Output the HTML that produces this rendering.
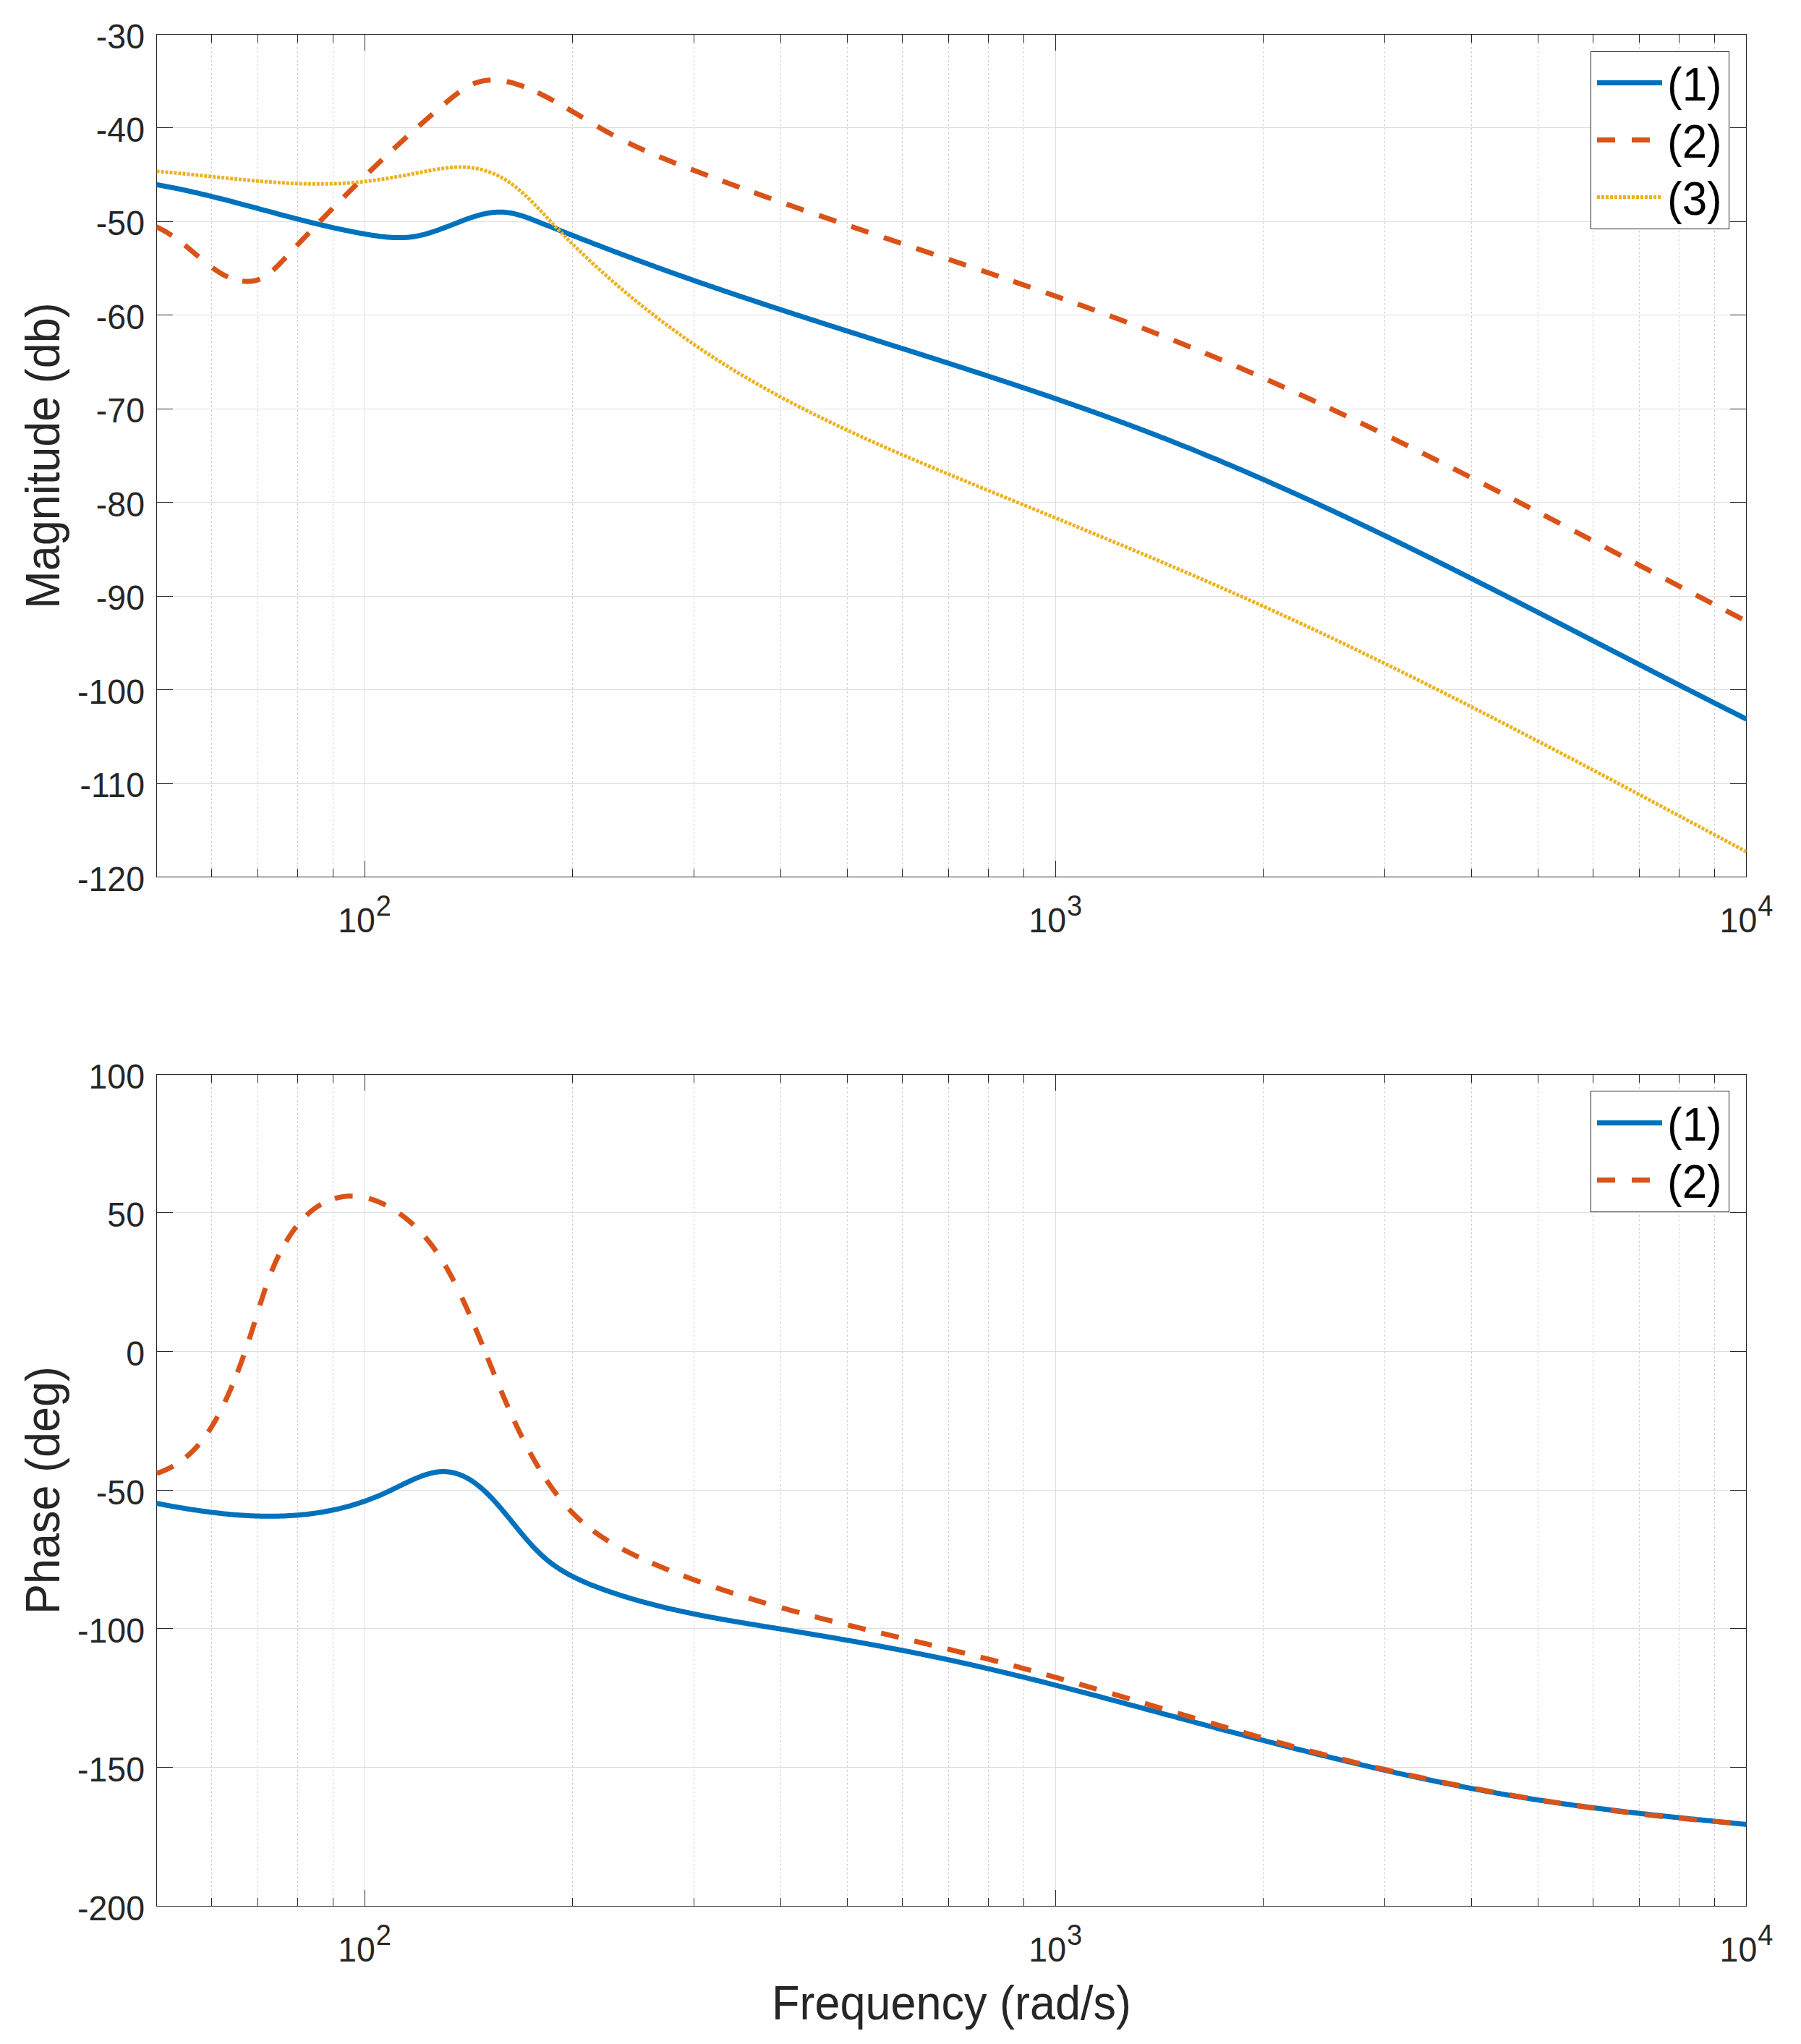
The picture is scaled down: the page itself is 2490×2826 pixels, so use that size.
<!DOCTYPE html>
<html><head><meta charset="utf-8"><title>Bode plot</title>
<style>html,body{margin:0;padding:0;background:#fff;} body{width:2490px;height:2826px;overflow:hidden;} svg{display:block;}</style>
</head><body>
<svg width="2490" height="2826" viewBox="0 0 2490 2826">
<style>text{font-family:'Liberation Sans', Arial, Helvetica, sans-serif;fill:#262626;} .tk{font-size:46.5px;} .sup{font-size:38px;} .lab{font-size:63px;} .lg{font-size:62px;fill:#000;}</style>
<rect width="2490" height="2826" fill="#fff"/>
<defs><clipPath id="cu"><rect x="216.5" y="47.5" width="2198.0" height="1165.0"/></clipPath><clipPath id="cl"><rect x="216.5" y="1485.5" width="2198.0" height="1150.0"/></clipPath></defs>
<line x1="292.5" y1="47.5" x2="292.5" y2="1212.5" stroke="#c4c4c4" stroke-width="1" stroke-dasharray="2.3 3.6"/>
<line x1="356.5" y1="47.5" x2="356.5" y2="1212.5" stroke="#c4c4c4" stroke-width="1" stroke-dasharray="2.3 3.6"/>
<line x1="411.5" y1="47.5" x2="411.5" y2="1212.5" stroke="#c4c4c4" stroke-width="1" stroke-dasharray="2.3 3.6"/>
<line x1="460.5" y1="47.5" x2="460.5" y2="1212.5" stroke="#c4c4c4" stroke-width="1" stroke-dasharray="2.3 3.6"/>
<line x1="791.5" y1="47.5" x2="791.5" y2="1212.5" stroke="#c4c4c4" stroke-width="1" stroke-dasharray="2.3 3.6"/>
<line x1="959.5" y1="47.5" x2="959.5" y2="1212.5" stroke="#c4c4c4" stroke-width="1" stroke-dasharray="2.3 3.6"/>
<line x1="1079.5" y1="47.5" x2="1079.5" y2="1212.5" stroke="#c4c4c4" stroke-width="1" stroke-dasharray="2.3 3.6"/>
<line x1="1171.5" y1="47.5" x2="1171.5" y2="1212.5" stroke="#c4c4c4" stroke-width="1" stroke-dasharray="2.3 3.6"/>
<line x1="1247.5" y1="47.5" x2="1247.5" y2="1212.5" stroke="#c4c4c4" stroke-width="1" stroke-dasharray="2.3 3.6"/>
<line x1="1311.5" y1="47.5" x2="1311.5" y2="1212.5" stroke="#c4c4c4" stroke-width="1" stroke-dasharray="2.3 3.6"/>
<line x1="1366.5" y1="47.5" x2="1366.5" y2="1212.5" stroke="#c4c4c4" stroke-width="1" stroke-dasharray="2.3 3.6"/>
<line x1="1415.5" y1="47.5" x2="1415.5" y2="1212.5" stroke="#c4c4c4" stroke-width="1" stroke-dasharray="2.3 3.6"/>
<line x1="1746.5" y1="47.5" x2="1746.5" y2="1212.5" stroke="#c4c4c4" stroke-width="1" stroke-dasharray="2.3 3.6"/>
<line x1="1914.5" y1="47.5" x2="1914.5" y2="1212.5" stroke="#c4c4c4" stroke-width="1" stroke-dasharray="2.3 3.6"/>
<line x1="2034.5" y1="47.5" x2="2034.5" y2="1212.5" stroke="#c4c4c4" stroke-width="1" stroke-dasharray="2.3 3.6"/>
<line x1="2126.5" y1="47.5" x2="2126.5" y2="1212.5" stroke="#c4c4c4" stroke-width="1" stroke-dasharray="2.3 3.6"/>
<line x1="2202.5" y1="47.5" x2="2202.5" y2="1212.5" stroke="#c4c4c4" stroke-width="1" stroke-dasharray="2.3 3.6"/>
<line x1="2266.5" y1="47.5" x2="2266.5" y2="1212.5" stroke="#c4c4c4" stroke-width="1" stroke-dasharray="2.3 3.6"/>
<line x1="2321.5" y1="47.5" x2="2321.5" y2="1212.5" stroke="#c4c4c4" stroke-width="1" stroke-dasharray="2.3 3.6"/>
<line x1="2370.5" y1="47.5" x2="2370.5" y2="1212.5" stroke="#c4c4c4" stroke-width="1" stroke-dasharray="2.3 3.6"/>
<line x1="504.5" y1="47.5" x2="504.5" y2="1212.5" stroke="#dedede" stroke-width="1"/>
<line x1="1459.5" y1="47.5" x2="1459.5" y2="1212.5" stroke="#dedede" stroke-width="1"/>
<line x1="216.5" y1="176.5" x2="2414.5" y2="176.5" stroke="#dedede" stroke-width="1"/>
<line x1="216.5" y1="306.5" x2="2414.5" y2="306.5" stroke="#dedede" stroke-width="1"/>
<line x1="216.5" y1="435.5" x2="2414.5" y2="435.5" stroke="#dedede" stroke-width="1"/>
<line x1="216.5" y1="565.5" x2="2414.5" y2="565.5" stroke="#dedede" stroke-width="1"/>
<line x1="216.5" y1="694.5" x2="2414.5" y2="694.5" stroke="#dedede" stroke-width="1"/>
<line x1="216.5" y1="824.5" x2="2414.5" y2="824.5" stroke="#dedede" stroke-width="1"/>
<line x1="216.5" y1="953.5" x2="2414.5" y2="953.5" stroke="#dedede" stroke-width="1"/>
<line x1="216.5" y1="1083.5" x2="2414.5" y2="1083.5" stroke="#dedede" stroke-width="1"/>
<path d="M292.5 1213V1201M292.5 47V59M356.5 1213V1201M356.5 47V59M411.5 1213V1201M411.5 47V59M460.5 1213V1201M460.5 47V59M791.5 1213V1201M791.5 47V59M959.5 1213V1201M959.5 47V59M1079.5 1213V1201M1079.5 47V59M1171.5 1213V1201M1171.5 47V59M1247.5 1213V1201M1247.5 47V59M1311.5 1213V1201M1311.5 47V59M1366.5 1213V1201M1366.5 47V59M1415.5 1213V1201M1415.5 47V59M1746.5 1213V1201M1746.5 47V59M1914.5 1213V1201M1914.5 47V59M2034.5 1213V1201M2034.5 47V59M2126.5 1213V1201M2126.5 47V59M2202.5 1213V1201M2202.5 47V59M2266.5 1213V1201M2266.5 47V59M2321.5 1213V1201M2321.5 47V59M2370.5 1213V1201M2370.5 47V59M504.5 1213V1190M504.5 47V70M1459.5 1213V1190M1459.5 47V70M216 47.5H239M2415 47.5H2392M216 176.5H239M2415 176.5H2392M216 306.5H239M2415 306.5H2392M216 435.5H239M2415 435.5H2392M216 565.5H239M2415 565.5H2392M216 694.5H239M2415 694.5H2392M216 824.5H239M2415 824.5H2392M216 953.5H239M2415 953.5H2392M216 1083.5H239M2415 1083.5H2392M216 1212.5H239M2415 1212.5H2392" stroke="#262626" stroke-width="1" fill="none"/>
<rect x="216.5" y="47.5" width="2198.0" height="1165.0" fill="none" stroke="#262626" stroke-width="1"/>
<text transform="translate(200 66.5) scale(1 1.05)" text-anchor="end" class="tk">-30</text>
<text transform="translate(200 195.94) scale(1 1.05)" text-anchor="end" class="tk">-40</text>
<text transform="translate(200 325.39) scale(1 1.05)" text-anchor="end" class="tk">-50</text>
<text transform="translate(200 454.83) scale(1 1.05)" text-anchor="end" class="tk">-60</text>
<text transform="translate(200 584.28) scale(1 1.05)" text-anchor="end" class="tk">-70</text>
<text transform="translate(200 713.72) scale(1 1.05)" text-anchor="end" class="tk">-80</text>
<text transform="translate(200 843.17) scale(1 1.05)" text-anchor="end" class="tk">-90</text>
<text transform="translate(200 972.61) scale(1 1.05)" text-anchor="end" class="tk">-100</text>
<text transform="translate(200 1102.06) scale(1 1.05)" text-anchor="end" class="tk">-110</text>
<text transform="translate(200 1231.5) scale(1 1.05)" text-anchor="end" class="tk">-120</text>
<text transform="translate(504.05 1289) scale(1 1.05)" text-anchor="middle" class="tk">10<tspan class="sup" dx="1" dy="-21.5">2</tspan></text>
<text transform="translate(1459.28 1289) scale(1 1.05)" text-anchor="middle" class="tk">10<tspan class="sup" dx="1" dy="-21.5">3</tspan></text>
<text transform="translate(2414.5 1289) scale(1 1.05)" text-anchor="middle" class="tk">10<tspan class="sup" dx="1" dy="-21.5">4</tspan></text>
<line x1="292.5" y1="1485.5" x2="292.5" y2="2635.5" stroke="#c4c4c4" stroke-width="1" stroke-dasharray="2.3 3.6"/>
<line x1="356.5" y1="1485.5" x2="356.5" y2="2635.5" stroke="#c4c4c4" stroke-width="1" stroke-dasharray="2.3 3.6"/>
<line x1="411.5" y1="1485.5" x2="411.5" y2="2635.5" stroke="#c4c4c4" stroke-width="1" stroke-dasharray="2.3 3.6"/>
<line x1="460.5" y1="1485.5" x2="460.5" y2="2635.5" stroke="#c4c4c4" stroke-width="1" stroke-dasharray="2.3 3.6"/>
<line x1="791.5" y1="1485.5" x2="791.5" y2="2635.5" stroke="#c4c4c4" stroke-width="1" stroke-dasharray="2.3 3.6"/>
<line x1="959.5" y1="1485.5" x2="959.5" y2="2635.5" stroke="#c4c4c4" stroke-width="1" stroke-dasharray="2.3 3.6"/>
<line x1="1079.5" y1="1485.5" x2="1079.5" y2="2635.5" stroke="#c4c4c4" stroke-width="1" stroke-dasharray="2.3 3.6"/>
<line x1="1171.5" y1="1485.5" x2="1171.5" y2="2635.5" stroke="#c4c4c4" stroke-width="1" stroke-dasharray="2.3 3.6"/>
<line x1="1247.5" y1="1485.5" x2="1247.5" y2="2635.5" stroke="#c4c4c4" stroke-width="1" stroke-dasharray="2.3 3.6"/>
<line x1="1311.5" y1="1485.5" x2="1311.5" y2="2635.5" stroke="#c4c4c4" stroke-width="1" stroke-dasharray="2.3 3.6"/>
<line x1="1366.5" y1="1485.5" x2="1366.5" y2="2635.5" stroke="#c4c4c4" stroke-width="1" stroke-dasharray="2.3 3.6"/>
<line x1="1415.5" y1="1485.5" x2="1415.5" y2="2635.5" stroke="#c4c4c4" stroke-width="1" stroke-dasharray="2.3 3.6"/>
<line x1="1746.5" y1="1485.5" x2="1746.5" y2="2635.5" stroke="#c4c4c4" stroke-width="1" stroke-dasharray="2.3 3.6"/>
<line x1="1914.5" y1="1485.5" x2="1914.5" y2="2635.5" stroke="#c4c4c4" stroke-width="1" stroke-dasharray="2.3 3.6"/>
<line x1="2034.5" y1="1485.5" x2="2034.5" y2="2635.5" stroke="#c4c4c4" stroke-width="1" stroke-dasharray="2.3 3.6"/>
<line x1="2126.5" y1="1485.5" x2="2126.5" y2="2635.5" stroke="#c4c4c4" stroke-width="1" stroke-dasharray="2.3 3.6"/>
<line x1="2202.5" y1="1485.5" x2="2202.5" y2="2635.5" stroke="#c4c4c4" stroke-width="1" stroke-dasharray="2.3 3.6"/>
<line x1="2266.5" y1="1485.5" x2="2266.5" y2="2635.5" stroke="#c4c4c4" stroke-width="1" stroke-dasharray="2.3 3.6"/>
<line x1="2321.5" y1="1485.5" x2="2321.5" y2="2635.5" stroke="#c4c4c4" stroke-width="1" stroke-dasharray="2.3 3.6"/>
<line x1="2370.5" y1="1485.5" x2="2370.5" y2="2635.5" stroke="#c4c4c4" stroke-width="1" stroke-dasharray="2.3 3.6"/>
<line x1="504.5" y1="1485.5" x2="504.5" y2="2635.5" stroke="#dedede" stroke-width="1"/>
<line x1="1459.5" y1="1485.5" x2="1459.5" y2="2635.5" stroke="#dedede" stroke-width="1"/>
<line x1="216.5" y1="1676.5" x2="2414.5" y2="1676.5" stroke="#dedede" stroke-width="1"/>
<line x1="216.5" y1="1868.5" x2="2414.5" y2="1868.5" stroke="#dedede" stroke-width="1"/>
<line x1="216.5" y1="2060.5" x2="2414.5" y2="2060.5" stroke="#dedede" stroke-width="1"/>
<line x1="216.5" y1="2251.5" x2="2414.5" y2="2251.5" stroke="#dedede" stroke-width="1"/>
<line x1="216.5" y1="2443.5" x2="2414.5" y2="2443.5" stroke="#dedede" stroke-width="1"/>
<path d="M292.5 2636V2624M292.5 1485V1497M356.5 2636V2624M356.5 1485V1497M411.5 2636V2624M411.5 1485V1497M460.5 2636V2624M460.5 1485V1497M791.5 2636V2624M791.5 1485V1497M959.5 2636V2624M959.5 1485V1497M1079.5 2636V2624M1079.5 1485V1497M1171.5 2636V2624M1171.5 1485V1497M1247.5 2636V2624M1247.5 1485V1497M1311.5 2636V2624M1311.5 1485V1497M1366.5 2636V2624M1366.5 1485V1497M1415.5 2636V2624M1415.5 1485V1497M1746.5 2636V2624M1746.5 1485V1497M1914.5 2636V2624M1914.5 1485V1497M2034.5 2636V2624M2034.5 1485V1497M2126.5 2636V2624M2126.5 1485V1497M2202.5 2636V2624M2202.5 1485V1497M2266.5 2636V2624M2266.5 1485V1497M2321.5 2636V2624M2321.5 1485V1497M2370.5 2636V2624M2370.5 1485V1497M504.5 2636V2613M504.5 1485V1508M1459.5 2636V2613M1459.5 1485V1508M216 1485.5H239M2415 1485.5H2392M216 1676.5H239M2415 1676.5H2392M216 1868.5H239M2415 1868.5H2392M216 2060.5H239M2415 2060.5H2392M216 2251.5H239M2415 2251.5H2392M216 2443.5H239M2415 2443.5H2392M216 2635.5H239M2415 2635.5H2392" stroke="#262626" stroke-width="1" fill="none"/>
<rect x="216.5" y="1485.5" width="2198.0" height="1150.0" fill="none" stroke="#262626" stroke-width="1"/>
<text transform="translate(200 1504.5) scale(1 1.05)" text-anchor="end" class="tk">100</text>
<text transform="translate(200 1696.17) scale(1 1.05)" text-anchor="end" class="tk">50</text>
<text transform="translate(200 1887.83) scale(1 1.05)" text-anchor="end" class="tk">0</text>
<text transform="translate(200 2079.5) scale(1 1.05)" text-anchor="end" class="tk">-50</text>
<text transform="translate(200 2271.17) scale(1 1.05)" text-anchor="end" class="tk">-100</text>
<text transform="translate(200 2462.83) scale(1 1.05)" text-anchor="end" class="tk">-150</text>
<text transform="translate(200 2654.5) scale(1 1.05)" text-anchor="end" class="tk">-200</text>
<text transform="translate(504.05 2712) scale(1 1.05)" text-anchor="middle" class="tk">10<tspan class="sup" dx="1" dy="-21.5">2</tspan></text>
<text transform="translate(1459.28 2712) scale(1 1.05)" text-anchor="middle" class="tk">10<tspan class="sup" dx="1" dy="-21.5">3</tspan></text>
<text transform="translate(2414.5 2712) scale(1 1.05)" text-anchor="middle" class="tk">10<tspan class="sup" dx="1" dy="-21.5">4</tspan></text>
<g clip-path="url(#cu)" fill="none" stroke-linejoin="round">
<path d="M216.45 255.34 L218.42 255.68 L220.39 256.03 L222.36 256.38 L224.33 256.74 L226.3 257.09 L228.26 257.46 L230.23 257.83 L232.19 258.2 L234.16 258.58 L236.12 258.96 L238.08 259.35 L240.04 259.74 L242 260.13 L243.96 260.53 L245.92 260.93 L247.87 261.34 L249.83 261.74 L251.78 262.16 L253.74 262.58 L255.69 263 L257.64 263.42 L259.6 263.85 L261.55 264.28 L263.5 264.71 L265.45 265.15 L267.4 265.59 L269.34 266.04 L271.29 266.48 L273.24 266.93 L275.18 267.39 L277.13 267.84 L279.07 268.3 L281.02 268.76 L282.96 269.23 L284.9 269.7 L286.84 270.17 L288.78 270.64 L290.72 271.11 L292.67 271.59 L294.6 272.07 L296.54 272.55 L298.48 273.03 L300.42 273.52 L302.36 274.01 L304.3 274.5 L306.23 274.99 L308.17 275.48 L310.1 275.98 L312.04 276.48 L313.98 276.98 L315.91 277.48 L317.84 277.98 L319.78 278.48 L321.71 278.99 L323.65 279.49 L325.58 280 L327.51 280.51 L329.44 281.02 L331.38 281.53 L333.31 282.04 L335.24 282.56 L337.17 283.07 L339.1 283.59 L341.04 284.1 L342.97 284.62 L344.9 285.14 L346.83 285.65 L348.76 286.17 L350.69 286.69 L352.62 287.21 L354.55 287.73 L356.48 288.25 L358.41 288.77 L360.35 289.29 L362.28 289.81 L364.21 290.33 L366.14 290.85 L368.07 291.36 L370 291.88 L371.93 292.4 L373.86 292.92 L375.79 293.44 L377.72 293.96 L379.65 294.48 L381.59 294.99 L383.52 295.51 L385.45 296.02 L387.38 296.54 L389.31 297.05 L391.25 297.56 L393.18 298.08 L395.11 298.59 L397.05 299.1 L398.98 299.6 L400.91 300.11 L402.85 300.62 L404.78 301.12 L406.72 301.63 L408.65 302.13 L410.59 302.63 L412.53 303.13 L414.46 303.62 L416.4 304.12 L418.34 304.61 L420.28 305.1 L422.21 305.59 L424.15 306.08 L426.09 306.56 L428.03 307.05 L429.97 307.53 L431.92 308 L433.86 308.48 L435.8 308.95 L437.74 309.43 L439.69 309.89 L441.63 310.36 L443.58 310.82 L445.52 311.28 L447.47 311.74 L449.41 312.2 L451.36 312.65 L453.31 313.1 L455.26 313.54 L457.21 313.99 L459.16 314.43 L461.11 314.86 L463.06 315.3 L465.02 315.73 L466.97 316.15 L468.93 316.58 L470.88 316.99 L472.84 317.41 L474.8 317.82 L476.75 318.23 L478.71 318.63 L480.67 319.04 L482.64 319.43 L484.6 319.82 L486.56 320.21 L488.53 320.6 L490.49 320.98 L492.46 321.35 L494.43 321.72 L496.39 322.09 L498.36 322.45 L500.33 322.81 L502.31 323.16 L504.28 323.51 L506.25 323.86 L508.23 324.19 L510.2 324.53 L512.18 324.85 L514.16 325.17 L516.14 325.48 L518.12 325.78 L520.1 326.07 L522.08 326.34 L524.06 326.61 L526.03 326.86 L528.01 327.1 L529.99 327.33 L531.97 327.54 L533.95 327.73 L535.93 327.91 L537.91 328.07 L539.88 328.21 L541.86 328.33 L543.83 328.43 L545.8 328.51 L547.78 328.57 L549.75 328.6 L551.71 328.62 L553.68 328.6 L555.65 328.57 L557.61 328.5 L559.57 328.41 L561.53 328.29 L563.49 328.15 L565.44 327.97 L567.39 327.76 L569.34 327.53 L571.29 327.26 L573.23 326.95 L575.17 326.62 L577.11 326.26 L579.05 325.87 L580.98 325.44 L582.91 325 L584.84 324.53 L586.77 324.03 L588.69 323.51 L590.61 322.96 L592.54 322.4 L594.46 321.82 L596.38 321.21 L598.3 320.59 L600.21 319.95 L602.13 319.3 L604.05 318.63 L605.96 317.95 L607.87 317.26 L609.79 316.56 L611.7 315.84 L613.62 315.12 L615.53 314.39 L617.45 313.65 L619.36 312.91 L621.27 312.17 L623.19 311.42 L625.11 310.67 L627.02 309.92 L628.94 309.16 L630.86 308.41 L632.78 307.67 L634.7 306.93 L636.63 306.19 L638.55 305.46 L640.47 304.73 L642.4 304.02 L644.32 303.32 L646.25 302.63 L648.17 301.95 L650.1 301.29 L652.03 300.64 L653.95 300.01 L655.88 299.4 L657.81 298.81 L659.73 298.24 L661.66 297.7 L663.59 297.18 L665.51 296.68 L667.44 296.21 L669.36 295.77 L671.29 295.36 L673.21 294.98 L675.13 294.63 L677.05 294.31 L678.97 294.03 L680.89 293.79 L682.81 293.58 L684.72 293.41 L686.64 293.28 L688.55 293.2 L690.46 293.15 L692.37 293.15 L694.28 293.2 L696.19 293.29 L698.09 293.43 L699.99 293.62 L701.89 293.85 L703.79 294.12 L705.69 294.44 L707.58 294.79 L709.48 295.18 L711.37 295.6 L713.26 296.06 L715.15 296.55 L717.04 297.07 L718.92 297.62 L720.81 298.19 L722.69 298.79 L724.57 299.41 L726.46 300.05 L728.34 300.7 L730.22 301.38 L732.09 302.07 L733.97 302.77 L735.85 303.49 L737.73 304.21 L739.6 304.94 L741.48 305.68 L743.35 306.42 L745.23 307.17 L747.1 307.91 L748.97 308.65 L750.85 309.4 L752.72 310.14 L754.59 310.88 L756.47 311.62 L758.34 312.36 L760.21 313.1 L762.08 313.84 L763.95 314.58 L765.82 315.32 L767.69 316.06 L769.57 316.8 L771.44 317.53 L773.31 318.27 L775.18 319.01 L777.04 319.74 L778.91 320.48 L780.78 321.21 L782.65 321.94 L784.52 322.68 L786.39 323.41 L788.26 324.14 L790.13 324.87 L791.99 325.6 L793.86 326.33 L795.73 327.06 L797.6 327.79 L799.47 328.51 L801.33 329.24 L803.2 329.97 L805.07 330.69 L806.93 331.42 L808.8 332.14 L810.67 332.87 L812.54 333.59 L814.4 334.31 L816.27 335.03 L818.14 335.76 L820 336.48 L821.87 337.2 L823.74 337.91 L825.6 338.63 L827.47 339.35 L829.34 340.07 L831.2 340.78 L833.07 341.5 L834.94 342.21 L836.81 342.93 L838.67 343.64 L840.54 344.35 L842.41 345.06 L844.27 345.77 L846.14 346.48 L848.01 347.19 L849.88 347.9 L851.74 348.61 L853.61 349.31 L855.48 350.02 L857.35 350.73 L859.22 351.43 L861.09 352.13 L862.95 352.84 L864.82 353.54 L866.69 354.24 L868.56 354.94 L870.43 355.64 L872.3 356.34 L874.17 357.04 L876.04 357.73 L877.91 358.43 L879.78 359.12 L881.65 359.82 L883.52 360.51 L885.39 361.2 L887.27 361.9 L889.14 362.59 L891.01 363.28 L892.88 363.97 L894.76 364.65 L896.63 365.34 L898.5 366.03 L900.38 366.71 L902.25 367.4 L904.12 368.08 L906 368.76 L907.88 369.45 L909.75 370.13 L911.63 370.81 L913.5 371.49 L915.38 372.16 L917.26 372.84 L919.13 373.52 L921.01 374.19 L922.89 374.87 L924.77 375.54 L926.65 376.21 L928.53 376.88 L930.41 377.56 L932.29 378.23 L934.17 378.9 L936.05 379.56 L937.93 380.23 L939.81 380.9 L941.69 381.56 L943.57 382.23 L945.46 382.89 L947.34 383.56 L949.22 384.22 L951.11 384.88 L952.99 385.54 L954.87 386.2 L956.76 386.86 L958.64 387.52 L960.53 388.18 L962.41 388.83 L964.3 389.49 L966.18 390.14 L968.07 390.8 L969.96 391.45 L971.84 392.11 L973.73 392.76 L975.62 393.41 L977.51 394.06 L979.4 394.71 L981.28 395.36 L983.17 396.01 L985.06 396.66 L986.95 397.31 L988.84 397.95 L990.73 398.6 L992.62 399.24 L994.51 399.89 L996.4 400.53 L998.29 401.17 L1000.18 401.82 L1002.07 402.46 L1003.97 403.1 L1005.86 403.74 L1007.75 404.38 L1009.64 405.02 L1011.54 405.66 L1013.43 406.3 L1015.32 406.94 L1017.21 407.57 L1019.11 408.21 L1021 408.84 L1022.9 409.48 L1024.79 410.11 L1026.69 410.75 L1028.58 411.38 L1030.48 412.01 L1032.37 412.65 L1034.27 413.28 L1036.16 413.91 L1038.06 414.54 L1039.96 415.17 L1041.85 415.8 L1043.75 416.43 L1045.65 417.06 L1047.54 417.68 L1049.44 418.31 L1051.34 418.94 L1053.24 419.57 L1055.13 420.19 L1057.03 420.82 L1058.93 421.44 L1060.83 422.07 L1062.73 422.69 L1064.63 423.31 L1066.53 423.94 L1068.42 424.56 L1070.32 425.18 L1072.22 425.8 L1074.12 426.42 L1076.02 427.04 L1077.92 427.67 L1079.82 428.29 L1081.73 428.9 L1083.63 429.52 L1085.53 430.14 L1087.43 430.76 L1089.33 431.38 L1091.23 432 L1093.13 432.61 L1095.03 433.23 L1096.94 433.85 L1098.84 434.46 L1100.74 435.08 L1102.64 435.69 L1104.55 436.31 L1106.45 436.92 L1108.35 437.54 L1110.25 438.15 L1112.16 438.77 L1114.06 439.38 L1115.96 439.99 L1117.87 440.6 L1119.77 441.22 L1121.67 441.83 L1123.58 442.44 L1125.48 443.05 L1127.39 443.66 L1129.29 444.27 L1131.19 444.89 L1133.1 445.5 L1135 446.11 L1136.91 446.72 L1138.81 447.33 L1140.72 447.94 L1142.62 448.54 L1144.53 449.15 L1146.43 449.76 L1148.34 450.37 L1150.24 450.98 L1152.15 451.59 L1154.05 452.2 L1155.96 452.8 L1157.87 453.41 L1159.77 454.02 L1161.68 454.63 L1163.58 455.23 L1165.49 455.84 L1167.4 456.45 L1169.3 457.05 L1171.21 457.66 L1173.11 458.27 L1175.02 458.87 L1176.93 459.48 L1178.83 460.08 L1180.74 460.69 L1182.65 461.29 L1184.55 461.9 L1186.46 462.51 L1188.37 463.11 L1190.27 463.72 L1192.18 464.32 L1194.09 464.93 L1195.99 465.53 L1197.9 466.14 L1199.81 466.74 L1201.71 467.35 L1203.62 467.95 L1205.53 468.56 L1207.43 469.16 L1209.34 469.76 L1211.25 470.37 L1213.16 470.97 L1215.06 471.58 L1216.97 472.18 L1218.88 472.79 L1220.78 473.39 L1222.69 474 L1224.6 474.6 L1226.51 475.21 L1228.41 475.81 L1230.32 476.42 L1232.23 477.02 L1234.13 477.62 L1236.04 478.23 L1237.95 478.83 L1239.86 479.44 L1241.76 480.04 L1243.67 480.65 L1245.58 481.25 L1247.48 481.86 L1249.39 482.46 L1251.3 483.07 L1253.2 483.68 L1255.11 484.28 L1257.02 484.89 L1258.92 485.49 L1260.83 486.1 L1262.74 486.7 L1264.64 487.31 L1266.55 487.92 L1268.46 488.52 L1270.36 489.13 L1272.27 489.74 L1274.18 490.34 L1276.08 490.95 L1277.99 491.56 L1279.9 492.16 L1281.8 492.77 L1283.71 493.38 L1285.61 493.99 L1287.52 494.6 L1289.43 495.2 L1291.33 495.81 L1293.24 496.42 L1295.14 497.03 L1297.05 497.64 L1298.95 498.25 L1300.86 498.86 L1302.76 499.47 L1304.67 500.08 L1306.57 500.69 L1308.48 501.3 L1310.38 501.91 L1312.29 502.52 L1314.19 503.13 L1316.1 503.75 L1318 504.36 L1319.91 504.97 L1321.81 505.58 L1323.72 506.2 L1325.62 506.81 L1327.52 507.42 L1329.43 508.04 L1331.33 508.65 L1333.23 509.27 L1335.14 509.88 L1337.04 510.5 L1338.94 511.11 L1340.85 511.73 L1342.75 512.34 L1344.65 512.96 L1346.56 513.58 L1348.46 514.2 L1350.36 514.81 L1352.26 515.43 L1354.16 516.05 L1356.07 516.67 L1357.97 517.29 L1359.87 517.91 L1361.77 518.53 L1363.67 519.15 L1365.57 519.77 L1367.47 520.39 L1369.37 521.02 L1371.28 521.64 L1373.18 522.26 L1375.08 522.88 L1376.98 523.51 L1378.88 524.13 L1380.78 524.76 L1382.67 525.38 L1384.57 526.01 L1386.47 526.63 L1388.37 527.26 L1390.27 527.89 L1392.17 528.52 L1394.07 529.15 L1395.97 529.77 L1397.86 530.4 L1399.76 531.03 L1401.66 531.66 L1403.56 532.3 L1405.45 532.93 L1407.35 533.56 L1409.25 534.19 L1411.14 534.83 L1413.04 535.46 L1414.93 536.09 L1416.83 536.73 L1418.73 537.36 L1420.62 538 L1422.52 538.64 L1424.41 539.27 L1426.31 539.91 L1428.2 540.55 L1430.09 541.19 L1431.99 541.83 L1433.88 542.47 L1435.78 543.11 L1437.67 543.75 L1439.56 544.4 L1441.45 545.04 L1443.35 545.68 L1445.24 546.33 L1447.13 546.97 L1449.02 547.62 L1450.91 548.27 L1452.8 548.91 L1454.69 549.56 L1456.58 550.21 L1458.48 550.86 L1460.37 551.51 L1462.25 552.16 L1464.14 552.81 L1466.03 553.47 L1467.92 554.12 L1469.81 554.77 L1471.7 555.43 L1473.59 556.08 L1475.47 556.74 L1477.36 557.39 L1479.25 558.05 L1481.14 558.71 L1483.02 559.37 L1484.91 560.03 L1486.79 560.69 L1488.68 561.35 L1490.56 562.01 L1492.45 562.68 L1494.33 563.34 L1496.22 564.01 L1498.1 564.67 L1499.99 565.34 L1501.87 566.01 L1503.75 566.67 L1505.63 567.34 L1507.52 568.01 L1509.4 568.68 L1511.28 569.36 L1513.16 570.03 L1515.04 570.7 L1516.92 571.38 L1518.8 572.05 L1520.68 572.73 L1522.56 573.41 L1524.44 574.08 L1526.32 574.76 L1528.2 575.44 L1530.08 576.12 L1531.95 576.8 L1533.83 577.49 L1535.71 578.17 L1537.58 578.85 L1539.46 579.54 L1541.34 580.23 L1543.21 580.91 L1545.09 581.6 L1546.96 582.29 L1548.84 582.98 L1550.71 583.67 L1552.58 584.37 L1554.46 585.06 L1556.33 585.75 L1558.2 586.45 L1560.07 587.15 L1561.94 587.84 L1563.82 588.54 L1565.69 589.24 L1567.56 589.94 L1569.43 590.64 L1571.3 591.35 L1573.17 592.05 L1575.03 592.75 L1576.9 593.46 L1578.77 594.17 L1580.64 594.87 L1582.5 595.58 L1584.37 596.29 L1586.24 597 L1588.1 597.72 L1589.97 598.43 L1591.83 599.15 L1593.7 599.86 L1595.56 600.58 L1597.43 601.3 L1599.29 602.01 L1601.15 602.74 L1603.01 603.46 L1604.87 604.18 L1606.74 604.9 L1608.6 605.63 L1610.46 606.35 L1612.32 607.08 L1614.18 607.81 L1616.04 608.54 L1617.89 609.27 L1619.75 610 L1621.61 610.73 L1623.47 611.47 L1625.32 612.2 L1627.18 612.94 L1629.04 613.68 L1630.89 614.42 L1632.75 615.16 L1634.6 615.9 L1636.46 616.64 L1638.31 617.38 L1640.16 618.13 L1642.01 618.87 L1643.87 619.62 L1645.72 620.37 L1647.57 621.11 L1649.42 621.86 L1651.27 622.61 L1653.12 623.37 L1654.97 624.12 L1656.82 624.87 L1658.67 625.63 L1660.52 626.38 L1662.37 627.14 L1664.21 627.9 L1666.06 628.66 L1667.91 629.42 L1669.76 630.18 L1671.6 630.94 L1673.45 631.71 L1675.29 632.47 L1677.14 633.24 L1678.98 634 L1680.83 634.77 L1682.67 635.54 L1684.51 636.31 L1686.35 637.08 L1688.2 637.85 L1690.04 638.63 L1691.88 639.4 L1693.72 640.17 L1695.56 640.95 L1697.4 641.73 L1699.24 642.5 L1701.08 643.28 L1702.92 644.06 L1704.76 644.84 L1706.6 645.63 L1708.44 646.41 L1710.27 647.19 L1712.11 647.98 L1713.95 648.76 L1715.78 649.55 L1717.62 650.34 L1719.46 651.12 L1721.29 651.91 L1723.13 652.7 L1724.96 653.5 L1726.79 654.29 L1728.63 655.08 L1730.46 655.88 L1732.3 656.67 L1734.13 657.47 L1735.96 658.26 L1737.79 659.06 L1739.62 659.86 L1741.45 660.66 L1743.29 661.46 L1745.12 662.26 L1746.95 663.06 L1748.78 663.87 L1750.6 664.67 L1752.43 665.48 L1754.26 666.28 L1756.09 667.09 L1757.92 667.9 L1759.75 668.71 L1761.57 669.52 L1763.4 670.33 L1765.23 671.14 L1767.05 671.95 L1768.88 672.76 L1770.7 673.58 L1772.53 674.39 L1774.35 675.21 L1776.18 676.02 L1778 676.84 L1779.83 677.66 L1781.65 678.48 L1783.47 679.3 L1785.29 680.12 L1787.12 680.94 L1788.94 681.76 L1790.76 682.58 L1792.58 683.41 L1794.4 684.23 L1796.22 685.06 L1798.04 685.88 L1799.86 686.71 L1801.68 687.54 L1803.5 688.37 L1805.32 689.2 L1807.14 690.03 L1808.96 690.86 L1810.78 691.69 L1812.59 692.52 L1814.41 693.35 L1816.23 694.19 L1818.05 695.02 L1819.86 695.86 L1821.68 696.69 L1823.49 697.53 L1825.31 698.37 L1827.13 699.21 L1828.94 700.05 L1830.75 700.89 L1832.57 701.73 L1834.38 702.57 L1836.2 703.41 L1838.01 704.26 L1839.82 705.1 L1841.64 705.94 L1843.45 706.79 L1845.26 707.63 L1847.07 708.48 L1848.88 709.33 L1850.7 710.18 L1852.51 711.02 L1854.32 711.87 L1856.13 712.72 L1857.94 713.57 L1859.75 714.43 L1861.56 715.28 L1863.37 716.13 L1865.18 716.98 L1866.98 717.84 L1868.79 718.69 L1870.6 719.55 L1872.41 720.4 L1874.22 721.26 L1876.02 722.12 L1877.83 722.98 L1879.64 723.83 L1881.44 724.69 L1883.25 725.55 L1885.06 726.41 L1886.86 727.28 L1888.67 728.14 L1890.47 729 L1892.28 729.86 L1894.08 730.73 L1895.88 731.59 L1897.69 732.46 L1899.49 733.32 L1901.3 734.19 L1903.1 735.05 L1904.9 735.92 L1906.71 736.79 L1908.51 737.66 L1910.31 738.53 L1912.11 739.4 L1913.91 740.27 L1915.71 741.14 L1917.52 742.01 L1919.32 742.88 L1921.12 743.75 L1922.92 744.63 L1924.72 745.5 L1926.52 746.37 L1928.32 747.25 L1930.12 748.12 L1931.92 749 L1933.72 749.88 L1935.51 750.75 L1937.31 751.63 L1939.11 752.51 L1940.91 753.39 L1942.71 754.26 L1944.51 755.14 L1946.3 756.02 L1948.1 756.9 L1949.9 757.79 L1951.69 758.67 L1953.49 759.55 L1955.29 760.43 L1957.08 761.31 L1958.88 762.2 L1960.67 763.08 L1962.47 763.97 L1964.26 764.85 L1966.06 765.74 L1967.85 766.62 L1969.65 767.51 L1971.44 768.39 L1973.24 769.28 L1975.03 770.17 L1976.82 771.06 L1978.62 771.95 L1980.41 772.83 L1982.2 773.72 L1984 774.61 L1985.79 775.5 L1987.58 776.4 L1989.37 777.29 L1991.17 778.18 L1992.96 779.07 L1994.75 779.96 L1996.54 780.85 L1998.33 781.75 L2000.12 782.64 L2001.91 783.54 L2003.7 784.43 L2005.49 785.33 L2007.29 786.22 L2009.08 787.12 L2010.87 788.01 L2012.65 788.91 L2014.44 789.8 L2016.23 790.7 L2018.02 791.6 L2019.81 792.5 L2021.6 793.4 L2023.39 794.29 L2025.18 795.19 L2026.97 796.09 L2028.75 796.99 L2030.54 797.89 L2032.33 798.79 L2034.12 799.69 L2035.9 800.59 L2037.69 801.5 L2039.48 802.4 L2041.27 803.3 L2043.05 804.2 L2044.84 805.1 L2046.63 806.01 L2048.41 806.91 L2050.2 807.81 L2051.98 808.72 L2053.77 809.62 L2055.56 810.53 L2057.34 811.43 L2059.13 812.34 L2060.91 813.24 L2062.7 814.15 L2064.48 815.05 L2066.27 815.96 L2068.05 816.86 L2069.84 817.77 L2071.62 818.68 L2073.4 819.59 L2075.19 820.49 L2076.97 821.4 L2078.76 822.31 L2080.54 823.22 L2082.32 824.12 L2084.11 825.03 L2085.89 825.94 L2087.67 826.85 L2089.45 827.76 L2091.24 828.67 L2093.02 829.58 L2094.8 830.49 L2096.58 831.4 L2098.37 832.31 L2100.15 833.22 L2101.93 834.13 L2103.71 835.04 L2105.5 835.95 L2107.28 836.87 L2109.06 837.78 L2110.84 838.69 L2112.62 839.6 L2114.4 840.51 L2116.18 841.43 L2117.96 842.34 L2119.74 843.25 L2121.53 844.16 L2123.31 845.08 L2125.09 845.99 L2126.87 846.9 L2128.65 847.82 L2130.43 848.73 L2132.21 849.64 L2133.99 850.56 L2135.77 851.47 L2137.55 852.39 L2139.33 853.3 L2141.11 854.21 L2142.89 855.13 L2144.67 856.04 L2146.44 856.96 L2148.22 857.87 L2150 858.79 L2151.78 859.7 L2153.56 860.62 L2155.34 861.53 L2157.12 862.45 L2158.9 863.36 L2160.68 864.28 L2162.45 865.2 L2164.23 866.11 L2166.01 867.03 L2167.79 867.94 L2169.57 868.86 L2171.35 869.77 L2173.12 870.69 L2174.9 871.61 L2176.68 872.52 L2178.46 873.44 L2180.24 874.36 L2182.01 875.27 L2183.79 876.19 L2185.57 877.1 L2187.35 878.02 L2189.12 878.94 L2190.9 879.85 L2192.68 880.77 L2194.46 881.69 L2196.23 882.6 L2198.01 883.52 L2199.79 884.44 L2201.56 885.35 L2203.34 886.27 L2205.12 887.19 L2206.89 888.1 L2208.67 889.02 L2210.45 889.94 L2212.22 890.85 L2214 891.77 L2215.78 892.68 L2217.55 893.6 L2219.33 894.52 L2221.11 895.43 L2222.88 896.35 L2224.66 897.27 L2226.44 898.18 L2228.21 899.1 L2229.99 900.01 L2231.77 900.93 L2233.54 901.85 L2235.32 902.76 L2237.09 903.68 L2238.87 904.59 L2240.65 905.51 L2242.42 906.43 L2244.2 907.34 L2245.97 908.26 L2247.75 909.17 L2249.53 910.09 L2251.3 911 L2253.08 911.92 L2254.85 912.83 L2256.63 913.75 L2258.41 914.66 L2260.18 915.58 L2261.96 916.49 L2263.73 917.41 L2265.51 918.32 L2267.29 919.23 L2269.06 920.15 L2270.84 921.06 L2272.61 921.98 L2274.39 922.89 L2276.16 923.8 L2277.94 924.72 L2279.72 925.63 L2281.49 926.54 L2283.27 927.46 L2285.04 928.37 L2286.82 929.28 L2288.59 930.19 L2290.37 931.11 L2292.15 932.02 L2293.92 932.93 L2295.7 933.84 L2297.47 934.75 L2299.25 935.66 L2301.03 936.57 L2302.8 937.49 L2304.58 938.4 L2306.35 939.31 L2308.13 940.22 L2309.91 941.13 L2311.68 942.04 L2313.46 942.95 L2315.23 943.86 L2317.01 944.76 L2318.79 945.67 L2320.56 946.58 L2322.34 947.49 L2324.11 948.4 L2325.89 949.31 L2327.67 950.21 L2329.44 951.12 L2331.22 952.03 L2332.99 952.94 L2334.77 953.84 L2336.55 954.75 L2338.32 955.66 L2340.1 956.56 L2341.88 957.47 L2343.65 958.37 L2345.43 959.28 L2347.21 960.18 L2348.98 961.09 L2350.76 961.99 L2352.54 962.89 L2354.31 963.8 L2356.09 964.7 L2357.87 965.6 L2359.64 966.51 L2361.42 967.41 L2363.2 968.31 L2364.98 969.21 L2366.75 970.11 L2368.53 971.02 L2370.31 971.92 L2372.08 972.82 L2373.86 973.72 L2375.64 974.62 L2377.42 975.52 L2379.19 976.41 L2380.97 977.31 L2382.75 978.21 L2384.53 979.11 L2386.31 980.01 L2388.08 980.9 L2389.86 981.8 L2391.64 982.7 L2393.42 983.59 L2395.2 984.49 L2396.97 985.38 L2398.75 986.28 L2400.53 987.17 L2402.31 988.07 L2404.09 988.96 L2405.87 989.86 L2407.65 990.75 L2409.43 991.64 L2411.2 992.53 L2412.98 993.42 L2414.76 994.32" stroke="#0072BD" stroke-width="7"/>
<path d="M215.89 313.54 L216.8 313.95 L217.71 314.37 L218.61 314.8 L219.51 315.23 L220.4 315.67 L221.29 316.11 L222.17 316.56 L223.05 317.02 L223.92 317.48 L224.78 317.94 L225.65 318.42 L226.51 318.89 L227.36 319.37 L228.21 319.86 L229.06 320.35 L229.9 320.85 L230.74 321.35 L231.57 321.86 L232.4 322.37 L233.23 322.88 L234.05 323.4 L234.88 323.93 L235.69 324.46 L236.51 324.99 L237.32 325.53 L238.13 326.07 L238.93 326.62 L239.74 327.17 L240.54 327.72 L241.34 328.28 L242.13 328.85 L242.93 329.41 L243.72 329.98 L244.51 330.56 L245.3 331.14 L246.08 331.72 L246.42 331.97" stroke="#D95319" stroke-width="7" stroke-dasharray="25 23" stroke-dashoffset="0"/>
<path d="M246.42 331.97 L246.87 332.3 L247.65 332.89 L248.43 333.49 L249.21 334.08 L249.99 334.68 L250.77 335.28 L251.55 335.89 L252.32 336.5 L253.1 337.11 L253.87 337.72 L254.65 338.34 L255.42 338.96 L256.2 339.59 L256.97 340.21 L257.74 340.84 L258.52 341.47 L259.29 342.11 L260.06 342.74 L260.84 343.38 L261.61 344.02 L262.39 344.67 L263.16 345.31 L263.94 345.96 L264.71 346.61 L265.49 347.26 L266.27 347.92 L267.05 348.57 L267.83 349.23 L268.62 349.89 L269.4 350.55 L270.19 351.21 L270.97 351.87 L271.76 352.54 L272.56 353.21 L273.35 353.88 L274.15 354.54 L274.94 355.22 L275.74 355.89 L276.55 356.56 L277.35 357.23 L278.16 357.91 L278.97 358.58 L279.78 359.25 L280.6 359.92 L281.42 360.59 L282.23 361.26 L283.06 361.93 L283.88 362.6 L284.58 363.16" stroke="#D95319" stroke-width="7" stroke-dasharray="25 23" stroke-dashoffset="36.5"/>
<path d="M284.58 363.16 L284.71 363.26 L285.54 363.92 L286.37 364.58 L287.2 365.24 L288.04 365.89 L288.88 366.54 L289.72 367.18 L290.56 367.83 L291.41 368.46 L292.26 369.1 L293.11 369.72 L293.96 370.35 L294.82 370.96 L295.68 371.57 L296.54 372.18 L297.4 372.78 L298.27 373.37 L299.13 373.95 L300.01 374.53 L300.88 375.1 L301.76 375.67 L302.63 376.22 L303.52 376.77 L304.4 377.31 L305.29 377.84 L306.17 378.36 L307.07 378.87 L307.96 379.37 L308.86 379.86 L309.76 380.34 L310.66 380.81 L311.56 381.27 L312.47 381.72 L313.38 382.16 L314.29 382.58 L315.21 383 L316.12 383.4 L317.04 383.79 L317.97 384.16 L318.89 384.53 L319.82 384.88 L320.75 385.22 L321.67 385.54 L322.61 385.86 L323.54 386.16 L323.68 386.2" stroke="#D95319" stroke-width="7" stroke-dasharray="25 23" stroke-dashoffset="36.5"/>
<path d="M323.68 386.2 L324.47 386.44 L325.4 386.71 L326.34 386.97 L327.27 387.22 L328.21 387.45 L329.14 387.67 L330.08 387.87 L331.01 388.06 L331.95 388.23 L332.88 388.39 L333.81 388.53 L334.74 388.66 L335.67 388.77 L336.6 388.87 L337.53 388.95 L338.46 389.02 L339.38 389.07 L340.3 389.11 L341.22 389.13 L342.14 389.13 L343.06 389.12 L343.97 389.09 L344.88 389.04 L345.78 388.98 L346.69 388.9 L347.59 388.8 L348.48 388.69 L349.37 388.56 L350.26 388.41 L351.14 388.24 L352.02 388.06 L352.9 387.86 L353.77 387.63 L354.63 387.4 L355.49 387.14 L356.35 386.86 L357.2 386.57 L358.04 386.26 L358.88 385.93 L359.72 385.58 L360.54 385.21 L361.37 384.83 L362.18 384.43 L362.99 384.01 L363.8 383.57 L364.6 383.12 L365.4 382.66 L366.19 382.18 L366.98 381.68 L367.77 381.17 L368.49 380.69" stroke="#D95319" stroke-width="7" stroke-dasharray="25 23" stroke-dashoffset="36.5"/>
<path d="M368.49 380.69 L368.55 380.65 L369.32 380.11 L370.1 379.56 L370.86 379 L371.63 378.43 L372.39 377.84 L373.15 377.24 L373.9 376.64 L374.65 376.02 L375.4 375.39 L376.14 374.75 L376.88 374.1 L377.62 373.45 L378.36 372.78 L379.09 372.11 L379.82 371.43 L380.55 370.74 L381.28 370.04 L382 369.34 L382.72 368.63 L383.44 367.92 L384.16 367.2 L384.88 366.47 L385.59 365.74 L386.31 365.01 L387.02 364.28 L387.73 363.54 L388.44 362.79 L389.15 362.05 L389.86 361.3 L390.57 360.55 L391.27 359.8 L391.98 359.05 L392.69 358.3 L393.39 357.55 L394.1 356.8 L394.8 356.05 L395.51 355.3 L396.21 354.55 L396.92 353.8 L397.62 353.05 L398.33 352.3 L399.03 351.55 L399.74 350.8 L400.44 350.05 L401.14 349.31 L401.85 348.56 L402.1 348.29" stroke="#D95319" stroke-width="7" stroke-dasharray="25 23" stroke-dashoffset="36.5"/>
<path d="M402.1 348.29 L402.55 347.81 L403.26 347.07 L403.96 346.32 L404.66 345.58 L405.37 344.83 L406.07 344.09 L406.77 343.34 L407.48 342.6 L408.18 341.86 L408.88 341.11 L409.58 340.37 L410.29 339.63 L410.99 338.89 L411.69 338.15 L412.39 337.41 L413.1 336.67 L413.8 335.93 L414.5 335.19 L415.2 334.45 L415.91 333.71 L416.61 332.97 L417.31 332.23 L418.01 331.49 L418.71 330.76 L419.41 330.02 L420.12 329.28 L420.82 328.55 L421.52 327.81 L422.22 327.08 L422.92 326.34 L423.62 325.61 L424.32 324.87 L425.03 324.14 L425.73 323.4 L426.43 322.67 L427.13 321.94 L427.83 321.21 L428.53 320.47 L429.23 319.74 L429.93 319.01 L430.63 318.28 L431.33 317.55 L432.04 316.82 L432.74 316.09 L433.44 315.36 L434.14 314.63 L434.42 314.35" stroke="#D95319" stroke-width="7" stroke-dasharray="25 23" stroke-dashoffset="36.5"/>
<path d="M434.42 314.35 L434.84 313.9 L435.54 313.18 L436.24 312.45 L436.94 311.72 L437.64 310.99 L438.34 310.27 L439.04 309.54 L439.74 308.82 L440.44 308.09 L441.15 307.37 L441.85 306.64 L442.55 305.92 L443.25 305.19 L443.95 304.47 L444.65 303.75 L445.35 303.02 L446.05 302.3 L446.75 301.58 L447.45 300.86 L448.15 300.14 L448.85 299.42 L449.55 298.7 L450.26 297.98 L450.96 297.26 L451.66 296.54 L452.36 295.82 L453.06 295.1 L453.76 294.38 L454.46 293.66 L455.16 292.95 L455.86 292.23 L456.57 291.51 L457.27 290.8 L457.97 290.08 L458.67 289.36 L459.37 288.65 L460.07 287.93 L460.78 287.22 L461.48 286.51 L462.18 285.79 L462.88 285.08 L463.58 284.37 L464.29 283.65 L464.99 282.94 L465.69 282.23 L466.39 281.52 L467.09 280.81 L467.2 280.7" stroke="#D95319" stroke-width="7" stroke-dasharray="25 23" stroke-dashoffset="36.5"/>
<path d="M467.2 280.7 L467.8 280.1 L468.5 279.39 L469.2 278.68 L469.9 277.97 L470.61 277.26 L471.31 276.55 L472.01 275.84 L472.72 275.13 L473.42 274.42 L474.12 273.72 L474.83 273.01 L475.53 272.3 L476.23 271.6 L476.94 270.89 L477.64 270.18 L478.35 269.48 L479.05 268.77 L479.75 268.07 L480.46 267.37 L481.16 266.66 L481.87 265.96 L482.57 265.26 L483.28 264.55 L483.98 263.85 L484.69 263.15 L485.39 262.45 L486.1 261.75 L486.81 261.04 L487.51 260.34 L488.22 259.64 L488.92 258.94 L489.63 258.24 L490.34 257.55 L491.04 256.85 L491.75 256.15 L492.46 255.45 L493.16 254.75 L493.87 254.06 L494.58 253.36 L495.29 252.66 L495.99 251.97 L496.7 251.27 L497.41 250.57 L498.12 249.88 L498.83 249.18 L499.54 248.49 L500.24 247.8 L500.95 247.1 L501.66 246.41 L501.95 246.12" stroke="#D95319" stroke-width="7" stroke-dasharray="25 23" stroke-dashoffset="36.5"/>
<path d="M501.95 246.12 L502.37 245.72 L503.08 245.02 L503.79 244.33 L504.5 243.64 L505.21 242.95 L505.92 242.26 L506.63 241.56 L507.35 240.87 L508.06 240.18 L508.77 239.49 L509.48 238.8 L510.19 238.12 L510.9 237.43 L511.62 236.74 L512.33 236.05 L513.04 235.36 L513.75 234.67 L514.47 233.99 L515.18 233.3 L515.89 232.61 L516.61 231.93 L517.32 231.24 L518.04 230.56 L518.75 229.87 L519.47 229.19 L520.18 228.5 L520.9 227.82 L521.61 227.14 L522.33 226.45 L523.05 225.77 L523.76 225.09 L524.48 224.4 L525.2 223.72 L525.91 223.04 L526.63 222.36 L527.35 221.68 L528.07 221 L528.79 220.32 L529.5 219.64 L530.22 218.96 L530.94 218.28 L531.66 217.6 L532.38 216.92 L533.1 216.24 L533.82 215.57 L534.54 214.89 L535.26 214.21 L535.79 213.72" stroke="#D95319" stroke-width="7" stroke-dasharray="25 23" stroke-dashoffset="36.5"/>
<path d="M535.79 213.72 L535.99 213.53 L536.71 212.86 L537.43 212.18 L538.15 211.51 L538.87 210.83 L539.6 210.16 L540.32 209.48 L541.04 208.81 L541.77 208.13 L542.49 207.46 L543.22 206.79 L543.94 206.11 L544.67 205.44 L545.39 204.77 L546.12 204.09 L546.84 203.42 L547.57 202.75 L548.3 202.08 L549.02 201.41 L549.75 200.74 L550.48 200.07 L551.21 199.4 L551.94 198.73 L552.67 198.06 L553.4 197.39 L554.12 196.72 L554.85 196.06 L555.59 195.39 L556.32 194.72 L557.05 194.05 L557.78 193.39 L558.51 192.72 L559.24 192.05 L559.98 191.39 L560.71 190.72 L561.44 190.06 L562.18 189.39 L562.91 188.73 L563.64 188.06 L564.38 187.4 L565.11 186.74 L565.85 186.07 L566.59 185.41 L567.32 184.75 L568.06 184.08 L568.8 183.42 L569.54 182.76 L570.28 182.1 L570.61 181.8" stroke="#D95319" stroke-width="7" stroke-dasharray="25 23" stroke-dashoffset="36.5"/>
<path d="M570.61 181.8 L571.02 181.43 L571.76 180.77 L572.5 180.11 L573.24 179.45 L573.98 178.79 L574.73 178.12 L575.47 177.46 L576.21 176.8 L576.96 176.14 L577.71 175.48 L578.45 174.82 L579.2 174.15 L579.95 173.49 L580.7 172.83 L581.45 172.17 L582.2 171.51 L582.95 170.84 L583.71 170.18 L584.46 169.52 L585.21 168.86 L585.97 168.19 L586.73 167.53 L587.49 166.87 L588.24 166.2 L589 165.54 L589.77 164.88 L590.53 164.21 L591.29 163.55 L592.05 162.88 L592.82 162.22 L593.59 161.55 L594.35 160.88 L595.12 160.22 L595.89 159.55 L596.67 158.88 L597.44 158.22 L598.21 157.55 L598.99 156.88 L599.76 156.21 L600.54 155.54 L601.32 154.87 L602.1 154.2 L602.88 153.53 L603.67 152.86 L604.45 152.19 L605.24 151.51 L606.03 150.84 L606.44 150.49" stroke="#D95319" stroke-width="7" stroke-dasharray="25 23" stroke-dashoffset="36.5"/>
<path d="M606.44 150.49 L606.82 150.17 L607.61 149.49 L608.4 148.82 L609.19 148.14 L609.99 147.46 L610.79 146.79 L611.58 146.11 L612.38 145.43 L613.19 144.75 L613.99 144.07 L614.79 143.39 L615.6 142.71 L616.41 142.02 L617.22 141.34 L618.03 140.66 L618.85 139.97 L619.66 139.29 L620.48 138.61 L621.3 137.93 L622.12 137.25 L622.94 136.58 L623.76 135.9 L624.59 135.23 L625.42 134.56 L626.25 133.89 L627.08 133.23 L627.91 132.57 L628.74 131.92 L629.58 131.27 L630.42 130.62 L631.26 129.98 L632.1 129.35 L632.94 128.72 L633.79 128.1 L634.64 127.48 L635.49 126.87 L636.34 126.27 L637.19 125.67 L638.04 125.09 L638.9 124.51 L639.76 123.94 L640.62 123.37 L641.48 122.82 L642.35 122.28 L643.21 121.74 L643.8 121.39" stroke="#D95319" stroke-width="7" stroke-dasharray="25 23" stroke-dashoffset="36.5"/>
<path d="M643.8 121.39 L644.08 121.22 L644.95 120.71 L645.82 120.2 L646.7 119.71 L647.57 119.23 L648.45 118.76 L649.33 118.3 L650.21 117.86 L651.09 117.43 L651.98 117.01 L652.86 116.6 L653.75 116.21 L654.65 115.83 L655.54 115.47 L656.43 115.12 L657.33 114.78 L658.23 114.46 L659.13 114.16 L660.03 113.86 L660.94 113.58 L661.84 113.32 L662.75 113.07 L663.66 112.83 L664.57 112.6 L665.49 112.39 L666.4 112.19 L667.32 112.01 L668.23 111.83 L669.15 111.67 L670.07 111.53 L670.99 111.39 L671.92 111.27 L672.84 111.16 L673.77 111.06 L674.69 110.97 L675.62 110.89 L676.55 110.83 L677.48 110.78 L678.41 110.74 L679.35 110.71 L680.28 110.69 L681.21 110.68 L682.15 110.68 L683.09 110.7 L684.02 110.72 L684.96 110.76 L685.9 110.8 L686.84 110.86 L687.78 110.92 L688.72 111 L689.33 111.05" stroke="#D95319" stroke-width="7" stroke-dasharray="25 23" stroke-dashoffset="36.5"/>
<path d="M689.33 111.05 L689.66 111.08 L690.61 111.18 L691.55 111.28 L692.49 111.4 L693.44 111.52 L694.38 111.65 L695.33 111.8 L696.27 111.95 L697.22 112.11 L698.16 112.27 L699.11 112.45 L700.06 112.63 L701 112.83 L701.95 113.03 L702.9 113.24 L703.84 113.46 L704.79 113.68 L705.74 113.91 L706.69 114.15 L707.63 114.4 L708.58 114.66 L709.53 114.92 L710.47 115.19 L711.42 115.46 L712.37 115.75 L713.31 116.03 L714.26 116.33 L715.2 116.63 L716.15 116.94 L717.09 117.25 L718.04 117.57 L718.98 117.9 L719.93 118.23 L720.87 118.57 L721.81 118.91 L722.75 119.26 L723.69 119.61 L724.63 119.97 L725.57 120.34 L726.51 120.7 L727.45 121.08 L728.38 121.45 L729.32 121.83 L730.26 122.22 L731.19 122.61 L732.12 123 L732.92 123.35" stroke="#D95319" stroke-width="7" stroke-dasharray="25 23" stroke-dashoffset="36.5"/>
<path d="M732.92 123.35 L733.05 123.4 L733.99 123.8 L734.92 124.21 L735.84 124.62 L736.77 125.03 L737.7 125.45 L738.62 125.87 L739.55 126.29 L740.47 126.71 L741.39 127.14 L742.31 127.57 L743.23 128 L744.14 128.44 L745.06 128.87 L745.97 129.31 L746.89 129.75 L747.8 130.2 L748.71 130.64 L749.61 131.09 L750.52 131.54 L751.43 131.99 L752.33 132.45 L753.23 132.9 L754.14 133.36 L755.04 133.82 L755.93 134.28 L756.83 134.75 L757.73 135.21 L758.63 135.68 L759.52 136.15 L760.41 136.62 L761.31 137.1 L762.2 137.57 L763.09 138.05 L763.98 138.52 L764.86 139 L765.75 139.48 L766.64 139.97 L767.52 140.45 L768.41 140.94 L769.29 141.42 L770.17 141.91 L771.05 142.4 L771.93 142.89 L772.81 143.38 L773.69 143.88 L774.22 144.18" stroke="#D95319" stroke-width="7" stroke-dasharray="25 23" stroke-dashoffset="36.5"/>
<path d="M774.22 144.18 L774.57 144.37 L775.44 144.87 L776.32 145.36 L777.2 145.86 L778.07 146.36 L778.94 146.86 L779.82 147.36 L780.69 147.86 L781.56 148.36 L782.43 148.87 L783.3 149.37 L784.17 149.88 L785.04 150.38 L785.91 150.89 L786.78 151.4 L787.65 151.91 L788.52 152.41 L789.38 152.92 L790.25 153.43 L791.11 153.94 L791.98 154.45 L792.84 154.97 L793.71 155.48 L794.57 155.99 L795.44 156.5 L796.3 157.02 L797.16 157.53 L798.03 158.04 L798.89 158.56 L799.75 159.07 L800.61 159.59 L801.47 160.1 L802.34 160.62 L803.2 161.13 L804.06 161.64 L804.92 162.16 L805.78 162.67 L806.64 163.19 L807.5 163.7 L808.36 164.22 L809.22 164.73 L810.08 165.25 L810.94 165.76 L811.8 166.27 L812.66 166.79 L813.52 167.3 L814.39 167.81 L815.25 168.32 L816.09 168.83" stroke="#D95319" stroke-width="7" stroke-dasharray="25 23" stroke-dashoffset="36.5"/>
<path d="M816.09 168.83 L816.11 168.83 L816.97 169.35 L817.83 169.86 L818.69 170.37 L819.55 170.88 L820.41 171.38 L821.27 171.89 L822.14 172.4 L823 172.91 L823.86 173.41 L824.72 173.92 L825.59 174.42 L826.45 174.93 L827.31 175.43 L828.18 175.93 L829.04 176.43 L829.91 176.93 L830.77 177.43 L831.64 177.93 L832.5 178.42 L833.37 178.92 L834.24 179.41 L835.11 179.91 L835.97 180.4 L836.84 180.89 L837.71 181.38 L838.58 181.87 L839.45 182.36 L840.32 182.84 L841.2 183.32 L842.07 183.81 L842.94 184.29 L843.82 184.77 L844.69 185.25 L845.57 185.72 L846.44 186.2 L847.32 186.67 L848.2 187.14 L849.07 187.61 L849.95 188.08 L850.83 188.54 L851.72 189.01 L852.6 189.47 L853.48 189.93 L854.36 190.39 L855.25 190.85 L856.13 191.31 L857.02 191.76 L857.9 192.21 L858.4 192.47" stroke="#D95319" stroke-width="7" stroke-dasharray="25 23" stroke-dashoffset="36.5"/>
<path d="M858.4 192.47 L858.79 192.67 L859.68 193.12 L860.57 193.56 L861.46 194.01 L862.35 194.46 L863.24 194.9 L864.13 195.34 L865.02 195.78 L865.92 196.22 L866.81 196.66 L867.7 197.1 L868.6 197.53 L869.49 197.96 L870.39 198.4 L871.29 198.83 L872.19 199.26 L873.08 199.68 L873.98 200.11 L874.88 200.54 L875.78 200.96 L876.68 201.38 L877.58 201.8 L878.49 202.22 L879.39 202.64 L880.29 203.06 L881.2 203.48 L882.1 203.89 L883.01 204.3 L883.91 204.72 L884.82 205.13 L885.73 205.54 L886.63 205.95 L887.54 206.35 L888.45 206.76 L889.36 207.17 L890.27 207.57 L891.18 207.97 L892.09 208.37 L893 208.78 L893.91 209.17 L894.82 209.57 L895.74 209.97 L896.65 210.37 L897.56 210.76 L898.48 211.16 L899.39 211.55 L900.31 211.94 L900.9 212.2" stroke="#D95319" stroke-width="7" stroke-dasharray="25 23" stroke-dashoffset="36.5"/>
<path d="M900.9 212.2 L901.22 212.34 L902.14 212.73 L903.05 213.12 L903.97 213.5 L904.89 213.89 L905.81 214.28 L906.72 214.66 L907.64 215.05 L908.56 215.43 L909.48 215.82 L910.4 216.2 L911.32 216.58 L912.24 216.96 L913.16 217.34 L914.08 217.72 L915.01 218.1 L915.93 218.48 L916.85 218.85 L917.77 219.23 L918.7 219.6 L919.62 219.98 L920.54 220.35 L921.47 220.73 L922.39 221.1 L923.32 221.47 L924.24 221.84 L925.17 222.21 L926.09 222.58 L927.02 222.95 L927.94 223.32 L928.87 223.69 L929.8 224.05 L930.72 224.42 L931.65 224.79 L932.58 225.15 L933.51 225.52 L934.43 225.88 L935.36 226.25 L936.29 226.61 L937.22 226.97 L938.15 227.34 L939.08 227.7 L940.01 228.06 L940.94 228.42 L941.87 228.78 L942.8 229.14 L943.73 229.5 L944.47 229.79" stroke="#D95319" stroke-width="7" stroke-dasharray="25 23" stroke-dashoffset="36.5"/>
<path d="M944.47 229.79 L944.66 229.86 L945.59 230.22 L946.52 230.58 L947.45 230.94 L948.38 231.3 L949.31 231.66 L950.24 232.01 L951.17 232.37 L952.1 232.73 L953.03 233.08 L953.97 233.44 L954.9 233.8 L955.83 234.15 L956.76 234.51 L957.69 234.86 L958.63 235.22 L959.56 235.58 L960.49 235.93 L961.42 236.29 L962.35 236.64 L963.29 236.99 L964.22 237.35 L965.15 237.7 L966.08 238.06 L967.02 238.41 L967.95 238.76 L968.88 239.12 L969.82 239.47 L970.75 239.82 L971.68 240.17 L972.62 240.53 L973.55 240.88 L974.48 241.23 L975.42 241.58 L976.35 241.93 L977.29 242.28 L978.22 242.63 L979.15 242.98 L980.09 243.33 L981.02 243.68 L981.96 244.03 L982.89 244.38 L983.82 244.73 L984.76 245.08 L985.69 245.43 L986.63 245.78 L987.56 246.13 L988.12 246.34" stroke="#D95319" stroke-width="7" stroke-dasharray="25 23" stroke-dashoffset="36.5"/>
<path d="M988.12 246.34 L988.5 246.48 L989.43 246.83 L990.37 247.18 L991.3 247.52 L992.24 247.87 L993.17 248.22 L994.11 248.57 L995.04 248.91 L995.98 249.26 L996.92 249.61 L997.85 249.95 L998.79 250.3 L999.72 250.65 L1000.66 250.99 L1001.6 251.34 L1002.53 251.68 L1003.47 252.03 L1004.4 252.37 L1005.34 252.72 L1006.28 253.06 L1007.21 253.41 L1008.15 253.75 L1009.09 254.1 L1010.02 254.44 L1010.96 254.79 L1011.9 255.13 L1012.83 255.47 L1013.77 255.82 L1014.71 256.16 L1015.65 256.5 L1016.58 256.85 L1017.52 257.19 L1018.46 257.53 L1019.39 257.87 L1020.33 258.22 L1021.27 258.56 L1022.21 258.9 L1023.15 259.24 L1024.08 259.58 L1025.02 259.92 L1025.96 260.26 L1026.9 260.61 L1027.84 260.95 L1028.77 261.29 L1029.71 261.63 L1030.65 261.97 L1031.59 262.31 L1031.78 262.38" stroke="#D95319" stroke-width="7" stroke-dasharray="25 23" stroke-dashoffset="36.5"/>
<path d="M1031.78 262.38 L1032.53 262.65 L1033.47 262.99 L1034.41 263.33 L1035.34 263.67 L1036.28 264 L1037.22 264.34 L1038.16 264.68 L1039.1 265.02 L1040.04 265.36 L1040.98 265.7 L1041.92 266.04 L1042.86 266.37 L1043.8 266.71 L1044.74 267.05 L1045.67 267.39 L1046.61 267.72 L1047.55 268.06 L1048.49 268.4 L1049.43 268.74 L1050.37 269.07 L1051.31 269.41 L1052.25 269.75 L1053.19 270.08 L1054.13 270.42 L1055.07 270.75 L1056.01 271.09 L1056.95 271.43 L1057.89 271.76 L1058.83 272.1 L1059.78 272.43 L1060.72 272.77 L1061.66 273.1 L1062.6 273.44 L1063.54 273.77 L1064.48 274.1 L1065.42 274.44 L1066.36 274.77 L1067.3 275.11 L1068.24 275.44 L1069.18 275.78 L1070.13 276.11 L1071.07 276.44 L1072.01 276.78 L1072.95 277.11 L1073.89 277.44 L1074.83 277.77 L1075.77 278.11 L1076.65 278.42" stroke="#D95319" stroke-width="7" stroke-dasharray="25 23" stroke-dashoffset="36.5"/>
<path d="M1076.65 278.42 L1076.71 278.44 L1077.66 278.77 L1078.6 279.1 L1079.54 279.44 L1080.48 279.77 L1081.42 280.1 L1082.37 280.43 L1083.31 280.76 L1084.25 281.1 L1085.19 281.43 L1086.13 281.76 L1087.08 282.09 L1088.02 282.42 L1088.96 282.75 L1089.9 283.08 L1090.85 283.41 L1091.79 283.74 L1092.73 284.07 L1093.67 284.4 L1094.62 284.73 L1095.56 285.06 L1096.5 285.39 L1097.44 285.72 L1098.39 286.05 L1099.33 286.38 L1100.27 286.71 L1101.22 287.04 L1102.16 287.37 L1103.1 287.7 L1104.04 288.03 L1104.99 288.36 L1105.93 288.69 L1106.87 289.02 L1107.82 289.34 L1108.76 289.67 L1109.7 290 L1110.65 290.33 L1111.59 290.66 L1112.54 290.98 L1113.48 291.31 L1114.42 291.64 L1115.37 291.97 L1116.31 292.3 L1117.25 292.62 L1118.2 292.95 L1119.14 293.28 L1120.09 293.6 L1121.03 293.93 L1121.53 294.1" stroke="#D95319" stroke-width="7" stroke-dasharray="25 23" stroke-dashoffset="36.5"/>
<path d="M1121.53 294.1 L1121.97 294.26 L1122.92 294.58 L1123.86 294.91 L1124.81 295.24 L1125.75 295.56 L1126.69 295.89 L1127.64 296.22 L1128.58 296.54 L1129.53 296.87 L1130.47 297.19 L1131.42 297.52 L1132.36 297.85 L1133.31 298.17 L1134.25 298.5 L1135.2 298.82 L1136.14 299.15 L1137.08 299.47 L1138.03 299.8 L1138.97 300.12 L1139.92 300.45 L1140.86 300.77 L1141.81 301.1 L1142.75 301.42 L1143.7 301.75 L1144.64 302.07 L1145.59 302.4 L1146.53 302.72 L1147.48 303.05 L1148.42 303.37 L1149.37 303.69 L1150.31 304.02 L1151.26 304.34 L1152.21 304.67 L1153.15 304.99 L1154.1 305.31 L1155.04 305.64 L1155.99 305.96 L1156.93 306.28 L1157.88 306.61 L1158.82 306.93 L1159.77 307.25 L1160.71 307.58 L1161.66 307.9 L1162.61 308.22 L1163.55 308.55 L1164.5 308.87 L1165.44 309.19 L1166.01 309.39" stroke="#D95319" stroke-width="7" stroke-dasharray="25 23" stroke-dashoffset="36.5"/>
<path d="M1166.01 309.39 L1166.39 309.51 L1167.34 309.84 L1168.28 310.16 L1169.23 310.48 L1170.17 310.8 L1171.12 311.13 L1172.06 311.45 L1173.01 311.77 L1173.96 312.09 L1174.9 312.42 L1175.85 312.74 L1176.8 313.06 L1177.74 313.38 L1178.69 313.7 L1179.63 314.02 L1180.58 314.35 L1181.53 314.67 L1182.47 314.99 L1183.42 315.31 L1184.37 315.63 L1185.31 315.95 L1186.26 316.28 L1187.2 316.6 L1188.15 316.92 L1189.1 317.24 L1190.04 317.56 L1190.99 317.88 L1191.94 318.2 L1192.88 318.52 L1193.83 318.84 L1194.78 319.17 L1195.72 319.49 L1196.67 319.81 L1197.62 320.13 L1198.56 320.45 L1199.51 320.77 L1200.46 321.09 L1201.4 321.41 L1202.35 321.73 L1203.3 322.05 L1204.24 322.37 L1205.19 322.69 L1206.14 323.01 L1207.09 323.33 L1208.03 323.65 L1208.98 323.97 L1209.93 324.29 L1210.87 324.61 L1211 324.66" stroke="#D95319" stroke-width="7" stroke-dasharray="25 23" stroke-dashoffset="36.5"/>
<path d="M1211 324.66 L1211.82 324.93 L1212.77 325.25 L1213.71 325.57 L1214.66 325.89 L1215.61 326.21 L1216.56 326.53 L1217.5 326.85 L1218.45 327.17 L1219.4 327.49 L1220.34 327.81 L1221.29 328.13 L1222.24 328.45 L1223.19 328.77 L1224.13 329.09 L1225.08 329.41 L1226.03 329.73 L1226.97 330.05 L1227.92 330.37 L1228.87 330.69 L1229.82 331.01 L1230.76 331.33 L1231.71 331.65 L1232.66 331.97 L1233.61 332.29 L1234.55 332.61 L1235.5 332.92 L1236.45 333.24 L1237.39 333.56 L1238.34 333.88 L1239.29 334.2 L1240.24 334.52 L1241.18 334.84 L1242.13 335.16 L1243.08 335.48 L1244.03 335.8 L1244.97 336.12 L1245.92 336.44 L1246.87 336.76 L1247.82 337.07 L1248.76 337.39 L1249.71 337.71 L1250.66 338.03 L1251.61 338.35 L1252.55 338.67 L1253.5 338.99 L1254.45 339.31 L1255.4 339.63 L1256 339.83" stroke="#D95319" stroke-width="7" stroke-dasharray="25 23" stroke-dashoffset="36.5"/>
<path d="M1256 339.83 L1256.34 339.95 L1257.29 340.27 L1258.24 340.58 L1259.19 340.9 L1260.13 341.22 L1261.08 341.54 L1262.03 341.86 L1262.98 342.18 L1263.92 342.5 L1264.87 342.82 L1265.82 343.14 L1266.77 343.46 L1267.71 343.78 L1268.66 344.09 L1269.61 344.41 L1270.56 344.73 L1271.5 345.05 L1272.45 345.37 L1273.4 345.69 L1274.35 346.01 L1275.29 346.33 L1276.24 346.65 L1277.19 346.97 L1278.14 347.28 L1279.08 347.6 L1280.03 347.92 L1280.98 348.24 L1281.93 348.56 L1282.88 348.88 L1283.82 349.2 L1284.77 349.52 L1285.72 349.84 L1286.67 350.16 L1287.61 350.48 L1288.56 350.8 L1289.51 351.12 L1290.46 351.43 L1291.4 351.75 L1292.35 352.07 L1293.3 352.39 L1294.24 352.71 L1295.19 353.03 L1296.14 353.35 L1297.09 353.67 L1298.03 353.99 L1298.98 354.31 L1299.93 354.63 L1300.88 354.95 L1301 354.99" stroke="#D95319" stroke-width="7" stroke-dasharray="25 23" stroke-dashoffset="36.5"/>
<path d="M1301 354.99 L1301.82 355.27 L1302.77 355.59 L1303.72 355.91 L1304.67 356.23 L1305.61 356.55 L1306.56 356.87 L1307.51 357.19 L1308.46 357.51 L1309.4 357.83 L1310.35 358.15 L1311.3 358.47 L1312.24 358.79 L1313.19 359.11 L1314.14 359.43 L1315.09 359.75 L1316.03 360.07 L1316.98 360.39 L1317.93 360.71 L1318.88 361.03 L1319.82 361.35 L1320.77 361.67 L1321.72 361.99 L1322.66 362.31 L1323.61 362.63 L1324.56 362.95 L1325.51 363.27 L1326.45 363.59 L1327.4 363.91 L1328.35 364.23 L1329.29 364.55 L1330.24 364.87 L1331.19 365.19 L1332.13 365.51 L1333.08 365.83 L1334.03 366.16 L1334.98 366.48 L1335.92 366.8 L1336.87 367.12 L1337.82 367.44 L1338.76 367.76 L1339.71 368.08 L1340.66 368.4 L1341.6 368.72 L1342.55 369.05 L1343.5 369.37 L1344.44 369.69 L1345.39 370.01 L1346.01 370.22" stroke="#D95319" stroke-width="7" stroke-dasharray="25 23" stroke-dashoffset="36.5"/>
<path d="M1346.01 370.22 L1346.34 370.33 L1347.28 370.65 L1348.23 370.98 L1349.18 371.3 L1350.12 371.62 L1351.07 371.94 L1352.02 372.26 L1352.96 372.59 L1353.91 372.91 L1354.86 373.23 L1355.8 373.55 L1356.75 373.87 L1357.69 374.2 L1358.64 374.52 L1359.59 374.84 L1360.53 375.16 L1361.48 375.49 L1362.43 375.81 L1363.37 376.13 L1364.32 376.46 L1365.26 376.78 L1366.21 377.1 L1367.16 377.43 L1368.1 377.75 L1369.05 378.07 L1369.99 378.4 L1370.94 378.72 L1371.89 379.04 L1372.83 379.37 L1373.78 379.69 L1374.72 380.01 L1375.67 380.34 L1376.62 380.66 L1377.56 380.99 L1378.51 381.31 L1379.45 381.63 L1380.4 381.96 L1381.34 382.28 L1382.29 382.61 L1383.23 382.93 L1384.18 383.26 L1385.13 383.58 L1386.07 383.91 L1387.02 384.23 L1387.96 384.55 L1388.91 384.88 L1389.85 385.21 L1390.13 385.3" stroke="#D95319" stroke-width="7" stroke-dasharray="25 23" stroke-dashoffset="36.5"/>
<path d="M1390.13 385.3 L1390.8 385.53 L1391.74 385.86 L1392.69 386.18 L1393.63 386.51 L1394.58 386.83 L1395.52 387.16 L1396.47 387.48 L1397.41 387.81 L1398.36 388.14 L1399.3 388.46 L1400.25 388.79 L1401.19 389.11 L1402.14 389.44 L1403.08 389.77 L1404.03 390.09 L1404.97 390.42 L1405.92 390.75 L1406.86 391.07 L1407.81 391.4 L1408.75 391.73 L1409.7 392.06 L1410.64 392.38 L1411.58 392.71 L1412.53 393.04 L1413.47 393.37 L1414.42 393.69 L1415.36 394.02 L1416.31 394.35 L1417.25 394.68 L1418.19 395.01 L1419.14 395.33 L1420.08 395.66 L1421.03 395.99 L1421.97 396.32 L1422.91 396.65 L1423.86 396.98 L1424.8 397.31 L1425.75 397.64 L1426.69 397.97 L1427.63 398.3 L1428.58 398.62 L1429.52 398.95 L1430.46 399.28 L1431.41 399.61 L1432.35 399.94 L1433.29 400.27 L1434.24 400.6 L1435.15 400.92" stroke="#D95319" stroke-width="7" stroke-dasharray="25 23" stroke-dashoffset="36.5"/>
<path d="M1435.15 400.92 L1435.18 400.93 L1436.12 401.27 L1437.07 401.6 L1438.01 401.93 L1438.95 402.26 L1439.9 402.59 L1440.84 402.92 L1441.78 403.25 L1442.72 403.58 L1443.67 403.91 L1444.61 404.25 L1445.55 404.58 L1446.5 404.91 L1447.44 405.24 L1448.38 405.57 L1449.32 405.91 L1450.27 406.24 L1451.21 406.57 L1452.15 406.9 L1453.09 407.24 L1454.04 407.57 L1454.98 407.9 L1455.92 408.24 L1456.86 408.57 L1457.8 408.9 L1458.75 409.24 L1459.69 409.57 L1460.63 409.9 L1461.57 410.24 L1462.51 410.57 L1463.45 410.91 L1464.4 411.24 L1465.34 411.58 L1466.28 411.91 L1467.22 412.25 L1468.16 412.58 L1469.1 412.92 L1470.04 413.25 L1470.99 413.59 L1471.93 413.92 L1472.87 414.26 L1473.81 414.6 L1474.75 414.93 L1475.69 415.27 L1476.63 415.61 L1477.57 415.94 L1478.51 416.28 L1479.18 416.52" stroke="#D95319" stroke-width="7" stroke-dasharray="25 23" stroke-dashoffset="36.5"/>
<path d="M1479.18 416.52 L1479.45 416.62 L1480.39 416.95 L1481.33 417.29 L1482.28 417.63 L1483.22 417.97 L1484.16 418.3 L1485.1 418.64 L1486.04 418.98 L1486.98 419.32 L1487.92 419.66 L1488.86 420 L1489.8 420.33 L1490.74 420.67 L1491.68 421.01 L1492.62 421.35 L1493.56 421.69 L1494.5 422.03 L1495.44 422.37 L1496.37 422.71 L1497.31 423.05 L1498.25 423.39 L1499.19 423.73 L1500.13 424.07 L1501.07 424.41 L1502.01 424.75 L1502.95 425.1 L1503.89 425.44 L1504.83 425.78 L1505.77 426.12 L1506.7 426.46 L1507.64 426.8 L1508.58 427.15 L1509.52 427.49 L1510.46 427.83 L1511.4 428.18 L1512.34 428.52 L1513.27 428.86 L1514.21 429.2 L1515.15 429.55 L1516.09 429.89 L1517.03 430.24 L1517.96 430.58 L1518.9 430.92 L1519.84 431.27 L1520.78 431.61 L1521.71 431.96 L1522.65 432.3 L1523.59 432.65 L1523.61 432.66" stroke="#D95319" stroke-width="7" stroke-dasharray="25 23" stroke-dashoffset="36.5"/>
<path d="M1523.61 432.66 L1524.53 432.99 L1525.46 433.34 L1526.4 433.69 L1527.34 434.03 L1528.27 434.38 L1529.21 434.72 L1530.15 435.07 L1531.09 435.42 L1532.02 435.76 L1532.96 436.11 L1533.9 436.46 L1534.83 436.81 L1535.77 437.15 L1536.7 437.5 L1537.64 437.85 L1538.58 438.2 L1539.51 438.55 L1540.45 438.9 L1541.38 439.25 L1542.32 439.59 L1543.26 439.94 L1544.19 440.29 L1545.13 440.64 L1546.06 440.99 L1547 441.34 L1547.93 441.69 L1548.87 442.04 L1549.8 442.4 L1550.74 442.75 L1551.67 443.1 L1552.61 443.45 L1553.54 443.8 L1554.48 444.15 L1555.41 444.5 L1556.35 444.86 L1557.28 445.21 L1558.22 445.56 L1559.15 445.92 L1560.09 446.27 L1561.02 446.62 L1561.95 446.98 L1562.89 447.33 L1563.82 447.68 L1564.76 448.04 L1565.69 448.39 L1566.62 448.75 L1567.56 449.1 L1568.06 449.29" stroke="#D95319" stroke-width="7" stroke-dasharray="25 23" stroke-dashoffset="36.5"/>
<path d="M1568.06 449.29 L1568.49 449.46 L1569.42 449.81 L1570.36 450.17 L1571.29 450.52 L1572.22 450.88 L1573.16 451.24 L1574.09 451.59 L1575.02 451.95 L1575.95 452.31 L1576.89 452.66 L1577.82 453.02 L1578.75 453.38 L1579.68 453.74 L1580.62 454.1 L1581.55 454.45 L1582.48 454.81 L1583.41 455.17 L1584.34 455.53 L1585.28 455.89 L1586.21 456.25 L1587.14 456.61 L1588.07 456.97 L1589 457.33 L1589.93 457.69 L1590.86 458.05 L1591.8 458.41 L1592.73 458.77 L1593.66 459.13 L1594.59 459.5 L1595.52 459.86 L1596.45 460.22 L1597.38 460.58 L1598.31 460.95 L1599.24 461.31 L1600.17 461.67 L1601.1 462.04 L1602.03 462.4 L1602.96 462.76 L1603.89 463.13 L1604.82 463.49 L1605.75 463.86 L1606.68 464.22 L1607.61 464.59 L1608.54 464.95 L1609.47 465.32 L1610.4 465.68 L1611.33 466.05 L1612.01 466.32" stroke="#D95319" stroke-width="7" stroke-dasharray="25 23" stroke-dashoffset="36.5"/>
<path d="M1612.01 466.32 L1612.26 466.42 L1613.18 466.78 L1614.11 467.15 L1615.04 467.52 L1615.97 467.88 L1616.9 468.25 L1617.83 468.62 L1618.76 468.99 L1619.68 469.36 L1620.61 469.73 L1621.54 470.09 L1622.47 470.46 L1623.39 470.83 L1624.32 471.2 L1625.25 471.57 L1626.18 471.94 L1627.1 472.31 L1628.03 472.69 L1628.96 473.06 L1629.89 473.43 L1630.81 473.8 L1631.74 474.17 L1632.67 474.54 L1633.59 474.92 L1634.52 475.29 L1635.44 475.66 L1636.37 476.04 L1637.3 476.41 L1638.22 476.78 L1639.15 477.16 L1640.07 477.53 L1641 477.91 L1641.93 478.28 L1642.85 478.66 L1643.78 479.03 L1644.7 479.41 L1645.63 479.79 L1646.55 480.16 L1647.48 480.54 L1648.4 480.92 L1649.33 481.29 L1650.25 481.67 L1651.18 482.05 L1652.1 482.43 L1653.02 482.8 L1653.95 483.18 L1654.87 483.56 L1655.67 483.89" stroke="#D95319" stroke-width="7" stroke-dasharray="25 23" stroke-dashoffset="36.5"/>
<path d="M1655.67 483.89 L1655.8 483.94 L1656.72 484.32 L1657.64 484.7 L1658.57 485.08 L1659.49 485.46 L1660.41 485.84 L1661.34 486.22 L1662.26 486.6 L1663.18 486.98 L1664.11 487.36 L1665.03 487.74 L1665.95 488.13 L1666.87 488.51 L1667.8 488.89 L1668.72 489.27 L1669.64 489.66 L1670.56 490.04 L1671.49 490.42 L1672.41 490.81 L1673.33 491.19 L1674.25 491.57 L1675.17 491.96 L1676.09 492.34 L1677.02 492.73 L1677.94 493.11 L1678.86 493.5 L1679.78 493.89 L1680.7 494.27 L1681.62 494.66 L1682.54 495.04 L1683.46 495.43 L1684.38 495.82 L1685.31 496.21 L1686.23 496.59 L1687.15 496.98 L1688.07 497.37 L1688.99 497.76 L1689.91 498.15 L1690.83 498.53 L1691.75 498.92 L1692.67 499.31 L1693.59 499.7 L1694.51 500.09 L1695.42 500.48 L1696.34 500.87 L1697.26 501.26 L1698.18 501.65 L1699.1 502.04 L1699.33 502.14" stroke="#D95319" stroke-width="7" stroke-dasharray="25 23" stroke-dashoffset="36.5"/>
<path d="M1699.33 502.14 L1700.02 502.44 L1700.94 502.83 L1701.86 503.22 L1702.78 503.61 L1703.7 504 L1704.61 504.4 L1705.53 504.79 L1706.45 505.18 L1707.37 505.57 L1708.29 505.97 L1709.2 506.36 L1710.12 506.76 L1711.04 507.15 L1711.96 507.54 L1712.88 507.94 L1713.79 508.33 L1714.71 508.73 L1715.63 509.12 L1716.54 509.52 L1717.46 509.91 L1718.38 510.31 L1719.3 510.71 L1720.21 511.1 L1721.13 511.5 L1722.05 511.9 L1722.96 512.29 L1723.88 512.69 L1724.8 513.09 L1725.71 513.49 L1726.63 513.89 L1727.54 514.28 L1728.46 514.68 L1729.38 515.08 L1730.29 515.48 L1731.21 515.88 L1732.12 516.28 L1733.04 516.68 L1733.95 517.08 L1734.87 517.48 L1735.78 517.88 L1736.7 518.28 L1737.61 518.68 L1738.53 519.08 L1739.44 519.48 L1740.36 519.89 L1741.27 520.29 L1742.19 520.69 L1742.68 520.91" stroke="#D95319" stroke-width="7" stroke-dasharray="25 23" stroke-dashoffset="36.5"/>
<path d="M1742.68 520.91 L1743.1 521.09 L1744.02 521.49 L1744.93 521.9 L1745.84 522.3 L1746.76 522.7 L1747.67 523.11 L1748.59 523.51 L1749.5 523.91 L1750.41 524.32 L1751.33 524.72 L1752.24 525.13 L1753.15 525.53 L1754.07 525.94 L1754.98 526.34 L1755.89 526.75 L1756.81 527.15 L1757.72 527.56 L1758.63 527.97 L1759.55 528.37 L1760.46 528.78 L1761.37 529.19 L1762.28 529.59 L1763.2 530 L1764.11 530.41 L1765.02 530.81 L1765.93 531.22 L1766.84 531.63 L1767.76 532.04 L1768.67 532.45 L1769.58 532.86 L1770.49 533.26 L1771.4 533.67 L1772.31 534.08 L1773.23 534.49 L1774.14 534.9 L1775.05 535.31 L1775.96 535.72 L1776.87 536.13 L1777.78 536.54 L1778.69 536.95 L1779.6 537.36 L1780.51 537.78 L1781.43 538.19 L1782.34 538.6 L1783.25 539.01 L1784.16 539.42 L1785.07 539.84 L1785.73 540.14" stroke="#D95319" stroke-width="7" stroke-dasharray="25 23" stroke-dashoffset="36.5"/>
<path d="M1785.73 540.14 L1785.98 540.25 L1786.89 540.66 L1787.8 541.07 L1788.71 541.49 L1789.62 541.9 L1790.53 542.31 L1791.44 542.73 L1792.35 543.14 L1793.26 543.55 L1794.17 543.97 L1795.07 544.38 L1795.98 544.8 L1796.89 545.21 L1797.8 545.63 L1798.71 546.04 L1799.62 546.46 L1800.53 546.88 L1801.44 547.29 L1802.35 547.71 L1803.25 548.12 L1804.16 548.54 L1805.07 548.96 L1805.98 549.37 L1806.89 549.79 L1807.8 550.21 L1808.7 550.63 L1809.61 551.04 L1810.52 551.46 L1811.43 551.88 L1812.34 552.3 L1813.24 552.72 L1814.15 553.13 L1815.06 553.55 L1815.97 553.97 L1816.87 554.39 L1817.78 554.81 L1818.69 555.23 L1819.6 555.65 L1820.5 556.07 L1821.41 556.49 L1822.32 556.91 L1823.22 557.33 L1824.13 557.75 L1825.04 558.17 L1825.94 558.6 L1826.85 559.02 L1827.76 559.44 L1828.18 559.64" stroke="#D95319" stroke-width="7" stroke-dasharray="25 23" stroke-dashoffset="36.5"/>
<path d="M1828.18 559.64 L1828.66 559.86 L1829.57 560.28 L1830.47 560.7 L1831.38 561.13 L1832.29 561.55 L1833.19 561.97 L1834.1 562.39 L1835 562.82 L1835.91 563.24 L1836.82 563.66 L1837.72 564.09 L1838.63 564.51 L1839.53 564.94 L1840.44 565.36 L1841.34 565.78 L1842.25 566.21 L1843.15 566.63 L1844.06 567.06 L1844.96 567.48 L1845.87 567.91 L1846.77 568.33 L1847.68 568.76 L1848.58 569.18 L1849.49 569.61 L1850.39 570.04 L1851.29 570.46 L1852.2 570.89 L1853.1 571.32 L1854.01 571.74 L1854.91 572.17 L1855.81 572.6 L1856.72 573.02 L1857.62 573.45 L1858.53 573.88 L1859.43 574.31 L1860.33 574.74 L1861.24 575.16 L1862.14 575.59 L1863.04 576.02 L1863.95 576.45 L1864.85 576.88 L1865.75 577.31 L1866.66 577.74 L1867.56 578.17 L1868.46 578.6 L1869.37 579.03 L1870.27 579.46 L1870.82 579.72" stroke="#D95319" stroke-width="7" stroke-dasharray="25 23" stroke-dashoffset="36.5"/>
<path d="M1870.82 579.72 L1871.17 579.89 L1872.07 580.32 L1872.98 580.75 L1873.88 581.18 L1874.78 581.61 L1875.68 582.04 L1876.59 582.47 L1877.49 582.9 L1878.39 583.33 L1879.29 583.76 L1880.19 584.2 L1881.1 584.63 L1882 585.06 L1882.9 585.49 L1883.8 585.93 L1884.7 586.36 L1885.6 586.79 L1886.51 587.22 L1887.41 587.66 L1888.31 588.09 L1889.21 588.52 L1890.11 588.96 L1891.01 589.39 L1891.91 589.82 L1892.81 590.26 L1893.71 590.69 L1894.62 591.13 L1895.52 591.56 L1896.42 592 L1897.32 592.43 L1898.22 592.87 L1899.12 593.3 L1900.02 593.74 L1900.92 594.17 L1901.82 594.61 L1902.72 595.04 L1903.62 595.48 L1904.52 595.92 L1905.42 596.35 L1906.32 596.79 L1907.22 597.22 L1908.12 597.66 L1909.02 598.1 L1909.92 598.54 L1910.82 598.97 L1911.72 599.41 L1912.62 599.85 L1913.52 600.29 L1913.86 600.45" stroke="#D95319" stroke-width="7" stroke-dasharray="25 23" stroke-dashoffset="36.5"/>
<path d="M1913.86 600.45 L1914.42 600.72 L1915.32 601.16 L1916.22 601.6 L1917.11 602.04 L1918.01 602.48 L1918.91 602.91 L1919.81 603.35 L1920.71 603.79 L1921.61 604.23 L1922.51 604.67 L1923.41 605.11 L1924.31 605.55 L1925.2 605.99 L1926.1 606.43 L1927 606.87 L1927.9 607.31 L1928.8 607.75 L1929.7 608.19 L1930.59 608.63 L1931.49 609.07 L1932.39 609.51 L1933.29 609.95 L1934.19 610.39 L1935.08 610.83 L1935.98 611.27 L1936.88 611.71 L1937.78 612.16 L1938.67 612.6 L1939.57 613.04 L1940.47 613.48 L1941.37 613.92 L1942.26 614.37 L1943.16 614.81 L1944.06 615.25 L1944.96 615.69 L1945.85 616.14 L1946.75 616.58 L1947.65 617.02 L1948.54 617.46 L1949.44 617.91 L1950.34 618.35 L1951.23 618.79 L1952.13 619.24 L1953.03 619.68 L1953.92 620.13 L1954.82 620.57 L1955.72 621.01 L1956.3 621.3" stroke="#D95319" stroke-width="7" stroke-dasharray="25 23" stroke-dashoffset="36.5"/>
<path d="M1956.3 621.3 L1956.61 621.46 L1957.51 621.9 L1958.41 622.35 L1959.3 622.79 L1960.2 623.24 L1961.09 623.68 L1961.99 624.13 L1962.89 624.57 L1963.78 625.02 L1964.68 625.46 L1965.57 625.91 L1966.47 626.35 L1967.37 626.8 L1968.26 627.25 L1969.16 627.69 L1970.05 628.14 L1970.95 628.59 L1971.84 629.03 L1972.74 629.48 L1973.63 629.93 L1974.53 630.37 L1975.42 630.82 L1976.32 631.27 L1977.21 631.71 L1978.11 632.16 L1979 632.61 L1979.9 633.06 L1980.79 633.5 L1981.69 633.95 L1982.58 634.4 L1983.48 634.85 L1984.37 635.3 L1985.27 635.74 L1986.16 636.19 L1987.06 636.64 L1987.95 637.09 L1988.84 637.54 L1989.74 637.99 L1990.63 638.44 L1991.53 638.89 L1992.42 639.33 L1993.31 639.78 L1994.21 640.23 L1995.1 640.68 L1996 641.13 L1996.89 641.58 L1997.78 642.03 L1998.68 642.48 L1999.03 642.66" stroke="#D95319" stroke-width="7" stroke-dasharray="25 23" stroke-dashoffset="36.5"/>
<path d="M1999.03 642.66 L1999.57 642.93 L2000.47 643.38 L2001.36 643.83 L2002.25 644.28 L2003.15 644.73 L2004.04 645.18 L2004.93 645.64 L2005.83 646.09 L2006.72 646.54 L2007.61 646.99 L2008.51 647.44 L2009.4 647.89 L2010.29 648.34 L2011.18 648.79 L2012.08 649.25 L2012.97 649.7 L2013.86 650.15 L2014.76 650.6 L2015.65 651.05 L2016.54 651.51 L2017.43 651.96 L2018.33 652.41 L2019.22 652.86 L2020.11 653.31 L2021 653.77 L2021.9 654.22 L2022.79 654.67 L2023.68 655.13 L2024.57 655.58 L2025.47 656.03 L2026.36 656.49 L2027.25 656.94 L2028.14 657.39 L2029.03 657.85 L2029.93 658.3 L2030.82 658.75 L2031.71 659.21 L2032.6 659.66 L2033.49 660.12 L2034.38 660.57 L2035.28 661.02 L2036.17 661.48 L2037.06 661.93 L2037.95 662.39 L2038.84 662.84 L2039.73 663.3 L2040.62 663.75 L2041.36 664.13" stroke="#D95319" stroke-width="7" stroke-dasharray="25 23" stroke-dashoffset="36.5"/>
<path d="M2041.36 664.13 L2041.52 664.21 L2042.41 664.66 L2043.3 665.12 L2044.19 665.57 L2045.08 666.03 L2045.97 666.48 L2046.86 666.94 L2047.75 667.39 L2048.64 667.85 L2049.54 668.3 L2050.43 668.76 L2051.32 669.22 L2052.21 669.67 L2053.1 670.13 L2053.99 670.58 L2054.88 671.04 L2055.77 671.5 L2056.66 671.95 L2057.55 672.41 L2058.44 672.87 L2059.33 673.32 L2060.22 673.78 L2061.11 674.24 L2062 674.69 L2062.89 675.15 L2063.78 675.61 L2064.67 676.06 L2065.56 676.52 L2066.45 676.98 L2067.34 677.44 L2068.23 677.89 L2069.12 678.35 L2070.01 678.81 L2070.9 679.27 L2071.79 679.72 L2072.68 680.18 L2073.57 680.64 L2074.46 681.1 L2075.35 681.56 L2076.24 682.01 L2077.13 682.47 L2078.02 682.93 L2078.91 683.39 L2079.8 683.85 L2080.69 684.31 L2081.58 684.77 L2082.47 685.22 L2082.98 685.49" stroke="#D95319" stroke-width="7" stroke-dasharray="25 23" stroke-dashoffset="36.5"/>
<path d="M2082.98 685.49 L2083.36 685.68 L2084.25 686.14 L2085.14 686.6 L2086.03 687.06 L2086.91 687.52 L2087.8 687.98 L2088.69 688.44 L2089.58 688.9 L2090.47 689.36 L2091.36 689.81 L2092.25 690.27 L2093.14 690.73 L2094.03 691.19 L2094.91 691.65 L2095.8 692.11 L2096.69 692.57 L2097.58 693.03 L2098.47 693.49 L2099.36 693.95 L2100.25 694.41 L2101.13 694.87 L2102.02 695.33 L2102.91 695.79 L2103.8 696.25 L2104.69 696.71 L2105.58 697.17 L2106.47 697.64 L2107.35 698.1 L2108.24 698.56 L2109.13 699.02 L2110.02 699.48 L2110.91 699.94 L2111.79 700.4 L2112.68 700.86 L2113.57 701.32 L2114.46 701.78 L2115.35 702.24 L2116.23 702.7 L2117.12 703.17 L2118.01 703.63 L2118.9 704.09 L2119.79 704.55 L2120.67 705.01 L2121.56 705.47 L2122.45 705.93 L2123.34 706.4 L2124.22 706.86 L2124.6 707.05" stroke="#D95319" stroke-width="7" stroke-dasharray="25 23" stroke-dashoffset="36.5"/>
<path d="M2124.6 707.05 L2125.11 707.32 L2126 707.78 L2126.89 708.24 L2127.77 708.71 L2128.66 709.17 L2129.55 709.63 L2130.44 710.09 L2131.32 710.55 L2132.21 711.02 L2133.1 711.48 L2133.98 711.94 L2134.87 712.4 L2135.76 712.87 L2136.65 713.33 L2137.53 713.79 L2138.42 714.25 L2139.31 714.72 L2140.19 715.18 L2141.08 715.64 L2141.97 716.1 L2142.86 716.57 L2143.74 717.03 L2144.63 717.49 L2145.52 717.95 L2146.4 718.42 L2147.29 718.88 L2148.18 719.34 L2149.06 719.81 L2149.95 720.27 L2150.84 720.73 L2151.72 721.2 L2152.61 721.66 L2153.5 722.12 L2154.38 722.59 L2155.27 723.05 L2156.16 723.51 L2157.04 723.98 L2157.93 724.44 L2158.81 724.9 L2159.7 725.37 L2160.59 725.83 L2161.47 726.29 L2162.36 726.76 L2163.25 727.22 L2164.13 727.68 L2165.02 728.15 L2165.9 728.61 L2166.79 729.08 L2166.91 729.14" stroke="#D95319" stroke-width="7" stroke-dasharray="25 23" stroke-dashoffset="36.5"/>
<path d="M2166.91 729.14 L2167.68 729.54 L2168.56 730 L2169.45 730.47 L2170.33 730.93 L2171.22 731.4 L2172.11 731.86 L2172.99 732.32 L2173.88 732.79 L2174.76 733.25 L2175.65 733.72 L2176.54 734.18 L2177.42 734.64 L2178.31 735.11 L2179.19 735.57 L2180.08 736.04 L2180.97 736.5 L2181.85 736.97 L2182.74 737.43 L2183.62 737.89 L2184.51 738.36 L2185.39 738.82 L2186.28 739.29 L2187.16 739.75 L2188.05 740.22 L2188.94 740.68 L2189.82 741.15 L2190.71 741.61 L2191.59 742.08 L2192.48 742.54 L2193.36 743.01 L2194.25 743.47 L2195.13 743.93 L2196.02 744.4 L2196.9 744.86 L2197.79 745.33 L2198.67 745.79 L2199.56 746.26 L2200.45 746.72 L2201.33 747.19 L2202.22 747.65 L2203.1 748.12 L2203.99 748.58 L2204.87 749.05 L2205.76 749.51 L2206.64 749.98 L2207.53 750.44 L2208.41 750.91 L2208.92 751.18" stroke="#D95319" stroke-width="7" stroke-dasharray="25 23" stroke-dashoffset="36.5"/>
<path d="M2208.92 751.18 L2209.3 751.37 L2210.18 751.84 L2211.07 752.3 L2211.95 752.77 L2212.84 753.23 L2213.72 753.7 L2214.61 754.16 L2215.49 754.63 L2216.38 755.09 L2217.26 755.56 L2218.15 756.02 L2219.03 756.49 L2219.91 756.96 L2220.8 757.42 L2221.68 757.89 L2222.57 758.35 L2223.45 758.82 L2224.34 759.28 L2225.22 759.75 L2226.11 760.21 L2226.99 760.68 L2227.88 761.14 L2228.76 761.61 L2229.65 762.07 L2230.53 762.54 L2231.42 763 L2232.3 763.47 L2233.18 763.93 L2234.07 764.4 L2234.95 764.87 L2235.84 765.33 L2236.72 765.8 L2237.61 766.26 L2238.49 766.73 L2239.38 767.19 L2240.26 767.66 L2241.14 768.12 L2242.03 768.59 L2242.91 769.05 L2243.8 769.52 L2244.68 769.98 L2245.57 770.45 L2246.45 770.91 L2247.33 771.38 L2248.22 771.85 L2249.1 772.31 L2249.99 772.78 L2250.52 773.06" stroke="#D95319" stroke-width="7" stroke-dasharray="25 23" stroke-dashoffset="36.5"/>
<path d="M2250.52 773.06 L2250.87 773.24 L2251.76 773.71 L2252.64 774.17 L2253.52 774.64 L2254.41 775.1 L2255.29 775.57 L2256.18 776.03 L2257.06 776.5 L2257.94 776.96 L2258.83 777.43 L2259.71 777.89 L2260.6 778.36 L2261.48 778.82 L2262.37 779.29 L2263.25 779.76 L2264.13 780.22 L2265.02 780.69 L2265.9 781.15 L2266.79 781.62 L2267.67 782.08 L2268.55 782.55 L2269.44 783.01 L2270.32 783.48 L2271.2 783.94 L2272.09 784.41 L2272.97 784.87 L2273.86 785.34 L2274.74 785.8 L2275.62 786.27 L2276.51 786.73 L2277.39 787.2 L2278.28 787.66 L2279.16 788.13 L2280.04 788.59 L2280.93 789.06 L2281.81 789.52 L2282.7 789.99 L2283.58 790.45 L2284.46 790.92 L2285.35 791.38 L2286.23 791.85 L2287.11 792.31 L2288 792.78 L2288.88 793.24 L2289.77 793.71 L2290.65 794.17 L2291.53 794.64 L2292.42 795.1 L2292.82 795.31" stroke="#D95319" stroke-width="7" stroke-dasharray="25 23" stroke-dashoffset="36.5"/>
<path d="M2292.82 795.31 L2293.3 795.57 L2294.18 796.03 L2295.07 796.49 L2295.95 796.96 L2296.84 797.42 L2297.72 797.89 L2298.6 798.35 L2299.49 798.82 L2300.37 799.28 L2301.25 799.75 L2302.14 800.21 L2303.02 800.68 L2303.9 801.14 L2304.79 801.6 L2305.67 802.07 L2306.56 802.53 L2307.44 803 L2308.32 803.46 L2309.21 803.93 L2310.09 804.39 L2310.97 804.85 L2311.86 805.32 L2312.74 805.78 L2313.62 806.25 L2314.51 806.71 L2315.39 807.17 L2316.28 807.64 L2317.16 808.1 L2318.04 808.57 L2318.93 809.03 L2319.81 809.49 L2320.69 809.96 L2321.58 810.42 L2322.46 810.88 L2323.34 811.35 L2324.23 811.81 L2325.11 812.28 L2326 812.74 L2326.88 813.2 L2327.76 813.67 L2328.65 814.13 L2329.53 814.59 L2330.41 815.06 L2331.3 815.52 L2332.18 815.98 L2333.06 816.45 L2333.95 816.91 L2334.51 817.21" stroke="#D95319" stroke-width="7" stroke-dasharray="25 23" stroke-dashoffset="36.5"/>
<path d="M2334.51 817.21 L2334.83 817.37 L2335.71 817.84 L2336.6 818.3 L2337.48 818.76 L2338.37 819.23 L2339.25 819.69 L2340.13 820.15 L2341.02 820.61 L2341.9 821.08 L2342.78 821.54 L2343.67 822 L2344.55 822.46 L2345.43 822.93 L2346.32 823.39 L2347.2 823.85 L2348.08 824.32 L2348.97 824.78 L2349.85 825.24 L2350.74 825.7 L2351.62 826.16 L2352.5 826.63 L2353.39 827.09 L2354.27 827.55 L2355.15 828.01 L2356.04 828.48 L2356.92 828.94 L2357.8 829.4 L2358.69 829.86 L2359.57 830.32 L2360.45 830.78 L2361.34 831.25 L2362.22 831.71 L2363.11 832.17 L2363.99 832.63 L2364.87 833.09 L2365.76 833.55 L2366.64 834.02 L2367.52 834.48 L2368.41 834.94 L2369.29 835.4 L2370.18 835.86 L2371.06 836.32 L2371.94 836.78 L2372.83 837.24 L2373.71 837.71 L2374.59 838.17 L2375.48 838.63 L2376.1 838.95" stroke="#D95319" stroke-width="7" stroke-dasharray="25 23" stroke-dashoffset="36.5"/>
<path d="M2376.1 838.95 L2376.36 839.09 L2377.24 839.55 L2378.13 840.01 L2379.01 840.47 L2379.9 840.93 L2380.78 841.39 L2381.66 841.85 L2382.55 842.31 L2383.43 842.77 L2384.31 843.23 L2385.2 843.69 L2386.08 844.15 L2386.97 844.61 L2387.85 845.07 L2388.73 845.53 L2389.62 845.99 L2390.5 846.45 L2391.39 846.91 L2392.27 847.37 L2393.15 847.83 L2394.04 848.29 L2394.92 848.75 L2395.8 849.21 L2396.69 849.67 L2397.57 850.13 L2398.46 850.59 L2399.34 851.04 L2400.22 851.5 L2401.11 851.96 L2401.99 852.42 L2402.88 852.88 L2403.76 853.34 L2404.64 853.8 L2405.53 854.26 L2406.41 854.71 L2407.3 855.17 L2408.18 855.63 L2409.06 856.09 L2409.95 856.55 L2410.83 857.01 L2411.72 857.46 L2412.6 857.92 L2413.48 858.38 L2414.37 858.84" stroke="#D95319" stroke-width="7" stroke-dasharray="25 23" stroke-dashoffset="36.5"/>
<path d="M216.56 236.92 L218.53 237.07 L220.5 237.23 L222.47 237.38 L224.44 237.54 L226.41 237.7 L228.39 237.87 L230.36 238.03 L232.33 238.2 L234.31 238.37 L236.29 238.55 L238.26 238.72 L240.24 238.9 L242.22 239.08 L244.2 239.26 L246.18 239.45 L248.16 239.63 L250.14 239.82 L252.12 240.01 L254.1 240.2 L256.09 240.39 L258.07 240.59 L260.06 240.78 L262.04 240.98 L264.03 241.17 L266.01 241.37 L268 241.57 L269.99 241.77 L271.98 241.97 L273.96 242.18 L275.95 242.38 L277.94 242.58 L279.93 242.79 L281.93 242.99 L283.92 243.2 L285.91 243.4 L287.9 243.61 L289.89 243.81 L291.89 244.02 L293.88 244.23 L295.87 244.43 L297.87 244.64 L299.86 244.84 L301.86 245.05 L303.85 245.25 L305.85 245.46 L307.85 245.66 L309.84 245.87 L311.84 246.07 L313.84 246.27 L315.84 246.48 L317.83 246.68 L319.83 246.88 L321.83 247.07 L323.83 247.27 L325.83 247.47 L327.83 247.66 L329.83 247.86 L331.83 248.05 L333.83 248.24 L335.83 248.43 L337.83 248.62 L339.83 248.81 L341.83 248.99 L343.83 249.17 L345.83 249.35 L347.84 249.53 L349.84 249.71 L351.84 249.88 L353.84 250.06 L355.84 250.23 L357.84 250.39 L359.85 250.56 L361.85 250.72 L363.85 250.88 L365.85 251.04 L367.85 251.19 L369.86 251.35 L371.86 251.49 L373.86 251.64 L375.86 251.78 L377.86 251.92 L379.87 252.06 L381.87 252.19 L383.87 252.32 L385.87 252.45 L387.87 252.57 L389.87 252.69 L391.88 252.8 L393.88 252.92 L395.88 253.02 L397.88 253.13 L399.88 253.23 L401.88 253.32 L403.88 253.42 L405.88 253.5 L407.88 253.59 L409.88 253.67 L411.88 253.74 L413.88 253.81 L415.88 253.88 L417.88 253.94 L419.88 253.99 L421.88 254.04 L423.88 254.09 L425.87 254.13 L427.87 254.17 L429.87 254.2 L431.86 254.22 L433.86 254.24 L435.86 254.26 L437.85 254.27 L439.85 254.27 L441.84 254.27 L443.84 254.27 L445.83 254.25 L447.82 254.23 L449.82 254.21 L451.81 254.18 L453.8 254.14 L455.79 254.1 L457.79 254.05 L459.78 254 L461.77 253.94 L463.76 253.87 L465.75 253.8 L467.73 253.71 L469.72 253.63 L471.71 253.53 L473.7 253.43 L475.68 253.32 L477.67 253.21 L479.65 253.09 L481.64 252.96 L483.62 252.82 L485.61 252.68 L487.59 252.53 L489.57 252.37 L491.55 252.21 L493.53 252.03 L495.51 251.85 L497.49 251.66 L499.47 251.47 L501.45 251.26 L503.42 251.05 L505.4 250.83 L507.38 250.6 L509.35 250.37 L511.33 250.12 L513.3 249.87 L515.27 249.62 L517.24 249.35 L519.22 249.08 L521.19 248.8 L523.16 248.52 L525.13 248.23 L527.1 247.93 L529.07 247.63 L531.05 247.32 L533.02 247.01 L534.99 246.69 L536.96 246.37 L538.93 246.04 L540.9 245.71 L542.88 245.37 L544.85 245.03 L546.82 244.69 L548.8 244.34 L550.77 243.99 L552.75 243.64 L554.72 243.28 L556.7 242.92 L558.68 242.55 L560.66 242.19 L562.64 241.82 L564.62 241.45 L566.6 241.08 L568.58 240.71 L570.56 240.33 L572.55 239.95 L574.54 239.58 L576.52 239.2 L578.51 238.82 L580.5 238.44 L582.5 238.06 L584.49 237.68 L586.49 237.3 L588.48 236.92 L590.48 236.54 L592.48 236.17 L594.48 235.8 L596.49 235.43 L598.49 235.07 L600.49 234.72 L602.49 234.38 L604.5 234.05 L606.5 233.72 L608.5 233.41 L610.51 233.11 L612.51 232.83 L614.51 232.56 L616.51 232.31 L618.51 232.08 L620.5 231.86 L622.5 231.66 L624.49 231.49 L626.48 231.34 L628.47 231.21 L630.45 231.1 L632.44 231.02 L634.42 230.97 L636.39 230.94 L638.37 230.95 L640.34 230.98 L642.3 231.04 L644.26 231.14 L646.22 231.27 L648.18 231.43 L650.12 231.63 L652.07 231.86 L654 232.13 L655.93 232.42 L657.86 232.75 L659.78 233.11 L661.69 233.5 L663.59 233.93 L665.48 234.39 L667.37 234.88 L669.25 235.4 L671.12 235.95 L672.97 236.54 L674.82 237.15 L676.66 237.8 L678.49 238.48 L680.3 239.19 L682.11 239.92 L683.9 240.69 L685.68 241.49 L687.45 242.32 L689.2 243.18 L690.94 244.07 L692.67 244.99 L694.38 245.94 L696.08 246.91 L697.76 247.92 L699.44 248.95 L701.09 250 L702.74 251.09 L704.37 252.2 L705.99 253.33 L707.6 254.48 L709.2 255.66 L710.79 256.86 L712.36 258.08 L713.93 259.32 L715.48 260.58 L717.03 261.86 L718.56 263.15 L720.09 264.46 L721.6 265.79 L723.11 267.14 L724.61 268.5 L726.1 269.87 L727.58 271.26 L729.06 272.66 L730.53 274.07 L731.99 275.49 L733.44 276.93 L734.89 278.37 L736.33 279.82 L737.77 281.28 L739.2 282.75 L740.63 284.22 L742.05 285.7 L743.46 287.18 L744.88 288.67 L746.29 290.16 L747.69 291.66 L749.09 293.15 L750.49 294.65 L751.88 296.15 L753.28 297.64 L754.67 299.14 L756.06 300.63 L757.45 302.12 L758.83 303.61 L760.22 305.09 L761.6 306.57 L762.99 308.05 L764.37 309.51 L765.75 310.98 L767.14 312.43 L768.52 313.89 L769.91 315.34 L771.29 316.78 L772.68 318.22 L774.06 319.65 L775.45 321.08 L776.83 322.51 L778.22 323.93 L779.61 325.35 L780.99 326.76 L782.38 328.17 L783.77 329.58 L785.17 330.98 L786.56 332.38 L787.95 333.78 L789.35 335.17 L790.75 336.56 L792.15 337.95 L793.55 339.33 L794.95 340.71 L796.35 342.09 L797.76 343.47 L799.17 344.84 L800.58 346.21 L801.99 347.58 L803.41 348.94 L804.83 350.31 L806.25 351.67 L807.68 353.03 L809.1 354.39 L810.53 355.75 L811.97 357.1 L813.4 358.46 L814.84 359.81 L816.28 361.16 L817.73 362.51 L819.17 363.85 L820.62 365.2 L822.07 366.54 L823.53 367.88 L824.99 369.22 L826.45 370.56 L827.91 371.89 L829.38 373.23 L830.85 374.56 L832.32 375.89 L833.8 377.21 L835.27 378.54 L836.75 379.86 L838.24 381.19 L839.72 382.51 L841.21 383.82 L842.7 385.14 L844.19 386.45 L845.69 387.77 L847.19 389.08 L848.69 390.39 L850.19 391.69 L851.7 393 L853.21 394.3 L854.72 395.6 L856.23 396.9 L857.75 398.19 L859.27 399.49 L860.79 400.78 L862.31 402.07 L863.84 403.35 L865.37 404.64 L866.9 405.92 L868.43 407.2 L869.97 408.48 L871.51 409.76 L873.05 411.03 L874.59 412.31 L876.14 413.58 L877.69 414.84 L879.24 416.11 L880.79 417.37 L882.35 418.63 L883.91 419.89 L885.47 421.15 L887.03 422.4 L888.59 423.65 L890.16 424.9 L891.73 426.15 L893.3 427.39 L894.87 428.64 L896.45 429.88 L898.03 431.11 L899.61 432.35 L901.19 433.58 L902.78 434.81 L904.36 436.04 L905.95 437.27 L907.54 438.49 L909.14 439.71 L910.73 440.93 L912.33 442.14 L913.93 443.36 L915.53 444.57 L917.14 445.78 L918.74 446.98 L920.35 448.19 L921.96 449.39 L923.57 450.58 L925.19 451.78 L926.81 452.97 L928.42 454.16 L930.04 455.35 L931.67 456.54 L933.29 457.72 L934.92 458.9 L936.55 460.07 L938.18 461.25 L939.81 462.42 L941.44 463.59 L943.08 464.76 L944.72 465.92 L946.36 467.08 L948 468.24 L949.64 469.39 L951.29 470.55 L952.93 471.7 L954.58 472.84 L956.24 473.99 L957.89 475.13 L959.54 476.27 L961.2 477.4 L962.86 478.54 L964.52 479.67 L966.18 480.8 L967.84 481.92 L969.51 483.04 L971.17 484.16 L972.84 485.28 L974.51 486.39 L976.18 487.5 L977.86 488.61 L979.53 489.71 L981.21 490.81 L982.89 491.91 L984.57 493 L986.25 494.1 L987.93 495.19 L989.62 496.27 L991.31 497.35 L992.99 498.43 L994.68 499.51 L996.38 500.59 L998.07 501.66 L999.76 502.72 L1001.46 503.79 L1003.16 504.85 L1004.86 505.91 L1006.56 506.97 L1008.26 508.02 L1009.96 509.07 L1011.67 510.12 L1013.37 511.16 L1015.08 512.2 L1016.79 513.24 L1018.5 514.28 L1020.21 515.31 L1021.93 516.34 L1023.64 517.37 L1025.36 518.39 L1027.08 519.41 L1028.8 520.43 L1030.52 521.45 L1032.24 522.46 L1033.96 523.47 L1035.69 524.48 L1037.41 525.49 L1039.14 526.49 L1040.87 527.49 L1042.6 528.49 L1044.33 529.48 L1046.06 530.47 L1047.8 531.46 L1049.53 532.45 L1051.27 533.43 L1053.01 534.42 L1054.75 535.39 L1056.49 536.37 L1058.23 537.35 L1059.98 538.32 L1061.72 539.29 L1063.47 540.25 L1065.21 541.22 L1066.96 542.18 L1068.71 543.14 L1070.46 544.1 L1072.22 545.05 L1073.97 546 L1075.72 546.95 L1077.48 547.9 L1079.24 548.84 L1081 549.79 L1082.75 550.73 L1084.52 551.67 L1086.28 552.6 L1088.04 553.53 L1089.8 554.47 L1091.57 555.39 L1093.34 556.32 L1095.1 557.25 L1096.87 558.17 L1098.64 559.09 L1100.41 560.01 L1102.18 560.92 L1103.96 561.84 L1105.73 562.75 L1107.51 563.66 L1109.28 564.56 L1111.06 565.47 L1112.84 566.37 L1114.62 567.27 L1116.4 568.17 L1118.18 569.07 L1119.96 569.97 L1121.74 570.86 L1123.53 571.75 L1125.31 572.64 L1127.1 573.53 L1128.89 574.41 L1130.68 575.29 L1132.47 576.18 L1134.26 577.05 L1136.05 577.93 L1137.84 578.81 L1139.63 579.68 L1141.43 580.55 L1143.22 581.42 L1145.02 582.29 L1146.82 583.16 L1148.61 584.02 L1150.41 584.89 L1152.21 585.75 L1154.01 586.61 L1155.81 587.47 L1157.62 588.32 L1159.42 589.18 L1161.22 590.03 L1163.03 590.88 L1164.83 591.73 L1166.64 592.58 L1168.45 593.42 L1170.26 594.27 L1172.06 595.11 L1173.87 595.95 L1175.69 596.79 L1177.5 597.63 L1179.31 598.47 L1181.12 599.3 L1182.94 600.13 L1184.75 600.97 L1186.56 601.8 L1188.38 602.63 L1190.2 603.45 L1192.01 604.28 L1193.83 605.11 L1195.65 605.93 L1197.47 606.75 L1199.29 607.57 L1201.11 608.39 L1202.93 609.21 L1204.76 610.03 L1206.58 610.84 L1208.4 611.65 L1210.23 612.47 L1212.05 613.28 L1213.88 614.09 L1215.7 614.9 L1217.53 615.71 L1219.36 616.51 L1221.18 617.32 L1223.01 618.12 L1224.84 618.92 L1226.67 619.73 L1228.5 620.53 L1230.33 621.33 L1232.16 622.12 L1234 622.92 L1235.83 623.72 L1237.66 624.51 L1239.5 625.31 L1241.33 626.1 L1243.16 626.89 L1245 627.68 L1246.84 628.47 L1248.67 629.26 L1250.51 630.05 L1252.35 630.84 L1254.18 631.62 L1256.02 632.41 L1257.86 633.19 L1259.7 633.97 L1261.54 634.76 L1263.38 635.54 L1265.22 636.32 L1267.06 637.1 L1268.9 637.88 L1270.74 638.66 L1272.58 639.43 L1274.43 640.21 L1276.27 640.99 L1278.11 641.76 L1279.96 642.54 L1281.8 643.31 L1283.64 644.08 L1285.49 644.85 L1287.33 645.63 L1289.18 646.4 L1291.02 647.17 L1292.87 647.94 L1294.72 648.7 L1296.56 649.47 L1298.41 650.24 L1300.26 651.01 L1302.1 651.77 L1303.95 652.54 L1305.8 653.31 L1307.65 654.07 L1309.49 654.83 L1311.34 655.6 L1313.19 656.36 L1315.04 657.12 L1316.89 657.89 L1318.74 658.65 L1320.59 659.41 L1322.44 660.17 L1324.29 660.93 L1326.14 661.69 L1327.99 662.45 L1329.84 663.21 L1331.69 663.97 L1333.54 664.73 L1335.39 665.49 L1337.25 666.25 L1339.1 667.01 L1340.95 667.76 L1342.8 668.52 L1344.65 669.28 L1346.5 670.04 L1348.36 670.79 L1350.21 671.55 L1352.06 672.31 L1353.91 673.06 L1355.76 673.82 L1357.62 674.58 L1359.47 675.33 L1361.32 676.09 L1363.17 676.84 L1365.03 677.6 L1366.88 678.35 L1368.73 679.11 L1370.58 679.86 L1372.44 680.62 L1374.29 681.38 L1376.14 682.13 L1377.99 682.89 L1379.85 683.64 L1381.7 684.4 L1383.55 685.15 L1385.4 685.91 L1387.26 686.66 L1389.11 687.42 L1390.96 688.17 L1392.81 688.93 L1394.67 689.68 L1396.52 690.44 L1398.37 691.19 L1400.22 691.95 L1402.08 692.7 L1403.93 693.46 L1405.78 694.21 L1407.63 694.97 L1409.49 695.73 L1411.34 696.48 L1413.19 697.24 L1415.04 697.99 L1416.9 698.75 L1418.75 699.5 L1420.6 700.26 L1422.45 701.01 L1424.3 701.77 L1426.16 702.52 L1428.01 703.28 L1429.86 704.04 L1431.71 704.79 L1433.56 705.55 L1435.42 706.3 L1437.27 707.06 L1439.12 707.82 L1440.97 708.57 L1442.82 709.33 L1444.68 710.08 L1446.53 710.84 L1448.38 711.6 L1450.23 712.35 L1452.08 713.11 L1453.93 713.87 L1455.78 714.63 L1457.64 715.38 L1459.49 716.14 L1461.34 716.9 L1463.19 717.66 L1465.04 718.41 L1466.89 719.17 L1468.74 719.93 L1470.59 720.69 L1472.44 721.45 L1474.3 722.2 L1476.15 722.96 L1478 723.72 L1479.85 724.48 L1481.7 725.24 L1483.55 726 L1485.4 726.76 L1487.25 727.52 L1489.1 728.28 L1490.95 729.04 L1492.8 729.8 L1494.65 730.56 L1496.5 731.32 L1498.35 732.08 L1500.2 732.84 L1502.05 733.6 L1503.89 734.36 L1505.74 735.12 L1507.59 735.89 L1509.44 736.65 L1511.29 737.41 L1513.14 738.17 L1514.99 738.94 L1516.84 739.7 L1518.69 740.46 L1520.53 741.23 L1522.38 741.99 L1524.23 742.75 L1526.08 743.52 L1527.93 744.28 L1529.77 745.05 L1531.62 745.81 L1533.47 746.58 L1535.32 747.34 L1537.16 748.11 L1539.01 748.88 L1540.86 749.64 L1542.7 750.41 L1544.55 751.18 L1546.4 751.94 L1548.24 752.71 L1550.09 753.48 L1551.93 754.25 L1553.78 755.02 L1555.63 755.78 L1557.47 756.55 L1559.32 757.32 L1561.16 758.09 L1563.01 758.86 L1564.85 759.63 L1566.7 760.4 L1568.54 761.18 L1570.39 761.95 L1572.23 762.72 L1574.08 763.49 L1575.92 764.26 L1577.76 765.04 L1579.61 765.81 L1581.45 766.58 L1583.29 767.36 L1585.14 768.13 L1586.98 768.91 L1588.82 769.68 L1590.67 770.46 L1592.51 771.23 L1594.35 772.01 L1596.19 772.79 L1598.03 773.56 L1599.88 774.34 L1601.72 775.12 L1603.56 775.9 L1605.4 776.68 L1607.24 777.46 L1609.08 778.24 L1610.92 779.02 L1612.76 779.8 L1614.6 780.58 L1616.44 781.36 L1618.28 782.14 L1620.12 782.92 L1621.96 783.71 L1623.8 784.49 L1625.64 785.27 L1627.48 786.06 L1629.32 786.84 L1631.15 787.63 L1632.99 788.41 L1634.83 789.2 L1636.67 789.98 L1638.51 790.77 L1640.34 791.56 L1642.18 792.35 L1644.02 793.13 L1645.85 793.92 L1647.69 794.71 L1649.53 795.5 L1651.36 796.29 L1653.2 797.08 L1655.03 797.88 L1656.87 798.67 L1658.7 799.46 L1660.54 800.25 L1662.37 801.05 L1664.21 801.84 L1666.04 802.63 L1667.87 803.43 L1669.71 804.23 L1671.54 805.02 L1673.37 805.82 L1675.21 806.62 L1677.04 807.41 L1678.87 808.21 L1680.7 809.01 L1682.53 809.81 L1684.37 810.61 L1686.2 811.41 L1688.03 812.21 L1689.86 813.01 L1691.69 813.82 L1693.52 814.62 L1695.35 815.42 L1697.18 816.23 L1699.01 817.03 L1700.84 817.84 L1702.67 818.64 L1704.49 819.45 L1706.32 820.26 L1708.15 821.07 L1709.98 821.88 L1711.8 822.68 L1713.63 823.49 L1715.46 824.3 L1717.28 825.12 L1719.11 825.93 L1720.94 826.74 L1722.76 827.55 L1724.59 828.37 L1726.41 829.18 L1728.24 830 L1730.06 830.81 L1731.89 831.63 L1733.71 832.45 L1735.53 833.26 L1737.36 834.08 L1739.18 834.9 L1741 835.72 L1742.82 836.54 L1744.65 837.36 L1746.47 838.18 L1748.29 839.01 L1750.11 839.83 L1751.93 840.65 L1753.75 841.48 L1755.57 842.3 L1757.39 843.13 L1759.21 843.96 L1761.03 844.78 L1762.85 845.61 L1764.67 846.44 L1766.48 847.27 L1768.3 848.1 L1770.12 848.93 L1771.94 849.76 L1773.75 850.59 L1775.57 851.43 L1777.39 852.26 L1779.2 853.1 L1781.02 853.93 L1782.83 854.77 L1784.65 855.6 L1786.46 856.44 L1788.28 857.28 L1790.09 858.11 L1791.91 858.95 L1793.72 859.79 L1795.53 860.63 L1797.35 861.47 L1799.16 862.31 L1800.97 863.16 L1802.78 864 L1804.6 864.84 L1806.41 865.69 L1808.22 866.53 L1810.03 867.38 L1811.84 868.22 L1813.65 869.07 L1815.46 869.92 L1817.27 870.76 L1819.08 871.61 L1820.89 872.46 L1822.7 873.31 L1824.51 874.16 L1826.32 875.01 L1828.12 875.86 L1829.93 876.71 L1831.74 877.57 L1833.55 878.42 L1835.35 879.27 L1837.16 880.13 L1838.97 880.98 L1840.77 881.84 L1842.58 882.69 L1844.38 883.55 L1846.19 884.41 L1848 885.27 L1849.8 886.13 L1851.6 886.98 L1853.41 887.84 L1855.21 888.7 L1857.02 889.57 L1858.82 890.43 L1860.62 891.29 L1862.43 892.15 L1864.23 893.01 L1866.03 893.88 L1867.83 894.74 L1869.64 895.61 L1871.44 896.47 L1873.24 897.34 L1875.04 898.2 L1876.84 899.07 L1878.64 899.94 L1880.44 900.81 L1882.24 901.68 L1884.04 902.55 L1885.84 903.42 L1887.64 904.29 L1889.44 905.16 L1891.24 906.03 L1893.04 906.9 L1894.84 907.77 L1896.64 908.65 L1898.43 909.52 L1900.23 910.39 L1902.03 911.27 L1903.83 912.14 L1905.62 913.02 L1907.42 913.89 L1909.22 914.77 L1911.01 915.65 L1912.81 916.53 L1914.6 917.4 L1916.4 918.28 L1918.19 919.16 L1919.99 920.04 L1921.78 920.92 L1923.58 921.8 L1925.37 922.68 L1927.17 923.57 L1928.96 924.45 L1930.75 925.33 L1932.55 926.21 L1934.34 927.1 L1936.13 927.98 L1937.93 928.87 L1939.72 929.75 L1941.51 930.64 L1943.3 931.52 L1945.09 932.41 L1946.89 933.3 L1948.68 934.19 L1950.47 935.07 L1952.26 935.96 L1954.05 936.85 L1955.84 937.74 L1957.63 938.63 L1959.42 939.52 L1961.21 940.41 L1963 941.3 L1964.79 942.19 L1966.58 943.09 L1968.37 943.98 L1970.16 944.87 L1971.95 945.77 L1973.73 946.66 L1975.52 947.55 L1977.31 948.45 L1979.1 949.34 L1980.88 950.24 L1982.67 951.14 L1984.46 952.03 L1986.25 952.93 L1988.03 953.83 L1989.82 954.72 L1991.6 955.62 L1993.39 956.52 L1995.18 957.42 L1996.96 958.32 L1998.75 959.22 L2000.53 960.12 L2002.32 961.02 L2004.1 961.92 L2005.89 962.82 L2007.67 963.72 L2009.46 964.63 L2011.24 965.53 L2013.02 966.43 L2014.81 967.34 L2016.59 968.24 L2018.37 969.14 L2020.16 970.05 L2021.94 970.95 L2023.72 971.86 L2025.51 972.77 L2027.29 973.67 L2029.07 974.58 L2030.85 975.49 L2032.63 976.39 L2034.42 977.3 L2036.2 978.21 L2037.98 979.12 L2039.76 980.03 L2041.54 980.94 L2043.32 981.85 L2045.1 982.76 L2046.88 983.67 L2048.66 984.58 L2050.44 985.49 L2052.22 986.4 L2054 987.31 L2055.78 988.22 L2057.56 989.13 L2059.34 990.05 L2061.12 990.96 L2062.9 991.87 L2064.67 992.79 L2066.45 993.7 L2068.23 994.62 L2070.01 995.53 L2071.79 996.45 L2073.57 997.36 L2075.34 998.28 L2077.12 999.19 L2078.9 1000.11 L2080.67 1001.03 L2082.45 1001.94 L2084.23 1002.86 L2086 1003.78 L2087.78 1004.7 L2089.56 1005.61 L2091.33 1006.53 L2093.11 1007.45 L2094.89 1008.37 L2096.66 1009.29 L2098.44 1010.21 L2100.21 1011.13 L2101.99 1012.05 L2103.76 1012.97 L2105.54 1013.89 L2107.31 1014.81 L2109.09 1015.74 L2110.86 1016.66 L2112.64 1017.58 L2114.41 1018.5 L2116.18 1019.42 L2117.96 1020.35 L2119.73 1021.27 L2121.51 1022.19 L2123.28 1023.12 L2125.05 1024.04 L2126.83 1024.97 L2128.6 1025.89 L2130.37 1026.81 L2132.14 1027.74 L2133.92 1028.67 L2135.69 1029.59 L2137.46 1030.52 L2139.23 1031.44 L2141.01 1032.37 L2142.78 1033.3 L2144.55 1034.22 L2146.32 1035.15 L2148.09 1036.08 L2149.86 1037 L2151.64 1037.93 L2153.41 1038.86 L2155.18 1039.79 L2156.95 1040.72 L2158.72 1041.64 L2160.49 1042.57 L2162.26 1043.5 L2164.03 1044.43 L2165.8 1045.36 L2167.57 1046.29 L2169.34 1047.22 L2171.11 1048.15 L2172.88 1049.08 L2174.65 1050.01 L2176.42 1050.94 L2178.19 1051.87 L2179.96 1052.81 L2181.73 1053.74 L2183.5 1054.67 L2185.27 1055.6 L2187.04 1056.53 L2188.81 1057.47 L2190.57 1058.4 L2192.34 1059.33 L2194.11 1060.26 L2195.88 1061.2 L2197.65 1062.13 L2199.42 1063.06 L2201.18 1064 L2202.95 1064.93 L2204.72 1065.86 L2206.49 1066.8 L2208.26 1067.73 L2210.02 1068.67 L2211.79 1069.6 L2213.56 1070.54 L2215.32 1071.47 L2217.09 1072.41 L2218.86 1073.34 L2220.63 1074.28 L2222.39 1075.21 L2224.16 1076.15 L2225.93 1077.08 L2227.69 1078.02 L2229.46 1078.95 L2231.23 1079.89 L2232.99 1080.83 L2234.76 1081.76 L2236.52 1082.7 L2238.29 1083.64 L2240.06 1084.57 L2241.82 1085.51 L2243.59 1086.45 L2245.35 1087.39 L2247.12 1088.32 L2248.88 1089.26 L2250.65 1090.2 L2252.42 1091.14 L2254.18 1092.07 L2255.95 1093.01 L2257.71 1093.95 L2259.48 1094.89 L2261.24 1095.83 L2263.01 1096.76 L2264.77 1097.7 L2266.54 1098.64 L2268.3 1099.58 L2270.07 1100.52 L2271.83 1101.46 L2273.59 1102.4 L2275.36 1103.34 L2277.12 1104.28 L2278.89 1105.21 L2280.65 1106.15 L2282.42 1107.09 L2284.18 1108.03 L2285.94 1108.97 L2287.71 1109.91 L2289.47 1110.85 L2291.24 1111.79 L2293 1112.73 L2294.76 1113.67 L2296.53 1114.61 L2298.29 1115.55 L2300.05 1116.49 L2301.82 1117.43 L2303.58 1118.37 L2305.34 1119.31 L2307.11 1120.25 L2308.87 1121.19 L2310.63 1122.13 L2312.4 1123.08 L2314.16 1124.02 L2315.92 1124.96 L2317.69 1125.9 L2319.45 1126.84 L2321.21 1127.78 L2322.97 1128.72 L2324.74 1129.66 L2326.5 1130.6 L2328.26 1131.54 L2330.03 1132.48 L2331.79 1133.42 L2333.55 1134.36 L2335.31 1135.31 L2337.08 1136.25 L2338.84 1137.19 L2340.6 1138.13 L2342.36 1139.07 L2344.13 1140.01 L2345.89 1140.95 L2347.65 1141.89 L2349.41 1142.83 L2351.17 1143.78 L2352.94 1144.72 L2354.7 1145.66 L2356.46 1146.6 L2358.22 1147.54 L2359.98 1148.48 L2361.75 1149.42 L2363.51 1150.36 L2365.27 1151.3 L2367.03 1152.24 L2368.79 1153.19 L2370.56 1154.13 L2372.32 1155.07 L2374.08 1156.01 L2375.84 1156.95 L2377.6 1157.89 L2379.37 1158.83 L2381.13 1159.77 L2382.89 1160.71 L2384.65 1161.65 L2386.41 1162.59 L2388.17 1163.53 L2389.94 1164.47 L2391.7 1165.42 L2393.46 1166.36 L2395.22 1167.3 L2396.98 1168.24 L2398.74 1169.18 L2400.51 1170.12 L2402.27 1171.06 L2404.03 1172 L2405.79 1172.94 L2407.55 1173.88 L2409.31 1174.82 L2411.08 1175.76 L2412.84 1176.7 L2414.6 1177.64" stroke="#EDB120" stroke-width="5" stroke-dasharray="4 2"/>
</g>
<g clip-path="url(#cl)" fill="none" stroke-linejoin="round">
<path d="M216.46 2078.52 L218.44 2078.9 L220.42 2079.28 L222.41 2079.65 L224.39 2080.03 L226.37 2080.4 L228.36 2080.77 L230.34 2081.13 L232.32 2081.5 L234.31 2081.86 L236.29 2082.21 L238.28 2082.57 L240.27 2082.92 L242.25 2083.27 L244.24 2083.62 L246.23 2083.96 L248.22 2084.3 L250.21 2084.64 L252.19 2084.97 L254.18 2085.3 L256.17 2085.63 L258.16 2085.95 L260.15 2086.27 L262.14 2086.59 L264.13 2086.9 L266.13 2087.21 L268.12 2087.51 L270.11 2087.82 L272.1 2088.11 L274.09 2088.41 L276.08 2088.69 L278.08 2088.98 L280.07 2089.26 L282.06 2089.54 L284.06 2089.81 L286.05 2090.07 L288.04 2090.34 L290.03 2090.6 L292.03 2090.85 L294.02 2091.1 L296.01 2091.34 L298.01 2091.58 L300 2091.81 L301.99 2092.04 L303.99 2092.27 L305.98 2092.49 L307.97 2092.7 L309.97 2092.91 L311.96 2093.11 L313.95 2093.31 L315.95 2093.5 L317.94 2093.69 L319.93 2093.87 L321.93 2094.04 L323.92 2094.21 L325.91 2094.37 L327.9 2094.53 L329.89 2094.68 L331.89 2094.82 L333.88 2094.96 L335.87 2095.1 L337.86 2095.22 L339.85 2095.34 L341.84 2095.45 L343.83 2095.56 L345.82 2095.66 L347.81 2095.76 L349.8 2095.84 L351.79 2095.92 L353.78 2096 L355.77 2096.06 L357.75 2096.12 L359.74 2096.17 L361.73 2096.22 L363.71 2096.25 L365.7 2096.29 L367.69 2096.31 L369.67 2096.32 L371.66 2096.33 L373.64 2096.33 L375.62 2096.32 L377.61 2096.31 L379.59 2096.29 L381.57 2096.26 L383.55 2096.22 L385.53 2096.17 L387.51 2096.12 L389.49 2096.05 L391.47 2095.98 L393.45 2095.9 L395.43 2095.82 L397.41 2095.72 L399.38 2095.61 L401.36 2095.5 L403.33 2095.38 L405.31 2095.25 L407.28 2095.11 L409.25 2094.96 L411.22 2094.8 L413.19 2094.64 L415.17 2094.46 L417.13 2094.28 L419.1 2094.08 L421.07 2093.88 L423.04 2093.67 L425 2093.45 L426.97 2093.22 L428.93 2092.98 L430.9 2092.72 L432.86 2092.46 L434.82 2092.19 L436.78 2091.91 L438.74 2091.63 L440.7 2091.33 L442.66 2091.02 L444.61 2090.7 L446.57 2090.37 L448.52 2090.03 L450.47 2089.67 L452.43 2089.31 L454.38 2088.94 L456.33 2088.56 L458.28 2088.17 L460.22 2087.76 L462.17 2087.35 L464.12 2086.92 L466.06 2086.49 L468 2086.04 L469.95 2085.58 L471.89 2085.11 L473.83 2084.63 L475.76 2084.14 L477.7 2083.64 L479.64 2083.12 L481.57 2082.6 L483.5 2082.06 L485.44 2081.51 L487.37 2080.95 L489.29 2080.38 L491.22 2079.79 L493.15 2079.2 L495.07 2078.59 L497 2077.97 L498.92 2077.34 L500.84 2076.69 L502.76 2076.03 L504.68 2075.37 L506.59 2074.68 L508.51 2073.99 L510.42 2073.28 L512.33 2072.56 L514.24 2071.83 L516.15 2071.09 L518.06 2070.33 L519.96 2069.56 L521.87 2068.78 L523.77 2067.98 L525.67 2067.17 L527.57 2066.35 L529.47 2065.51 L531.36 2064.66 L533.26 2063.8 L535.15 2062.92 L537.04 2062.04 L538.93 2061.14 L540.81 2060.23 L542.7 2059.32 L544.58 2058.4 L546.47 2057.47 L548.34 2056.55 L550.22 2055.62 L552.1 2054.69 L553.97 2053.77 L555.84 2052.84 L557.71 2051.93 L559.58 2051.02 L561.45 2050.12 L563.31 2049.23 L565.17 2048.34 L567.03 2047.48 L568.89 2046.63 L570.75 2045.79 L572.6 2044.97 L574.45 2044.17 L576.3 2043.39 L578.15 2042.63 L579.99 2041.9 L581.83 2041.19 L583.67 2040.51 L585.51 2039.86 L587.35 2039.24 L589.18 2038.65 L591.01 2038.09 L592.84 2037.57 L594.66 2037.08 L596.48 2036.64 L598.3 2036.23 L600.12 2035.86 L601.94 2035.54 L603.75 2035.25 L605.56 2035.02 L607.36 2034.83 L609.17 2034.69 L610.97 2034.6 L612.77 2034.57 L614.57 2034.58 L616.36 2034.65 L618.15 2034.78 L619.94 2034.96 L621.72 2035.2 L623.5 2035.48 L625.27 2035.82 L627.04 2036.22 L628.8 2036.66 L630.56 2037.15 L632.31 2037.69 L634.05 2038.28 L635.79 2038.91 L637.52 2039.59 L639.24 2040.31 L640.95 2041.08 L642.65 2041.89 L644.34 2042.75 L646.03 2043.64 L647.7 2044.58 L649.36 2045.55 L651.01 2046.57 L652.64 2047.62 L654.27 2048.71 L655.88 2049.83 L657.48 2050.99 L659.06 2052.18 L660.64 2053.41 L662.2 2054.66 L663.75 2055.94 L665.28 2057.25 L666.81 2058.58 L668.32 2059.94 L669.82 2061.32 L671.31 2062.72 L672.78 2064.14 L674.25 2065.58 L675.7 2067.03 L677.15 2068.5 L678.58 2069.97 L680 2071.46 L681.41 2072.96 L682.82 2074.47 L684.21 2075.99 L685.59 2077.52 L686.97 2079.05 L688.34 2080.6 L689.7 2082.15 L691.05 2083.7 L692.39 2085.27 L693.73 2086.84 L695.07 2088.41 L696.39 2089.99 L697.72 2091.58 L699.03 2093.16 L700.35 2094.75 L701.66 2096.35 L702.96 2097.94 L704.27 2099.54 L705.57 2101.14 L706.87 2102.74 L708.16 2104.33 L709.46 2105.93 L710.76 2107.53 L712.05 2109.12 L713.35 2110.72 L714.64 2112.31 L715.94 2113.9 L717.24 2115.48 L718.53 2117.06 L719.84 2118.64 L721.14 2120.21 L722.45 2121.77 L723.76 2123.33 L725.07 2124.89 L726.39 2126.43 L727.72 2127.97 L729.05 2129.5 L730.38 2131.02 L731.72 2132.53 L733.07 2134.03 L734.42 2135.52 L735.79 2137.01 L737.16 2138.48 L738.53 2139.93 L739.92 2141.38 L741.32 2142.81 L742.72 2144.23 L744.14 2145.64 L745.56 2147.03 L747 2148.4 L748.44 2149.76 L749.9 2151.11 L751.37 2152.44 L752.86 2153.75 L754.35 2155.04 L755.86 2156.32 L757.39 2157.58 L758.92 2158.82 L760.48 2160.04 L762.04 2161.24 L763.62 2162.42 L765.22 2163.58 L766.83 2164.72 L768.45 2165.85 L770.08 2166.96 L771.73 2168.05 L773.38 2169.13 L775.05 2170.19 L776.74 2171.23 L778.43 2172.25 L780.13 2173.26 L781.85 2174.26 L783.57 2175.24 L785.31 2176.2 L787.05 2177.15 L788.8 2178.09 L790.57 2179.01 L792.34 2179.92 L794.12 2180.82 L795.91 2181.7 L797.71 2182.57 L799.51 2183.42 L801.32 2184.27 L803.14 2185.1 L804.97 2185.93 L806.8 2186.74 L808.63 2187.54 L810.48 2188.33 L812.33 2189.11 L814.18 2189.88 L816.04 2190.64 L817.9 2191.39 L819.77 2192.13 L821.64 2192.87 L823.52 2193.59 L825.4 2194.31 L827.28 2195.02 L829.16 2195.72 L831.05 2196.42 L832.94 2197.1 L834.83 2197.79 L836.72 2198.46 L838.62 2199.13 L840.51 2199.8 L842.41 2200.45 L844.31 2201.11 L846.21 2201.75 L848.11 2202.39 L850.01 2203.03 L851.91 2203.66 L853.82 2204.28 L855.72 2204.9 L857.63 2205.51 L859.54 2206.12 L861.45 2206.72 L863.36 2207.32 L865.27 2207.91 L867.19 2208.5 L869.1 2209.08 L871.02 2209.66 L872.93 2210.23 L874.85 2210.79 L876.77 2211.36 L878.69 2211.91 L880.61 2212.46 L882.53 2213.01 L884.46 2213.55 L886.38 2214.09 L888.31 2214.62 L890.23 2215.15 L892.16 2215.67 L894.09 2216.19 L896.02 2216.71 L897.95 2217.22 L899.88 2217.72 L901.82 2218.23 L903.75 2218.72 L905.69 2219.22 L907.62 2219.7 L909.56 2220.19 L911.5 2220.67 L913.43 2221.15 L915.37 2221.62 L917.31 2222.09 L919.26 2222.55 L921.2 2223.02 L923.14 2223.47 L925.09 2223.93 L927.03 2224.38 L928.98 2224.82 L930.92 2225.27 L932.87 2225.71 L934.82 2226.14 L936.77 2226.58 L938.72 2227.01 L940.67 2227.43 L942.62 2227.86 L944.57 2228.27 L946.52 2228.69 L948.48 2229.11 L950.43 2229.52 L952.38 2229.92 L954.34 2230.33 L956.3 2230.73 L958.25 2231.13 L960.21 2231.52 L962.17 2231.92 L964.13 2232.31 L966.09 2232.7 L968.05 2233.08 L970.01 2233.47 L971.97 2233.85 L973.93 2234.22 L975.89 2234.6 L977.85 2234.97 L979.82 2235.34 L981.78 2235.71 L983.75 2236.08 L985.71 2236.44 L987.68 2236.81 L989.64 2237.17 L991.61 2237.53 L993.57 2237.88 L995.54 2238.24 L997.51 2238.59 L999.48 2238.94 L1001.44 2239.29 L1003.41 2239.64 L1005.38 2239.98 L1007.35 2240.33 L1009.32 2240.67 L1011.29 2241.01 L1013.26 2241.35 L1015.23 2241.69 L1017.2 2242.03 L1019.18 2242.36 L1021.15 2242.7 L1023.12 2243.03 L1025.09 2243.37 L1027.06 2243.7 L1029.04 2244.03 L1031.01 2244.36 L1032.98 2244.69 L1034.96 2245.01 L1036.93 2245.34 L1038.9 2245.67 L1040.88 2245.99 L1042.85 2246.32 L1044.83 2246.64 L1046.8 2246.96 L1048.78 2247.29 L1050.75 2247.61 L1052.72 2247.93 L1054.7 2248.25 L1056.67 2248.58 L1058.65 2248.9 L1060.62 2249.22 L1062.6 2249.54 L1064.57 2249.86 L1066.55 2250.18 L1068.52 2250.5 L1070.5 2250.82 L1072.47 2251.14 L1074.45 2251.46 L1076.42 2251.78 L1078.4 2252.11 L1080.37 2252.43 L1082.35 2252.75 L1084.32 2253.07 L1086.3 2253.4 L1088.27 2253.72 L1090.25 2254.04 L1092.22 2254.37 L1094.2 2254.69 L1096.17 2255.01 L1098.15 2255.34 L1100.12 2255.66 L1102.09 2255.99 L1104.07 2256.32 L1106.04 2256.64 L1108.02 2256.97 L1109.99 2257.3 L1111.96 2257.63 L1113.94 2257.95 L1115.91 2258.28 L1117.88 2258.61 L1119.86 2258.94 L1121.83 2259.27 L1123.8 2259.6 L1125.77 2259.93 L1127.75 2260.27 L1129.72 2260.6 L1131.69 2260.93 L1133.67 2261.27 L1135.64 2261.6 L1137.61 2261.93 L1139.58 2262.27 L1141.55 2262.61 L1143.52 2262.94 L1145.5 2263.28 L1147.47 2263.62 L1149.44 2263.95 L1151.41 2264.29 L1153.38 2264.63 L1155.35 2264.97 L1157.32 2265.31 L1159.29 2265.65 L1161.26 2266 L1163.23 2266.34 L1165.2 2266.68 L1167.17 2267.03 L1169.14 2267.37 L1171.11 2267.72 L1173.08 2268.06 L1175.05 2268.41 L1177.02 2268.76 L1178.99 2269.11 L1180.96 2269.46 L1182.93 2269.81 L1184.9 2270.16 L1186.86 2270.51 L1188.83 2270.86 L1190.8 2271.21 L1192.77 2271.57 L1194.74 2271.92 L1196.7 2272.28 L1198.67 2272.63 L1200.64 2272.99 L1202.6 2273.35 L1204.57 2273.71 L1206.54 2274.07 L1208.5 2274.43 L1210.47 2274.79 L1212.44 2275.15 L1214.4 2275.52 L1216.37 2275.88 L1218.33 2276.25 L1220.3 2276.61 L1222.26 2276.98 L1224.23 2277.35 L1226.19 2277.72 L1228.15 2278.09 L1230.12 2278.46 L1232.08 2278.83 L1234.05 2279.2 L1236.01 2279.58 L1237.97 2279.95 L1239.93 2280.33 L1241.9 2280.7 L1243.86 2281.08 L1245.82 2281.46 L1247.78 2281.84 L1249.74 2282.22 L1251.71 2282.6 L1253.67 2282.99 L1255.63 2283.37 L1257.59 2283.76 L1259.55 2284.14 L1261.51 2284.53 L1263.47 2284.92 L1265.43 2285.31 L1267.39 2285.7 L1269.35 2286.09 L1271.3 2286.48 L1273.26 2286.88 L1275.22 2287.27 L1277.18 2287.67 L1279.14 2288.07 L1281.09 2288.47 L1283.05 2288.87 L1285.01 2289.27 L1286.96 2289.67 L1288.92 2290.07 L1290.88 2290.48 L1292.83 2290.88 L1294.79 2291.29 L1296.74 2291.7 L1298.7 2292.11 L1300.65 2292.52 L1302.61 2292.93 L1304.56 2293.35 L1306.51 2293.76 L1308.47 2294.18 L1310.42 2294.6 L1312.37 2295.02 L1314.32 2295.44 L1316.28 2295.86 L1318.23 2296.28 L1320.18 2296.71 L1322.13 2297.13 L1324.08 2297.56 L1326.03 2297.99 L1327.98 2298.42 L1329.93 2298.85 L1331.88 2299.28 L1333.83 2299.71 L1335.78 2300.15 L1337.73 2300.58 L1339.68 2301.02 L1341.63 2301.46 L1343.57 2301.9 L1345.52 2302.34 L1347.47 2302.78 L1349.42 2303.22 L1351.36 2303.67 L1353.31 2304.11 L1355.26 2304.56 L1357.2 2305 L1359.15 2305.45 L1361.1 2305.9 L1363.04 2306.35 L1364.99 2306.8 L1366.93 2307.26 L1368.88 2307.71 L1370.82 2308.17 L1372.76 2308.62 L1374.71 2309.08 L1376.65 2309.54 L1378.59 2310 L1380.54 2310.46 L1382.48 2310.92 L1384.42 2311.38 L1386.37 2311.84 L1388.31 2312.31 L1390.25 2312.77 L1392.19 2313.24 L1394.13 2313.71 L1396.08 2314.17 L1398.02 2314.64 L1399.96 2315.11 L1401.9 2315.58 L1403.84 2316.06 L1405.78 2316.53 L1407.72 2317 L1409.66 2317.48 L1411.6 2317.95 L1413.54 2318.43 L1415.48 2318.91 L1417.42 2319.38 L1419.36 2319.86 L1421.29 2320.34 L1423.23 2320.82 L1425.17 2321.31 L1427.11 2321.79 L1429.05 2322.27 L1430.99 2322.76 L1432.92 2323.24 L1434.86 2323.73 L1436.8 2324.21 L1438.73 2324.7 L1440.67 2325.19 L1442.61 2325.67 L1444.55 2326.16 L1446.48 2326.65 L1448.42 2327.14 L1450.35 2327.64 L1452.29 2328.13 L1454.23 2328.62 L1456.16 2329.11 L1458.1 2329.61 L1460.03 2330.1 L1461.97 2330.6 L1463.9 2331.1 L1465.84 2331.59 L1467.77 2332.09 L1469.71 2332.59 L1471.64 2333.09 L1473.58 2333.59 L1475.51 2334.09 L1477.45 2334.59 L1479.38 2335.09 L1481.31 2335.59 L1483.25 2336.09 L1485.18 2336.6 L1487.11 2337.1 L1489.05 2337.6 L1490.98 2338.11 L1492.91 2338.61 L1494.85 2339.12 L1496.78 2339.62 L1498.71 2340.13 L1500.65 2340.64 L1502.58 2341.14 L1504.51 2341.65 L1506.44 2342.16 L1508.38 2342.67 L1510.31 2343.18 L1512.24 2343.69 L1514.17 2344.2 L1516.11 2344.71 L1518.04 2345.22 L1519.97 2345.73 L1521.9 2346.24 L1523.83 2346.76 L1525.77 2347.27 L1527.7 2347.78 L1529.63 2348.3 L1531.56 2348.81 L1533.49 2349.32 L1535.42 2349.84 L1537.35 2350.35 L1539.29 2350.87 L1541.22 2351.38 L1543.15 2351.9 L1545.08 2352.41 L1547.01 2352.93 L1548.94 2353.45 L1550.87 2353.96 L1552.8 2354.48 L1554.73 2355 L1556.66 2355.51 L1558.6 2356.03 L1560.53 2356.55 L1562.46 2357.07 L1564.39 2357.59 L1566.32 2358.11 L1568.25 2358.62 L1570.18 2359.14 L1572.11 2359.66 L1574.04 2360.18 L1575.97 2360.7 L1577.9 2361.22 L1579.83 2361.74 L1581.76 2362.26 L1583.69 2362.78 L1585.62 2363.3 L1587.55 2363.82 L1589.49 2364.34 L1591.42 2364.86 L1593.35 2365.38 L1595.28 2365.9 L1597.21 2366.42 L1599.14 2366.94 L1601.07 2367.46 L1603 2367.98 L1604.93 2368.5 L1606.86 2369.02 L1608.79 2369.55 L1610.72 2370.07 L1612.65 2370.59 L1614.58 2371.11 L1616.51 2371.63 L1618.44 2372.15 L1620.38 2372.67 L1622.31 2373.19 L1624.24 2373.71 L1626.17 2374.23 L1628.1 2374.75 L1630.03 2375.27 L1631.96 2375.79 L1633.89 2376.31 L1635.82 2376.83 L1637.75 2377.35 L1639.69 2377.87 L1641.62 2378.39 L1643.55 2378.91 L1645.48 2379.43 L1647.41 2379.95 L1649.34 2380.47 L1651.27 2380.98 L1653.21 2381.5 L1655.14 2382.02 L1657.07 2382.54 L1659 2383.06 L1660.93 2383.57 L1662.86 2384.09 L1664.8 2384.61 L1666.73 2385.13 L1668.66 2385.64 L1670.59 2386.16 L1672.52 2386.68 L1674.46 2387.19 L1676.39 2387.71 L1678.32 2388.22 L1680.25 2388.74 L1682.19 2389.26 L1684.12 2389.77 L1686.05 2390.29 L1687.99 2390.8 L1689.92 2391.31 L1691.85 2391.83 L1693.78 2392.34 L1695.72 2392.86 L1697.65 2393.37 L1699.58 2393.88 L1701.52 2394.39 L1703.45 2394.91 L1705.38 2395.42 L1707.32 2395.93 L1709.25 2396.44 L1711.19 2396.95 L1713.12 2397.46 L1715.05 2397.97 L1716.99 2398.48 L1718.92 2398.99 L1720.86 2399.5 L1722.79 2400.01 L1724.72 2400.52 L1726.66 2401.02 L1728.59 2401.53 L1730.53 2402.04 L1732.46 2402.55 L1734.4 2403.05 L1736.33 2403.56 L1738.27 2404.06 L1740.2 2404.57 L1742.14 2405.07 L1744.07 2405.58 L1746.01 2406.08 L1747.95 2406.58 L1749.88 2407.09 L1751.82 2407.59 L1753.75 2408.09 L1755.69 2408.59 L1757.63 2409.09 L1759.56 2409.59 L1761.5 2410.09 L1763.43 2410.59 L1765.37 2411.09 L1767.31 2411.59 L1769.24 2412.09 L1771.18 2412.59 L1773.12 2413.08 L1775.06 2413.58 L1776.99 2414.07 L1778.93 2414.57 L1780.87 2415.06 L1782.81 2415.56 L1784.74 2416.05 L1786.68 2416.55 L1788.62 2417.04 L1790.56 2417.53 L1792.5 2418.02 L1794.44 2418.51 L1796.37 2419 L1798.31 2419.49 L1800.25 2419.98 L1802.19 2420.47 L1804.13 2420.96 L1806.07 2421.44 L1808.01 2421.93 L1809.95 2422.42 L1811.89 2422.9 L1813.83 2423.39 L1815.77 2423.87 L1817.71 2424.35 L1819.65 2424.84 L1821.59 2425.32 L1823.53 2425.8 L1825.47 2426.28 L1827.41 2426.76 L1829.35 2427.24 L1831.29 2427.72 L1833.23 2428.2 L1835.17 2428.67 L1837.12 2429.15 L1839.06 2429.62 L1841 2430.1 L1842.94 2430.57 L1844.88 2431.05 L1846.83 2431.52 L1848.77 2431.99 L1850.71 2432.46 L1852.65 2432.93 L1854.6 2433.4 L1856.54 2433.87 L1858.48 2434.34 L1860.43 2434.81 L1862.37 2435.27 L1864.31 2435.74 L1866.26 2436.21 L1868.2 2436.67 L1870.15 2437.13 L1872.09 2437.6 L1874.03 2438.06 L1875.98 2438.52 L1877.92 2438.98 L1879.87 2439.44 L1881.81 2439.9 L1883.76 2440.35 L1885.71 2440.81 L1887.65 2441.27 L1889.6 2441.72 L1891.54 2442.18 L1893.49 2442.63 L1895.44 2443.08 L1897.38 2443.53 L1899.33 2443.98 L1901.28 2444.43 L1903.22 2444.88 L1905.17 2445.33 L1907.12 2445.78 L1909.07 2446.22 L1911.01 2446.67 L1912.96 2447.11 L1914.91 2447.56 L1916.86 2448 L1918.81 2448.44 L1920.76 2448.88 L1922.71 2449.32 L1924.65 2449.76 L1926.6 2450.2 L1928.55 2450.63 L1930.5 2451.07 L1932.45 2451.5 L1934.4 2451.94 L1936.35 2452.37 L1938.3 2452.8 L1940.26 2453.23 L1942.21 2453.66 L1944.16 2454.09 L1946.11 2454.52 L1948.06 2454.94 L1950.01 2455.37 L1951.96 2455.79 L1953.92 2456.22 L1955.87 2456.64 L1957.82 2457.06 L1959.77 2457.48 L1961.73 2457.9 L1963.68 2458.32 L1965.63 2458.73 L1967.59 2459.15 L1969.54 2459.56 L1971.5 2459.98 L1973.45 2460.39 L1975.41 2460.8 L1977.36 2461.21 L1979.32 2461.62 L1981.27 2462.03 L1983.23 2462.43 L1985.18 2462.84 L1987.14 2463.24 L1989.09 2463.65 L1991.05 2464.05 L1993.01 2464.45 L1994.96 2464.85 L1996.92 2465.25 L1998.88 2465.65 L2000.84 2466.04 L2002.79 2466.44 L2004.75 2466.83 L2006.71 2467.22 L2008.67 2467.62 L2010.63 2468.01 L2012.59 2468.4 L2014.54 2468.78 L2016.5 2469.17 L2018.46 2469.55 L2020.42 2469.94 L2022.38 2470.32 L2024.34 2470.7 L2026.3 2471.08 L2028.26 2471.46 L2030.23 2471.84 L2032.19 2472.22 L2034.15 2472.59 L2036.11 2472.97 L2038.07 2473.34 L2040.03 2473.71 L2042 2474.08 L2043.96 2474.45 L2045.92 2474.81 L2047.89 2475.18 L2049.85 2475.55 L2051.81 2475.91 L2053.78 2476.27 L2055.74 2476.63 L2057.71 2476.99 L2059.67 2477.35 L2061.64 2477.7 L2063.6 2478.06 L2065.57 2478.41 L2067.53 2478.77 L2069.5 2479.12 L2071.47 2479.47 L2073.43 2479.81 L2075.4 2480.16 L2077.37 2480.51 L2079.33 2480.85 L2081.3 2481.19 L2083.27 2481.53 L2085.24 2481.87 L2087.21 2482.21 L2089.18 2482.55 L2091.14 2482.88 L2093.11 2483.22 L2095.08 2483.55 L2097.05 2483.88 L2099.02 2484.21 L2100.99 2484.54 L2102.97 2484.86 L2104.94 2485.19 L2106.91 2485.51 L2108.88 2485.83 L2110.85 2486.16 L2112.82 2486.47 L2114.8 2486.79 L2116.77 2487.11 L2118.74 2487.42 L2120.71 2487.73 L2122.69 2488.05 L2124.66 2488.35 L2126.64 2488.66 L2128.61 2488.97 L2130.59 2489.27 L2132.56 2489.58 L2134.54 2489.88 L2136.51 2490.18 L2138.49 2490.48 L2140.46 2490.78 L2142.44 2491.07 L2144.42 2491.37 L2146.39 2491.66 L2148.37 2491.95 L2150.35 2492.24 L2152.33 2492.53 L2154.3 2492.82 L2156.28 2493.1 L2158.26 2493.39 L2160.24 2493.67 L2162.22 2493.95 L2164.2 2494.23 L2166.18 2494.51 L2168.16 2494.79 L2170.14 2495.07 L2172.12 2495.34 L2174.1 2495.61 L2176.08 2495.89 L2178.06 2496.16 L2180.04 2496.43 L2182.02 2496.7 L2184 2496.96 L2185.98 2497.23 L2187.97 2497.49 L2189.95 2497.76 L2191.93 2498.02 L2193.91 2498.28 L2195.9 2498.54 L2197.88 2498.8 L2199.86 2499.06 L2201.85 2499.31 L2203.83 2499.57 L2205.81 2499.82 L2207.8 2500.08 L2209.78 2500.33 L2211.76 2500.58 L2213.75 2500.83 L2215.73 2501.08 L2217.72 2501.33 L2219.7 2501.57 L2221.69 2501.82 L2223.67 2502.06 L2225.66 2502.31 L2227.64 2502.55 L2229.63 2502.79 L2231.61 2503.03 L2233.6 2503.27 L2235.58 2503.51 L2237.57 2503.75 L2239.56 2503.99 L2241.54 2504.22 L2243.53 2504.46 L2245.52 2504.69 L2247.5 2504.92 L2249.49 2505.16 L2251.48 2505.39 L2253.46 2505.62 L2255.45 2505.85 L2257.44 2506.08 L2259.42 2506.3 L2261.41 2506.53 L2263.4 2506.76 L2265.39 2506.98 L2267.37 2507.21 L2269.36 2507.43 L2271.35 2507.66 L2273.34 2507.88 L2275.33 2508.1 L2277.31 2508.32 L2279.3 2508.54 L2281.29 2508.76 L2283.28 2508.98 L2285.27 2509.2 L2287.25 2509.42 L2289.24 2509.63 L2291.23 2509.85 L2293.22 2510.07 L2295.21 2510.28 L2297.2 2510.5 L2299.18 2510.71 L2301.17 2510.92 L2303.16 2511.14 L2305.15 2511.35 L2307.14 2511.56 L2309.13 2511.77 L2311.12 2511.98 L2313.1 2512.19 L2315.09 2512.4 L2317.08 2512.61 L2319.07 2512.82 L2321.06 2513.03 L2323.05 2513.24 L2325.04 2513.44 L2327.03 2513.65 L2329.01 2513.86 L2331 2514.06 L2332.99 2514.27 L2334.98 2514.47 L2336.97 2514.68 L2338.96 2514.88 L2340.95 2515.09 L2342.93 2515.29 L2344.92 2515.49 L2346.91 2515.7 L2348.9 2515.9 L2350.89 2516.1 L2352.88 2516.3 L2354.87 2516.5 L2356.85 2516.71 L2358.84 2516.91 L2360.83 2517.11 L2362.82 2517.31 L2364.81 2517.51 L2366.79 2517.71 L2368.78 2517.91 L2370.77 2518.11 L2372.76 2518.31 L2374.75 2518.51 L2376.73 2518.71 L2378.72 2518.91 L2380.71 2519.11 L2382.7 2519.3 L2384.68 2519.5 L2386.67 2519.7 L2388.66 2519.9 L2390.64 2520.1 L2392.63 2520.3 L2394.62 2520.5 L2396.61 2520.69 L2398.59 2520.89 L2400.58 2521.09 L2402.56 2521.29 L2404.55 2521.49 L2406.54 2521.69 L2408.52 2521.88 L2410.51 2522.08 L2412.49 2522.28 L2414.48 2522.48" stroke="#0072BD" stroke-width="7"/>
<path d="M216.19 2037.2 L217.23 2036.86 L218.25 2036.51 L219.27 2036.16 L220.28 2035.8 L221.29 2035.43 L222.28 2035.06 L223.28 2034.68 L224.26 2034.29 L225.24 2033.89 L226.21 2033.49 L227.18 2033.08 L228.13 2032.66 L229.09 2032.23 L230.03 2031.8 L230.97 2031.37 L231.91 2030.92 L232.83 2030.47 L233.76 2030.01 L234.67 2029.54 L235.58 2029.07 L236.48 2028.59 L237.38 2028.11 L238.27 2027.62 L239.15 2027.12 L240.03 2026.62 L240.91 2026.11 L241.77 2025.59 L242.63 2025.07 L243.49 2024.54 L244.34 2024 L245.18 2023.46 L246.02 2022.91 L246.85 2022.36 L247.68 2021.8 L247.92 2021.63" stroke="#D95319" stroke-width="7" stroke-dasharray="25 23" stroke-dashoffset="47.47"/>
<path d="M247.92 2021.63 L248.5 2021.24 L249.31 2020.66 L250.12 2020.09 L250.93 2019.51 L251.73 2018.92 L252.52 2018.32 L253.31 2017.72 L254.09 2017.12 L254.87 2016.51 L255.64 2015.89 L256.41 2015.27 L257.17 2014.65 L257.93 2014.01 L258.68 2013.38 L259.42 2012.74 L260.17 2012.09 L260.9 2011.44 L261.63 2010.78 L262.36 2010.12 L263.08 2009.45 L263.8 2008.78 L264.51 2008.1 L265.21 2007.42 L265.92 2006.73 L266.61 2006.04 L267.31 2005.35 L267.99 2004.65 L268.68 2003.94 L269.35 2003.23 L270.03 2002.52 L270.7 2001.8 L271.36 2001.08 L272.02 2000.35 L272.68 1999.62 L273.33 1998.88 L273.98 1998.14 L274.62 1997.4 L275.26 1996.65 L275.89 1995.9 L276.52 1995.15 L277.15 1994.39 L277.77 1993.62 L278.39 1992.86 L279 1992.09 L279.61 1991.31 L280.22 1990.53 L280.82 1989.75 L281.33 1989.08" stroke="#D95319" stroke-width="7" stroke-dasharray="25 23" stroke-dashoffset="36.5"/>
<path d="M281.33 1989.08 L281.42 1988.97 L282.01 1988.18 L282.6 1987.38 L283.18 1986.59 L283.77 1985.79 L284.35 1984.99 L284.92 1984.18 L285.49 1983.37 L286.06 1982.56 L286.62 1981.75 L287.18 1980.93 L287.74 1980.11 L288.29 1979.28 L288.84 1978.46 L289.39 1977.63 L289.93 1976.79 L290.47 1975.96 L291.01 1975.12 L291.54 1974.28 L292.07 1973.44 L292.59 1972.59 L293.12 1971.74 L293.64 1970.89 L294.15 1970.04 L294.67 1969.18 L295.18 1968.32 L295.69 1967.46 L296.19 1966.6 L296.69 1965.73 L297.19 1964.87 L297.69 1964 L298.18 1963.13 L298.67 1962.25 L299.16 1961.38 L299.64 1960.5 L300.13 1959.62 L300.61 1958.74 L301.08 1957.86 L301.56 1956.98 L302.03 1956.09 L302.5 1955.21 L302.97 1954.32 L303.43 1953.43 L303.89 1952.54 L304.35 1951.64 L304.81 1950.75 L305.26 1949.85 L305.72 1948.96 L305.87 1948.64" stroke="#D95319" stroke-width="7" stroke-dasharray="25 23" stroke-dashoffset="36.5"/>
<path d="M305.87 1948.64 L306.17 1948.06 L306.61 1947.16 L307.06 1946.26 L307.51 1945.36 L307.95 1944.46 L308.39 1943.55 L308.82 1942.65 L309.26 1941.75 L309.69 1940.84 L310.13 1939.93 L310.56 1939.03 L310.99 1938.12 L311.41 1937.21 L311.84 1936.3 L312.26 1935.39 L312.68 1934.48 L313.1 1933.57 L313.52 1932.66 L313.93 1931.75 L314.35 1930.84 L314.76 1929.92 L315.17 1929.01 L315.58 1928.1 L315.99 1927.18 L316.39 1926.27 L316.8 1925.35 L317.2 1924.44 L317.6 1923.52 L318 1922.6 L318.4 1921.69 L318.8 1920.77 L319.19 1919.85 L319.58 1918.93 L319.98 1918.01 L320.37 1917.09 L320.75 1916.17 L321.14 1915.25 L321.53 1914.33 L321.91 1913.4 L322.29 1912.48 L322.67 1911.56 L323.05 1910.64 L323.43 1909.71 L323.81 1908.79 L324.17 1907.9" stroke="#D95319" stroke-width="7" stroke-dasharray="25 23" stroke-dashoffset="36.5"/>
<path d="M324.17 1907.9 L324.18 1907.86 L324.56 1906.94 L324.93 1906.01 L325.3 1905.08 L325.67 1904.16 L326.04 1903.23 L326.41 1902.3 L326.77 1901.37 L327.14 1900.45 L327.5 1899.52 L327.86 1898.59 L328.22 1897.66 L328.58 1896.73 L328.94 1895.8 L329.3 1894.87 L329.65 1893.93 L330.01 1893 L330.36 1892.07 L330.71 1891.14 L331.06 1890.2 L331.41 1889.27 L331.76 1888.34 L332.11 1887.4 L332.45 1886.47 L332.8 1885.53 L333.14 1884.59 L333.49 1883.66 L333.83 1882.72 L334.17 1881.79 L334.51 1880.85 L334.84 1879.91 L335.18 1878.97 L335.52 1878.03 L335.85 1877.1 L336.19 1876.16 L336.52 1875.22 L336.85 1874.28 L337.18 1873.34 L337.51 1872.4 L337.84 1871.46 L338.17 1870.51 L338.5 1869.57 L338.82 1868.63 L339.15 1867.69 L339.47 1866.75 L339.8 1865.8 L340.12 1864.86 L340.44 1863.92 L340.76 1862.97 L340.86 1862.69" stroke="#D95319" stroke-width="7" stroke-dasharray="25 23" stroke-dashoffset="36.5"/>
<path d="M340.86 1862.69 L341.08 1862.03 L341.4 1861.08 L341.72 1860.14 L342.04 1859.19 L342.36 1858.25 L342.67 1857.3 L342.99 1856.36 L343.3 1855.41 L343.62 1854.46 L343.93 1853.52 L344.24 1852.57 L344.55 1851.62 L344.86 1850.67 L345.17 1849.73 L345.48 1848.78 L345.79 1847.83 L346.1 1846.88 L346.41 1845.93 L346.71 1844.98 L347.02 1844.03 L347.33 1843.08 L347.63 1842.13 L347.94 1841.18 L348.24 1840.23 L348.54 1839.28 L348.85 1838.33 L349.15 1837.38 L349.45 1836.43 L349.75 1835.47 L350.05 1834.52 L350.35 1833.57 L350.65 1832.62 L350.95 1831.66 L351.25 1830.71 L351.55 1829.76 L351.84 1828.81 L352.14 1827.85 L352.44 1826.9 L352.74 1825.94 L353.03 1824.99 L353.33 1824.04 L353.62 1823.08 L353.92 1822.13 L354.21 1821.17 L354.51 1820.22 L354.8 1819.26 L355.1 1818.31 L355.39 1817.35 L355.69 1816.4 L355.9 1815.72" stroke="#D95319" stroke-width="7" stroke-dasharray="25 23" stroke-dashoffset="36.5"/>
<path d="M355.9 1815.72 L355.98 1815.44 L356.28 1814.49 L356.57 1813.53 L356.87 1812.58 L357.16 1811.62 L357.46 1810.67 L357.75 1809.71 L358.05 1808.76 L358.35 1807.8 L358.64 1806.85 L358.94 1805.89 L359.24 1804.94 L359.54 1803.98 L359.83 1803.03 L360.13 1802.08 L360.43 1801.12 L360.73 1800.17 L361.04 1799.22 L361.34 1798.26 L361.64 1797.31 L361.94 1796.36 L362.25 1795.4 L362.55 1794.45 L362.86 1793.5 L363.17 1792.55 L363.48 1791.6 L363.79 1790.65 L364.1 1789.7 L364.41 1788.75 L364.72 1787.8 L365.03 1786.85 L365.35 1785.9 L365.67 1784.95 L365.98 1784 L366.3 1783.05 L366.62 1782.11 L366.95 1781.16 L367.27 1780.21 L367.59 1779.27 L367.92 1778.32 L368.25 1777.38 L368.58 1776.44 L368.91 1775.49 L369.24 1774.55 L369.58 1773.61 L369.91 1772.67 L370.25 1771.73 L370.59 1770.79 L370.94 1769.85 L371.28 1768.91 L371.38 1768.63" stroke="#D95319" stroke-width="7" stroke-dasharray="25 23" stroke-dashoffset="36.5"/>
<path d="M371.38 1768.63 L371.63 1767.97 L371.97 1767.03 L372.32 1766.09 L372.68 1765.16 L373.03 1764.22 L373.39 1763.29 L373.75 1762.36 L374.11 1761.42 L374.47 1760.49 L374.84 1759.56 L375.21 1758.63 L375.58 1757.7 L375.95 1756.77 L376.32 1755.84 L376.7 1754.92 L377.08 1753.99 L377.47 1753.06 L377.85 1752.14 L378.24 1751.22 L378.63 1750.3 L379.03 1749.37 L379.42 1748.45 L379.82 1747.53 L380.23 1746.62 L380.63 1745.7 L381.04 1744.78 L381.45 1743.87 L381.87 1742.95 L382.28 1742.04 L382.7 1741.13 L383.13 1740.22 L383.56 1739.31 L383.99 1738.4 L384.42 1737.5 L384.86 1736.59 L385.3 1735.68 L385.74 1734.78 L386.19 1733.88 L386.64 1732.98 L387.09 1732.08 L387.55 1731.18 L388.01 1730.28 L388.48 1729.39 L388.94 1728.49 L389.42 1727.6 L389.89 1726.71 L389.93 1726.64" stroke="#D95319" stroke-width="7" stroke-dasharray="25 23" stroke-dashoffset="36.5"/>
<path d="M389.93 1726.64 L390.37 1725.82 L390.86 1724.93 L391.34 1724.04 L391.83 1723.15 L392.33 1722.27 L392.83 1721.39 L393.33 1720.5 L393.84 1719.62 L394.35 1718.74 L394.87 1717.87 L395.39 1716.99 L395.91 1716.12 L396.44 1715.24 L396.97 1714.37 L397.51 1713.5 L398.05 1712.63 L398.59 1711.77 L399.14 1710.91 L399.7 1710.04 L400.25 1709.18 L400.82 1708.33 L401.38 1707.47 L401.95 1706.62 L402.53 1705.77 L403.11 1704.93 L403.69 1704.08 L404.28 1703.24 L404.88 1702.41 L405.47 1701.57 L406.08 1700.74 L406.68 1699.92 L407.29 1699.1 L407.91 1698.28 L408.53 1697.46 L409.15 1696.65 L409.78 1695.85 L410.41 1695.04 L411.05 1694.25 L411.69 1693.45 L412.34 1692.66 L412.99 1691.88 L413.64 1691.1 L414.3 1690.33 L414.97 1689.56 L415.64 1688.79 L415.93 1688.46" stroke="#D95319" stroke-width="7" stroke-dasharray="25 23" stroke-dashoffset="36.5"/>
<path d="M415.93 1688.46 L416.31 1688.03 L416.99 1687.28 L417.67 1686.53 L418.36 1685.79 L419.05 1685.05 L419.74 1684.32 L420.44 1683.6 L421.15 1682.88 L421.86 1682.17 L422.57 1681.46 L423.29 1680.76 L424.02 1680.07 L424.74 1679.39 L425.48 1678.71 L426.21 1678.04 L426.96 1677.37 L427.7 1676.71 L428.46 1676.06 L429.21 1675.42 L429.97 1674.78 L430.74 1674.15 L431.51 1673.53 L432.28 1672.92 L433.06 1672.32 L433.85 1671.72 L434.64 1671.13 L435.43 1670.55 L436.23 1669.98 L437.03 1669.42 L437.84 1668.86 L438.65 1668.32 L439.47 1667.78 L440.29 1667.25 L441.12 1666.73 L441.95 1666.22 L442.79 1665.72 L443.63 1665.23 L444.48 1664.75 L445.33 1664.28 L446.19 1663.82 L447.05 1663.37 L447.91 1662.92 L448.78 1662.49 L449.65 1662.07 L450.53 1661.65 L451.41 1661.25 L452.11 1660.94" stroke="#D95319" stroke-width="7" stroke-dasharray="25 23" stroke-dashoffset="36.5"/>
<path d="M452.11 1660.94 L452.29 1660.86 L453.18 1660.47 L454.07 1660.1 L454.97 1659.73 L455.87 1659.38 L456.77 1659.04 L457.67 1658.7 L458.58 1658.38 L459.49 1658.07 L460.41 1657.76 L461.33 1657.47 L462.25 1657.19 L463.17 1656.92 L464.09 1656.66 L465.02 1656.41 L465.95 1656.17 L466.88 1655.94 L467.82 1655.72 L468.75 1655.51 L469.69 1655.31 L470.63 1655.13 L471.57 1654.95 L472.52 1654.79 L473.46 1654.63 L474.41 1654.49 L475.36 1654.36 L476.31 1654.23 L477.26 1654.12 L478.21 1654.03 L479.16 1653.94 L480.11 1653.86 L481.07 1653.8 L482.02 1653.74 L482.98 1653.7 L483.93 1653.67 L484.89 1653.65 L485.85 1653.64 L486.8 1653.64 L487.76 1653.66 L488.71 1653.68 L489.67 1653.72 L490.63 1653.77 L491.59 1653.83 L492.54 1653.9 L493.5 1653.98 L494.45 1654.07 L495.41 1654.17 L496.37 1654.29 L497.32 1654.41 L498.28 1654.54 L498.76 1654.62" stroke="#D95319" stroke-width="7" stroke-dasharray="25 23" stroke-dashoffset="36.5"/>
<path d="M498.76 1654.62 L499.23 1654.69 L500.19 1654.84 L501.14 1655.01 L502.09 1655.18 L503.05 1655.36 L504 1655.56 L504.95 1655.76 L505.9 1655.98 L506.85 1656.2 L507.8 1656.43 L508.74 1656.67 L509.69 1656.93 L510.64 1657.19 L511.58 1657.46 L512.52 1657.74 L513.47 1658.02 L514.41 1658.32 L515.35 1658.63 L516.29 1658.94 L517.22 1659.26 L518.16 1659.6 L519.09 1659.94 L520.02 1660.29 L520.96 1660.64 L521.89 1661.01 L522.81 1661.38 L523.74 1661.76 L524.66 1662.15 L525.59 1662.55 L526.51 1662.95 L527.43 1663.37 L528.34 1663.79 L529.26 1664.21 L530.17 1664.65 L531.08 1665.09 L531.99 1665.54 L532.89 1666 L533.8 1666.46 L534.7 1666.93 L535.6 1667.41 L536.5 1667.9 L537.39 1668.39 L538.28 1668.88 L539.17 1669.39 L540.06 1669.9 L540.94 1670.42 L541.83 1670.94 L542.69 1671.46" stroke="#D95319" stroke-width="7" stroke-dasharray="25 23" stroke-dashoffset="36.5"/>
<path d="M542.69 1671.46 L542.7 1671.47 L543.58 1672.01 L544.45 1672.55 L545.32 1673.1 L546.19 1673.65 L547.05 1674.21 L547.92 1674.77 L548.77 1675.35 L549.63 1675.92 L550.48 1676.5 L551.33 1677.09 L552.18 1677.68 L553.02 1678.28 L553.86 1678.88 L554.69 1679.49 L555.52 1680.1 L556.35 1680.72 L557.18 1681.34 L558 1681.97 L558.81 1682.6 L559.63 1683.23 L560.44 1683.87 L561.24 1684.52 L562.04 1685.16 L562.84 1685.82 L563.64 1686.47 L564.43 1687.13 L565.21 1687.8 L566 1688.47 L566.77 1689.14 L567.55 1689.81 L568.32 1690.49 L569.08 1691.17 L569.84 1691.86 L570.6 1692.55 L571.35 1693.24 L572.1 1693.93 L572.84 1694.63 L573.58 1695.33 L574.31 1696.04 L575.04 1696.74 L575.77 1697.45 L576.49 1698.17 L577.21 1698.88 L577.92 1699.6 L578.63 1700.32 L579.34 1701.05 L580.04 1701.78 L580.07 1701.81" stroke="#D95319" stroke-width="7" stroke-dasharray="25 23" stroke-dashoffset="36.5"/>
<path d="M580.07 1701.81 L580.74 1702.51 L581.43 1703.24 L582.12 1703.98 L582.81 1704.72 L583.49 1705.46 L584.16 1706.21 L584.84 1706.96 L585.51 1707.71 L586.17 1708.46 L586.84 1709.22 L587.5 1709.97 L588.15 1710.74 L588.8 1711.5 L589.45 1712.27 L590.09 1713.04 L590.73 1713.81 L591.37 1714.58 L592 1715.36 L592.63 1716.14 L593.26 1716.92 L593.88 1717.7 L594.5 1718.49 L595.12 1719.28 L595.73 1720.07 L596.34 1720.86 L596.94 1721.66 L597.55 1722.46 L598.14 1723.26 L598.74 1724.06 L599.33 1724.86 L599.92 1725.67 L600.51 1726.48 L601.09 1727.29 L601.67 1728.1 L602.25 1728.92 L602.82 1729.74 L603.39 1730.56 L603.96 1731.38 L604.53 1732.2 L605.09 1733.03 L605.65 1733.85 L606.2 1734.68 L606.76 1735.51 L607.31 1736.35 L607.85 1737.18 L608.4 1738.02 L608.94 1738.86 L609.48 1739.7 L609.48 1739.7" stroke="#D95319" stroke-width="7" stroke-dasharray="25 23" stroke-dashoffset="36.5"/>
<path d="M609.48 1739.7 L610.01 1740.54 L610.55 1741.38 L611.08 1742.23 L611.61 1743.08 L612.13 1743.93 L612.66 1744.78 L613.18 1745.63 L613.7 1746.48 L614.21 1747.34 L614.72 1748.19 L615.24 1749.05 L615.74 1749.91 L616.25 1750.77 L616.75 1751.64 L617.26 1752.5 L617.75 1753.37 L618.25 1754.23 L618.75 1755.1 L619.24 1755.97 L619.73 1756.84 L620.22 1757.71 L620.7 1758.59 L621.19 1759.46 L621.67 1760.34 L622.15 1761.21 L622.62 1762.09 L623.1 1762.97 L623.57 1763.85 L624.05 1764.73 L624.52 1765.62 L624.98 1766.5 L625.45 1767.39 L625.91 1768.27 L626.38 1769.16 L626.84 1770.05 L627.3 1770.93 L627.75 1771.82 L628.21 1772.71 L628.66 1773.6 L629.11 1774.5 L629.56 1775.39 L630.01 1776.28 L630.46 1777.18 L630.91 1778.07 L631.35 1778.97 L631.79 1779.86 L632.24 1780.76 L632.68 1781.66 L633.11 1782.56 L633.55 1783.46 L633.66 1783.68" stroke="#D95319" stroke-width="7" stroke-dasharray="25 23" stroke-dashoffset="36.5"/>
<path d="M633.66 1783.68 L633.99 1784.36 L634.42 1785.26 L634.86 1786.16 L635.29 1787.06 L635.72 1787.96 L636.15 1788.86 L636.58 1789.76 L637 1790.67 L637.43 1791.57 L637.86 1792.47 L638.28 1793.38 L638.7 1794.28 L639.13 1795.19 L639.55 1796.09 L639.97 1797 L640.38 1797.9 L640.8 1798.81 L641.22 1799.71 L641.64 1800.62 L642.05 1801.53 L642.46 1802.44 L642.88 1803.34 L643.29 1804.25 L643.7 1805.16 L644.11 1806.07 L644.52 1806.98 L644.93 1807.88 L645.34 1808.79 L645.74 1809.7 L646.15 1810.61 L646.55 1811.52 L646.96 1812.43 L647.36 1813.34 L647.76 1814.26 L648.17 1815.17 L648.57 1816.08 L648.97 1816.99 L649.37 1817.9 L649.76 1818.81 L650.16 1819.73 L650.56 1820.64 L650.96 1821.55 L651.35 1822.46 L651.75 1823.38 L652.14 1824.29 L652.53 1825.2 L652.6 1825.35" stroke="#D95319" stroke-width="7" stroke-dasharray="25 23" stroke-dashoffset="36.5"/>
<path d="M652.6 1825.35 L652.93 1826.12 L653.32 1827.03 L653.71 1827.95 L654.1 1828.86 L654.49 1829.78 L654.88 1830.69 L655.27 1831.61 L655.66 1832.52 L656.05 1833.44 L656.43 1834.35 L656.82 1835.27 L657.21 1836.19 L657.59 1837.1 L657.98 1838.02 L658.36 1838.94 L658.75 1839.85 L659.13 1840.77 L659.51 1841.69 L659.9 1842.6 L660.28 1843.52 L660.66 1844.44 L661.04 1845.36 L661.42 1846.28 L661.8 1847.19 L662.18 1848.11 L662.56 1849.03 L662.94 1849.95 L663.32 1850.87 L663.7 1851.79 L664.08 1852.7 L664.46 1853.62 L664.83 1854.54 L665.21 1855.46 L665.59 1856.38 L665.96 1857.3 L666.34 1858.22 L666.72 1859.14 L667.09 1860.06 L667.47 1860.98 L667.84 1861.9 L668.22 1862.82 L668.59 1863.74 L668.97 1864.66 L669.34 1865.58 L669.72 1866.5 L669.78 1866.65" stroke="#D95319" stroke-width="7" stroke-dasharray="25 23" stroke-dashoffset="36.5"/>
<path d="M669.78 1866.65 L670.09 1867.42 L670.47 1868.34 L670.84 1869.26 L671.21 1870.18 L671.59 1871.1 L671.96 1872.02 L672.33 1872.94 L672.71 1873.86 L673.08 1874.78 L673.45 1875.71 L673.83 1876.63 L674.2 1877.55 L674.57 1878.47 L674.94 1879.39 L675.32 1880.31 L675.69 1881.23 L676.06 1882.15 L676.44 1883.07 L676.81 1883.99 L677.18 1884.91 L677.55 1885.83 L677.93 1886.76 L678.3 1887.68 L678.67 1888.6 L679.05 1889.52 L679.42 1890.44 L679.79 1891.36 L680.17 1892.28 L680.54 1893.2 L680.92 1894.12 L681.29 1895.04 L681.66 1895.96 L682.04 1896.88 L682.41 1897.8 L682.79 1898.72 L683.16 1899.64 L683.54 1900.56 L683.91 1901.48 L684.29 1902.4 L684.67 1903.33 L685.04 1904.25 L685.42 1905.16 L685.79 1906.08 L686.17 1907 L686.55 1907.92 L686.93 1908.84 L687.31 1909.76 L687.68 1910.68 L688.06 1911.6 L688.19 1911.91" stroke="#D95319" stroke-width="7" stroke-dasharray="25 23" stroke-dashoffset="36.5"/>
<path d="M688.19 1911.91 L688.44 1912.52 L688.82 1913.44 L689.2 1914.36 L689.58 1915.28 L689.96 1916.2 L690.34 1917.12 L690.73 1918.03 L691.11 1918.95 L691.49 1919.87 L691.87 1920.79 L692.26 1921.71 L692.64 1922.62 L693.03 1923.54 L693.41 1924.46 L693.8 1925.38 L694.18 1926.29 L694.57 1927.21 L694.96 1928.13 L695.34 1929.05 L695.73 1929.96 L696.12 1930.88 L696.51 1931.79 L696.9 1932.71 L697.29 1933.63 L697.68 1934.54 L698.08 1935.46 L698.47 1936.37 L698.86 1937.29 L699.26 1938.2 L699.65 1939.12 L700.05 1940.03 L700.44 1940.95 L700.84 1941.86 L701.24 1942.77 L701.64 1943.69 L702.04 1944.6 L702.44 1945.51 L702.84 1946.43 L703.24 1947.34 L703.64 1948.25 L704.04 1949.16 L704.45 1950.08 L704.85 1950.99 L705.26 1951.9 L705.66 1952.81 L706.07 1953.72 L706.34 1954.31" stroke="#D95319" stroke-width="7" stroke-dasharray="25 23" stroke-dashoffset="36.5"/>
<path d="M706.34 1954.31 L706.48 1954.63 L706.89 1955.54 L707.3 1956.45 L707.71 1957.36 L708.12 1958.27 L708.53 1959.18 L708.95 1960.09 L709.36 1961 L709.78 1961.91 L710.2 1962.82 L710.61 1963.72 L711.03 1964.63 L711.45 1965.54 L711.87 1966.44 L712.29 1967.35 L712.72 1968.26 L713.14 1969.16 L713.57 1970.07 L713.99 1970.97 L714.42 1971.88 L714.85 1972.78 L715.28 1973.69 L715.71 1974.59 L716.14 1975.5 L716.57 1976.4 L717.01 1977.3 L717.44 1978.2 L717.88 1979.11 L718.32 1980.01 L718.75 1980.91 L719.19 1981.81 L719.64 1982.71 L720.08 1983.61 L720.52 1984.51 L720.97 1985.41 L721.41 1986.31 L721.86 1987.21 L722.31 1988.11 L722.76 1989.01 L723.21 1989.9 L723.66 1990.8 L724.12 1991.7 L724.57 1992.59 L725.03 1993.49 L725.49 1994.39 L725.95 1995.28 L726.41 1996.18 L726.87 1997.07 L727.31 1997.92" stroke="#D95319" stroke-width="7" stroke-dasharray="25 23" stroke-dashoffset="36.5"/>
<path d="M727.31 1997.92 L727.33 1997.96 L727.8 1998.86 L728.26 1999.75 L728.73 2000.64 L729.2 2001.54 L729.67 2002.43 L730.15 2003.32 L730.62 2004.21 L731.09 2005.1 L731.57 2005.99 L732.05 2006.88 L732.53 2007.77 L733.01 2008.66 L733.49 2009.54 L733.98 2010.43 L734.47 2011.32 L734.95 2012.2 L735.44 2013.09 L735.93 2013.98 L736.43 2014.86 L736.92 2015.74 L737.42 2016.63 L737.91 2017.51 L738.41 2018.39 L738.91 2019.27 L739.42 2020.15 L739.92 2021.03 L740.43 2021.91 L740.93 2022.79 L741.44 2023.66 L741.96 2024.54 L742.47 2025.41 L742.98 2026.28 L743.5 2027.16 L744.02 2028.03 L744.54 2028.9 L745.06 2029.77 L745.58 2030.64 L746.11 2031.5 L746.63 2032.37 L747.16 2033.23 L747.69 2034.1 L748.23 2034.96 L748.76 2035.82 L749.3 2036.68 L749.56 2037.1" stroke="#D95319" stroke-width="7" stroke-dasharray="25 23" stroke-dashoffset="36.5"/>
<path d="M749.56 2037.1 L749.84 2037.54 L750.38 2038.4 L750.92 2039.25 L751.46 2040.11 L752.01 2040.96 L752.56 2041.81 L753.11 2042.66 L753.66 2043.51 L754.21 2044.36 L754.77 2045.2 L755.33 2046.04 L755.89 2046.89 L756.45 2047.73 L757.01 2048.57 L757.58 2049.4 L758.14 2050.24 L758.71 2051.07 L759.29 2051.91 L759.86 2052.74 L760.44 2053.57 L761.01 2054.39 L761.59 2055.22 L762.18 2056.04 L762.76 2056.86 L763.35 2057.68 L763.94 2058.5 L764.53 2059.31 L765.12 2060.13 L765.71 2060.94 L766.31 2061.75 L766.91 2062.56 L767.51 2063.36 L768.12 2064.16 L768.72 2064.97 L769.33 2065.76 L769.94 2066.56 L770.55 2067.36 L771.17 2068.15 L771.79 2068.94 L772.41 2069.73 L773.03 2070.51 L773.65 2071.29 L774.28 2072.08 L774.91 2072.85 L775.54 2073.63 L776.17 2074.4 L776.81 2075.17 L777.45 2075.94 L778.09 2076.71 L778.73 2077.47 L778.99 2077.77" stroke="#D95319" stroke-width="7" stroke-dasharray="25 23" stroke-dashoffset="36.5"/>
<path d="M778.99 2077.77 L779.38 2078.23 L780.02 2078.99 L780.67 2079.75 L781.33 2080.5 L781.98 2081.25 L782.64 2082 L783.3 2082.74 L783.96 2083.49 L784.63 2084.23 L785.29 2084.96 L785.96 2085.7 L786.64 2086.43 L787.31 2087.16 L787.99 2087.88 L788.67 2088.6 L789.35 2089.32 L790.04 2090.04 L790.72 2090.75 L791.41 2091.46 L792.11 2092.17 L792.8 2092.88 L793.5 2093.58 L794.2 2094.28 L794.9 2094.97 L795.61 2095.66 L796.32 2096.35 L797.03 2097.04 L797.74 2097.72 L798.46 2098.4 L799.18 2099.08 L799.9 2099.75 L800.62 2100.42 L801.35 2101.08 L802.08 2101.75 L802.81 2102.41 L803.55 2103.06 L804.29 2103.71 L805.03 2104.36 L805.77 2105.01 L806.52 2105.65 L807.27 2106.29 L808.02 2106.93 L808.77 2107.56 L809.53 2108.19 L810.29 2108.82 L811.05 2109.44 L811.41 2109.73" stroke="#D95319" stroke-width="7" stroke-dasharray="25 23" stroke-dashoffset="36.5"/>
<path d="M811.41 2109.73 L811.81 2110.06 L812.58 2110.68 L813.35 2111.29 L814.12 2111.9 L814.89 2112.51 L815.67 2113.11 L816.45 2113.71 L817.23 2114.31 L818.01 2114.91 L818.8 2115.5 L819.59 2116.09 L820.38 2116.68 L821.17 2117.26 L821.96 2117.84 L822.76 2118.42 L823.56 2118.99 L824.36 2119.56 L825.16 2120.13 L825.97 2120.7 L826.78 2121.26 L827.59 2121.82 L828.4 2122.38 L829.21 2122.94 L830.03 2123.49 L830.85 2124.04 L831.67 2124.59 L832.49 2125.13 L833.31 2125.68 L834.14 2126.21 L834.97 2126.75 L835.8 2127.29 L836.63 2127.82 L837.47 2128.35 L838.3 2128.87 L839.14 2129.4 L839.98 2129.92 L840.82 2130.44 L841.66 2130.95 L842.51 2131.47 L843.35 2131.98 L844.2 2132.49 L845.05 2133 L845.9 2133.5 L846.76 2134.01 L847.61 2134.51 L848.47 2135 L849.33 2135.5 L850.19 2135.99 L850.53 2136.19" stroke="#D95319" stroke-width="7" stroke-dasharray="25 23" stroke-dashoffset="36.5"/>
<path d="M850.53 2136.19 L851.05 2136.48 L851.91 2136.97 L852.78 2137.46 L853.64 2137.95 L854.51 2138.43 L855.38 2138.91 L856.25 2139.39 L857.12 2139.86 L858 2140.34 L858.87 2140.81 L859.75 2141.28 L860.63 2141.75 L861.51 2142.21 L862.39 2142.68 L863.27 2143.14 L864.15 2143.6 L865.03 2144.06 L865.92 2144.51 L866.81 2144.97 L867.7 2145.42 L868.58 2145.87 L869.48 2146.32 L870.37 2146.77 L871.26 2147.21 L872.15 2147.66 L873.05 2148.1 L873.95 2148.54 L874.84 2148.98 L875.74 2149.42 L876.64 2149.85 L877.54 2150.29 L878.44 2150.72 L879.34 2151.15 L880.25 2151.58 L881.15 2152 L882.06 2152.43 L882.96 2152.85 L883.87 2153.28 L884.78 2153.7 L885.69 2154.12 L886.6 2154.54 L887.51 2154.95 L888.42 2155.37 L889.33 2155.78 L890.24 2156.2 L891.15 2156.61 L891.17 2156.62" stroke="#D95319" stroke-width="7" stroke-dasharray="25 23" stroke-dashoffset="36.5"/>
<path d="M891.17 2156.62 L892.07 2157.02 L892.98 2157.43 L893.9 2157.83 L894.81 2158.24 L895.73 2158.64 L896.65 2159.05 L897.57 2159.45 L898.49 2159.85 L899.4 2160.25 L900.32 2160.65 L901.24 2161.05 L902.16 2161.45 L903.09 2161.84 L904.01 2162.24 L904.93 2162.63 L905.85 2163.02 L906.77 2163.41 L907.7 2163.8 L908.62 2164.19 L909.55 2164.58 L910.47 2164.97 L911.39 2165.36 L912.32 2165.74 L913.24 2166.13 L914.17 2166.51 L915.1 2166.89 L916.02 2167.28 L916.95 2167.66 L917.87 2168.04 L918.8 2168.42 L919.73 2168.8 L920.66 2169.18 L921.58 2169.55 L922.51 2169.93 L923.44 2170.3 L924.37 2170.68 L925.3 2171.05 L926.23 2171.43 L927.15 2171.8 L928.08 2172.17 L929.01 2172.54 L929.94 2172.91 L930.87 2173.28 L931.8 2173.65 L932.73 2174.01 L933.67 2174.38 L934.27 2174.62" stroke="#D95319" stroke-width="7" stroke-dasharray="25 23" stroke-dashoffset="36.5"/>
<path d="M934.27 2174.62 L934.6 2174.75 L935.53 2175.11 L936.46 2175.47 L937.39 2175.84 L938.32 2176.2 L939.26 2176.56 L940.19 2176.92 L941.12 2177.28 L942.06 2177.64 L942.99 2178 L943.92 2178.36 L944.86 2178.71 L945.79 2179.07 L946.73 2179.42 L947.66 2179.78 L948.59 2180.13 L949.53 2180.49 L950.47 2180.84 L951.4 2181.19 L952.34 2181.54 L953.27 2181.89 L954.21 2182.24 L955.15 2182.59 L956.08 2182.93 L957.02 2183.28 L957.96 2183.63 L958.89 2183.97 L959.83 2184.32 L960.77 2184.66 L961.71 2185 L962.65 2185.35 L963.59 2185.69 L964.52 2186.03 L965.46 2186.37 L966.4 2186.71 L967.34 2187.05 L968.28 2187.38 L969.22 2187.72 L970.16 2188.06 L971.1 2188.39 L972.04 2188.73 L972.98 2189.06 L973.93 2189.39 L974.87 2189.73 L975.81 2190.06 L976.75 2190.39 L977.69 2190.72 L978.63 2191.05 L979.13 2191.22" stroke="#D95319" stroke-width="7" stroke-dasharray="25 23" stroke-dashoffset="36.5"/>
<path d="M979.13 2191.22 L979.58 2191.38 L980.52 2191.71 L981.46 2192.04 L982.41 2192.36 L983.35 2192.69 L984.29 2193.02 L985.24 2193.34 L986.18 2193.67 L987.12 2193.99 L988.07 2194.31 L989.01 2194.64 L989.96 2194.96 L990.9 2195.28 L991.85 2195.6 L992.79 2195.92 L993.74 2196.24 L994.69 2196.56 L995.63 2196.87 L996.58 2197.19 L997.52 2197.51 L998.47 2197.82 L999.42 2198.14 L1000.36 2198.45 L1001.31 2198.77 L1002.26 2199.08 L1003.21 2199.39 L1004.16 2199.71 L1005.1 2200.02 L1006.05 2200.33 L1007 2200.64 L1007.95 2200.95 L1008.9 2201.26 L1009.85 2201.56 L1010.8 2201.87 L1011.74 2202.18 L1012.69 2202.49 L1013.64 2202.79 L1014.59 2203.1 L1015.54 2203.4 L1016.49 2203.71 L1017.45 2204.01 L1018.4 2204.31 L1019.35 2204.61 L1020.3 2204.92 L1021.25 2205.22 L1022.2 2205.52 L1023.15 2205.82 L1024.02 2206.09" stroke="#D95319" stroke-width="7" stroke-dasharray="25 23" stroke-dashoffset="36.5"/>
<path d="M1024.02 2206.09 L1024.1 2206.12 L1025.06 2206.42 L1026.01 2206.71 L1026.96 2207.01 L1027.91 2207.31 L1028.87 2207.6 L1029.82 2207.9 L1030.77 2208.2 L1031.73 2208.49 L1032.68 2208.78 L1033.63 2209.08 L1034.59 2209.37 L1035.54 2209.66 L1036.49 2209.96 L1037.45 2210.25 L1038.4 2210.54 L1039.36 2210.83 L1040.31 2211.12 L1041.27 2211.41 L1042.22 2211.7 L1043.18 2211.98 L1044.13 2212.27 L1045.09 2212.56 L1046.04 2212.85 L1047 2213.13 L1047.96 2213.42 L1048.91 2213.7 L1049.87 2213.99 L1050.83 2214.27 L1051.78 2214.55 L1052.74 2214.84 L1053.7 2215.12 L1054.65 2215.4 L1055.61 2215.68 L1056.57 2215.96 L1057.53 2216.24 L1058.48 2216.52 L1059.44 2216.8 L1060.4 2217.08 L1061.36 2217.36 L1062.32 2217.64 L1063.28 2217.92 L1064.23 2218.19 L1065.19 2218.47 L1066.15 2218.75 L1067.11 2219.02 L1068.07 2219.3 L1069.03 2219.57 L1069.93 2219.83" stroke="#D95319" stroke-width="7" stroke-dasharray="25 23" stroke-dashoffset="36.5"/>
<path d="M1069.93 2219.83 L1069.99 2219.85 L1070.95 2220.12 L1071.91 2220.4 L1072.87 2220.67 L1073.83 2220.94 L1074.79 2221.21 L1075.75 2221.48 L1076.71 2221.76 L1077.67 2222.03 L1078.63 2222.3 L1079.59 2222.57 L1080.56 2222.84 L1081.52 2223.1 L1082.48 2223.37 L1083.44 2223.64 L1084.4 2223.91 L1085.36 2224.18 L1086.33 2224.44 L1087.29 2224.71 L1088.25 2224.98 L1089.21 2225.24 L1090.18 2225.51 L1091.14 2225.77 L1092.1 2226.04 L1093.06 2226.3 L1094.03 2226.56 L1094.99 2226.83 L1095.95 2227.09 L1096.92 2227.35 L1097.88 2227.61 L1098.84 2227.87 L1099.81 2228.14 L1100.77 2228.4 L1101.74 2228.66 L1102.7 2228.92 L1103.66 2229.18 L1104.63 2229.44 L1105.59 2229.7 L1106.56 2229.95 L1107.52 2230.21 L1108.49 2230.47 L1109.45 2230.73 L1110.42 2230.98 L1111.38 2231.24 L1112.35 2231.5 L1113.31 2231.75 L1114.28 2232.01 L1115.24 2232.26 L1115.48 2232.33" stroke="#D95319" stroke-width="7" stroke-dasharray="25 23" stroke-dashoffset="36.5"/>
<path d="M1115.48 2232.33 L1116.21 2232.52 L1117.18 2232.77 L1118.14 2233.03 L1119.11 2233.28 L1120.07 2233.54 L1121.04 2233.79 L1122.01 2234.04 L1122.97 2234.3 L1123.94 2234.55 L1124.91 2234.8 L1125.87 2235.05 L1126.84 2235.3 L1127.81 2235.55 L1128.78 2235.8 L1129.74 2236.06 L1130.71 2236.31 L1131.68 2236.56 L1132.64 2236.81 L1133.61 2237.05 L1134.58 2237.3 L1135.55 2237.55 L1136.52 2237.8 L1137.48 2238.05 L1138.45 2238.3 L1139.42 2238.54 L1140.39 2238.79 L1141.36 2239.04 L1142.33 2239.28 L1143.29 2239.53 L1144.26 2239.78 L1145.23 2240.02 L1146.2 2240.27 L1147.17 2240.51 L1148.14 2240.76 L1149.11 2241 L1150.08 2241.25 L1151.05 2241.49 L1152.01 2241.74 L1152.98 2241.98 L1153.95 2242.22 L1154.92 2242.47 L1155.89 2242.71 L1156.86 2242.95 L1157.83 2243.2 L1158.8 2243.44 L1159.77 2243.68 L1160.74 2243.92 L1161.34 2244.07" stroke="#D95319" stroke-width="7" stroke-dasharray="25 23" stroke-dashoffset="36.5"/>
<path d="M1161.34 2244.07 L1161.71 2244.16 L1162.68 2244.41 L1163.65 2244.65 L1164.62 2244.89 L1165.59 2245.13 L1166.56 2245.37 L1167.53 2245.61 L1168.5 2245.85 L1169.48 2246.09 L1170.45 2246.33 L1171.42 2246.57 L1172.39 2246.81 L1173.36 2247.05 L1174.33 2247.29 L1175.3 2247.53 L1176.27 2247.76 L1177.24 2248 L1178.21 2248.24 L1179.19 2248.48 L1180.16 2248.72 L1181.13 2248.95 L1182.1 2249.19 L1183.07 2249.43 L1184.04 2249.67 L1185.01 2249.9 L1185.99 2250.14 L1186.96 2250.38 L1187.93 2250.61 L1188.9 2250.85 L1189.87 2251.08 L1190.85 2251.32 L1191.82 2251.56 L1192.79 2251.79 L1193.76 2252.03 L1194.73 2252.26 L1195.71 2252.5 L1196.68 2252.73 L1197.65 2252.97 L1198.62 2253.2 L1199.59 2253.44 L1200.57 2253.67 L1201.54 2253.91 L1202.51 2254.14 L1203.48 2254.38 L1204.46 2254.61 L1205.43 2254.84 L1206.4 2255.08 L1207.02 2255.23" stroke="#D95319" stroke-width="7" stroke-dasharray="25 23" stroke-dashoffset="36.5"/>
<path d="M1207.02 2255.23 L1207.38 2255.31 L1208.35 2255.55 L1209.32 2255.78 L1210.29 2256.01 L1211.27 2256.25 L1212.24 2256.48 L1213.21 2256.71 L1214.19 2256.95 L1215.16 2257.18 L1216.13 2257.41 L1217.1 2257.64 L1218.08 2257.88 L1219.05 2258.11 L1220.02 2258.34 L1221 2258.57 L1221.97 2258.81 L1222.94 2259.04 L1223.92 2259.27 L1224.89 2259.5 L1225.86 2259.74 L1226.84 2259.97 L1227.81 2260.2 L1228.78 2260.43 L1229.76 2260.66 L1230.73 2260.9 L1231.7 2261.13 L1232.68 2261.36 L1233.65 2261.59 L1234.62 2261.82 L1235.6 2262.05 L1236.57 2262.29 L1237.55 2262.52 L1238.52 2262.75 L1239.49 2262.98 L1240.47 2263.21 L1241.44 2263.44 L1242.41 2263.67 L1243.39 2263.91 L1244.36 2264.14 L1245.33 2264.37 L1246.31 2264.6 L1247.28 2264.83 L1248.26 2265.06 L1249.23 2265.29 L1250.2 2265.53 L1251.18 2265.76 L1252.15 2265.99 L1252.91 2266.17" stroke="#D95319" stroke-width="7" stroke-dasharray="25 23" stroke-dashoffset="36.5"/>
<path d="M1252.91 2266.17 L1253.12 2266.22 L1254.1 2266.45 L1255.07 2266.68 L1256.05 2266.91 L1257.02 2267.15 L1257.99 2267.38 L1258.97 2267.61 L1259.94 2267.84 L1260.91 2268.07 L1261.89 2268.3 L1262.86 2268.53 L1263.83 2268.77 L1264.81 2269 L1265.78 2269.23 L1266.76 2269.46 L1267.73 2269.69 L1268.7 2269.92 L1269.68 2270.16 L1270.65 2270.39 L1271.62 2270.62 L1272.6 2270.85 L1273.57 2271.08 L1274.55 2271.32 L1275.52 2271.55 L1276.49 2271.78 L1277.47 2272.01 L1278.44 2272.24 L1279.41 2272.48 L1280.39 2272.71 L1281.36 2272.94 L1282.33 2273.17 L1283.31 2273.41 L1284.28 2273.64 L1285.25 2273.87 L1286.23 2274.11 L1287.2 2274.34 L1288.17 2274.57 L1289.15 2274.81 L1290.12 2275.04 L1291.09 2275.27 L1292.07 2275.51 L1293.04 2275.74 L1294.01 2275.97 L1294.99 2276.21 L1295.96 2276.44 L1296.93 2276.68 L1297.91 2276.91 L1298.62 2277.08" stroke="#D95319" stroke-width="7" stroke-dasharray="25 23" stroke-dashoffset="36.5"/>
<path d="M1298.62 2277.08 L1298.88 2277.14 L1299.85 2277.38 L1300.82 2277.61 L1301.8 2277.85 L1302.77 2278.08 L1303.74 2278.32 L1304.72 2278.55 L1305.69 2278.79 L1306.66 2279.02 L1307.63 2279.26 L1308.61 2279.5 L1309.58 2279.73 L1310.55 2279.97 L1311.53 2280.2 L1312.5 2280.44 L1313.47 2280.68 L1314.44 2280.91 L1315.42 2281.15 L1316.39 2281.39 L1317.36 2281.62 L1318.33 2281.86 L1319.3 2282.1 L1320.28 2282.34 L1321.25 2282.57 L1322.22 2282.81 L1323.19 2283.05 L1324.16 2283.29 L1325.14 2283.53 L1326.11 2283.77 L1327.08 2284 L1328.05 2284.24 L1329.02 2284.48 L1330 2284.72 L1330.97 2284.96 L1331.94 2285.2 L1332.91 2285.44 L1333.88 2285.68 L1334.85 2285.92 L1335.82 2286.16 L1336.8 2286.41 L1337.77 2286.65 L1338.74 2286.89 L1339.71 2287.13 L1340.68 2287.37 L1341.65 2287.61 L1342.62 2287.86 L1343.59 2288.1 L1344.55 2288.34" stroke="#D95319" stroke-width="7" stroke-dasharray="25 23" stroke-dashoffset="36.5"/>
<path d="M1344.55 2288.34 L1344.56 2288.34 L1345.53 2288.59 L1346.5 2288.83 L1347.47 2289.07 L1348.44 2289.32 L1349.42 2289.56 L1350.39 2289.8 L1351.36 2290.05 L1352.33 2290.29 L1353.3 2290.54 L1354.27 2290.78 L1355.24 2291.03 L1356.21 2291.28 L1357.18 2291.52 L1358.15 2291.77 L1359.11 2292.02 L1360.08 2292.26 L1361.05 2292.51 L1362.02 2292.76 L1362.99 2293.01 L1363.96 2293.25 L1364.93 2293.5 L1365.9 2293.75 L1366.87 2294 L1367.84 2294.25 L1368.81 2294.5 L1369.78 2294.75 L1370.74 2295 L1371.71 2295.25 L1372.68 2295.5 L1373.65 2295.75 L1374.62 2296 L1375.59 2296.25 L1376.55 2296.51 L1377.52 2296.76 L1378.49 2297.01 L1379.46 2297.26 L1380.43 2297.52 L1381.39 2297.77 L1382.36 2298.02 L1383.33 2298.28 L1384.3 2298.53 L1385.26 2298.79 L1386.23 2299.04 L1387.2 2299.3 L1388.17 2299.55 L1389.13 2299.81 L1390.1 2300.06 L1390.29 2300.11" stroke="#D95319" stroke-width="7" stroke-dasharray="25 23" stroke-dashoffset="36.5"/>
<path d="M1390.29 2300.11 L1391.07 2300.32 L1392.03 2300.58 L1393 2300.83 L1393.97 2301.09 L1394.93 2301.35 L1395.9 2301.6 L1396.87 2301.86 L1397.83 2302.12 L1398.8 2302.38 L1399.77 2302.64 L1400.73 2302.89 L1401.7 2303.15 L1402.66 2303.41 L1403.63 2303.67 L1404.6 2303.93 L1405.56 2304.19 L1406.53 2304.45 L1407.49 2304.71 L1408.46 2304.97 L1409.42 2305.24 L1410.39 2305.5 L1411.36 2305.76 L1412.32 2306.02 L1413.29 2306.28 L1414.25 2306.54 L1415.22 2306.81 L1416.18 2307.07 L1417.15 2307.33 L1418.11 2307.59 L1419.08 2307.86 L1420.04 2308.12 L1421.01 2308.39 L1421.97 2308.65 L1422.93 2308.91 L1423.9 2309.18 L1424.86 2309.44 L1425.83 2309.71 L1426.79 2309.97 L1427.76 2310.24 L1428.72 2310.5 L1429.68 2310.77 L1430.65 2311.04 L1431.61 2311.3 L1432.58 2311.57 L1433.54 2311.84 L1434.5 2312.1 L1435.47 2312.37 L1435.62 2312.41" stroke="#D95319" stroke-width="7" stroke-dasharray="25 23" stroke-dashoffset="36.5"/>
<path d="M1435.62 2312.41 L1436.43 2312.64 L1437.4 2312.91 L1438.36 2313.17 L1439.32 2313.44 L1440.29 2313.71 L1441.25 2313.98 L1442.21 2314.25 L1443.18 2314.52 L1444.14 2314.78 L1445.1 2315.05 L1446.07 2315.32 L1447.03 2315.59 L1447.99 2315.86 L1448.95 2316.13 L1449.92 2316.4 L1450.88 2316.67 L1451.84 2316.94 L1452.81 2317.21 L1453.77 2317.49 L1454.73 2317.76 L1455.69 2318.03 L1456.66 2318.3 L1457.62 2318.57 L1458.58 2318.84 L1459.54 2319.12 L1460.51 2319.39 L1461.47 2319.66 L1462.43 2319.93 L1463.39 2320.21 L1464.35 2320.48 L1465.32 2320.75 L1466.28 2321.03 L1467.24 2321.3 L1468.2 2321.57 L1469.16 2321.85 L1470.13 2322.12 L1471.09 2322.39 L1472.05 2322.67 L1473.01 2322.94 L1473.97 2323.22 L1474.93 2323.49 L1475.9 2323.77 L1476.86 2324.04 L1477.82 2324.32 L1478.78 2324.59 L1479.74 2324.87 L1480.7 2325.15 L1481.15 2325.27" stroke="#D95319" stroke-width="7" stroke-dasharray="25 23" stroke-dashoffset="36.5"/>
<path d="M1481.15 2325.27 L1481.66 2325.42 L1482.62 2325.7 L1483.59 2325.97 L1484.55 2326.25 L1485.51 2326.53 L1486.47 2326.8 L1487.43 2327.08 L1488.39 2327.36 L1489.35 2327.63 L1490.31 2327.91 L1491.27 2328.19 L1492.23 2328.47 L1493.19 2328.74 L1494.16 2329.02 L1495.12 2329.3 L1496.08 2329.58 L1497.04 2329.86 L1498 2330.13 L1498.96 2330.41 L1499.92 2330.69 L1500.88 2330.97 L1501.84 2331.25 L1502.8 2331.53 L1503.76 2331.81 L1504.72 2332.09 L1505.68 2332.37 L1506.64 2332.65 L1507.6 2332.93 L1508.56 2333.2 L1509.52 2333.48 L1510.48 2333.76 L1511.44 2334.04 L1512.4 2334.32 L1513.36 2334.61 L1514.32 2334.89 L1515.28 2335.17 L1516.24 2335.45 L1517.2 2335.73 L1518.16 2336.01 L1519.12 2336.29 L1520.08 2336.57 L1521.04 2336.85 L1522 2337.13 L1522.96 2337.41 L1523.92 2337.7 L1524.88 2337.98 L1525.84 2338.26 L1526.67 2338.5" stroke="#D95319" stroke-width="7" stroke-dasharray="25 23" stroke-dashoffset="36.5"/>
<path d="M1526.67 2338.5 L1526.8 2338.54 L1527.76 2338.82 L1528.72 2339.1 L1529.68 2339.39 L1530.63 2339.67 L1531.59 2339.95 L1532.55 2340.23 L1533.51 2340.52 L1534.47 2340.8 L1535.43 2341.08 L1536.39 2341.36 L1537.35 2341.65 L1538.31 2341.93 L1539.27 2342.21 L1540.23 2342.5 L1541.19 2342.78 L1542.15 2343.06 L1543.1 2343.34 L1544.06 2343.63 L1545.02 2343.91 L1545.98 2344.19 L1546.94 2344.48 L1547.9 2344.76 L1548.86 2345.05 L1549.82 2345.33 L1550.78 2345.61 L1551.73 2345.9 L1552.69 2346.18 L1553.65 2346.46 L1554.61 2346.75 L1555.57 2347.03 L1556.53 2347.32 L1557.49 2347.6 L1558.45 2347.89 L1559.4 2348.17 L1560.36 2348.45 L1561.32 2348.74 L1562.28 2349.02 L1563.24 2349.31 L1564.2 2349.59 L1565.16 2349.88 L1566.12 2350.16 L1567.07 2350.45 L1568.03 2350.73 L1568.99 2351.02 L1569.95 2351.3 L1570.91 2351.58 L1571.87 2351.87 L1571.98 2351.9" stroke="#D95319" stroke-width="7" stroke-dasharray="25 23" stroke-dashoffset="36.5"/>
<path d="M1571.98 2351.9 L1572.83 2352.15 L1573.78 2352.44 L1574.74 2352.72 L1575.7 2353.01 L1576.66 2353.29 L1577.62 2353.58 L1578.58 2353.86 L1579.53 2354.15 L1580.49 2354.44 L1581.45 2354.72 L1582.41 2355.01 L1583.37 2355.29 L1584.33 2355.58 L1585.29 2355.86 L1586.24 2356.15 L1587.2 2356.43 L1588.16 2356.72 L1589.12 2357 L1590.08 2357.29 L1591.04 2357.57 L1591.99 2357.86 L1592.95 2358.14 L1593.91 2358.43 L1594.87 2358.72 L1595.83 2359 L1596.79 2359.29 L1597.74 2359.57 L1598.7 2359.86 L1599.66 2360.14 L1600.62 2360.43 L1601.58 2360.71 L1602.54 2361 L1603.49 2361.28 L1604.45 2361.57 L1605.41 2361.86 L1606.37 2362.14 L1607.33 2362.43 L1608.28 2362.71 L1609.24 2363 L1610.2 2363.28 L1611.16 2363.57 L1612.12 2363.85 L1613.08 2364.14 L1614.03 2364.42 L1614.99 2364.71 L1615.95 2364.99 L1616.91 2365.28 L1617.18 2365.36" stroke="#D95319" stroke-width="7" stroke-dasharray="25 23" stroke-dashoffset="36.5"/>
<path d="M1617.18 2365.36 L1617.87 2365.57 L1618.83 2365.85 L1619.78 2366.14 L1620.74 2366.42 L1621.7 2366.71 L1622.66 2366.99 L1623.62 2367.28 L1624.58 2367.56 L1625.53 2367.85 L1626.49 2368.13 L1627.45 2368.42 L1628.41 2368.7 L1629.37 2368.99 L1630.33 2369.27 L1631.29 2369.56 L1632.24 2369.84 L1633.2 2370.13 L1634.16 2370.41 L1635.12 2370.69 L1636.08 2370.98 L1637.04 2371.26 L1637.99 2371.55 L1638.95 2371.83 L1639.91 2372.12 L1640.87 2372.4 L1641.83 2372.69 L1642.79 2372.97 L1643.75 2373.25 L1644.7 2373.54 L1645.66 2373.82 L1646.62 2374.11 L1647.58 2374.39 L1648.54 2374.68 L1649.5 2374.96 L1650.46 2375.24 L1651.41 2375.53 L1652.37 2375.81 L1653.33 2376.09 L1654.29 2376.38 L1655.25 2376.66 L1656.21 2376.94 L1657.17 2377.23 L1658.13 2377.51 L1659.08 2377.79 L1660.04 2378.08 L1661 2378.36 L1661.96 2378.64 L1662.92 2378.93 L1662.97 2378.94" stroke="#D95319" stroke-width="7" stroke-dasharray="25 23" stroke-dashoffset="36.5"/>
<path d="M1662.97 2378.94 L1663.88 2379.21 L1664.84 2379.49 L1665.8 2379.77 L1666.76 2380.06 L1667.71 2380.34 L1668.67 2380.62 L1669.63 2380.9 L1670.59 2381.19 L1671.55 2381.47 L1672.51 2381.75 L1673.47 2382.03 L1674.43 2382.31 L1675.39 2382.6 L1676.35 2382.88 L1677.31 2383.16 L1678.26 2383.44 L1679.22 2383.72 L1680.18 2384 L1681.14 2384.28 L1682.1 2384.57 L1683.06 2384.85 L1684.02 2385.13 L1684.98 2385.41 L1685.94 2385.69 L1686.9 2385.97 L1687.86 2386.25 L1688.82 2386.53 L1689.78 2386.81 L1690.74 2387.09 L1691.7 2387.37 L1692.66 2387.65 L1693.62 2387.93 L1694.58 2388.21 L1695.54 2388.49 L1696.5 2388.77 L1697.46 2389.05 L1698.42 2389.33 L1699.38 2389.61 L1700.34 2389.88 L1701.3 2390.16 L1702.26 2390.44 L1703.22 2390.72 L1704.18 2391 L1705.14 2391.28 L1706.1 2391.55 L1707.06 2391.83 L1707.95 2392.09" stroke="#D95319" stroke-width="7" stroke-dasharray="25 23" stroke-dashoffset="36.5"/>
<path d="M1707.95 2392.09 L1708.02 2392.11 L1708.98 2392.39 L1709.94 2392.67 L1710.9 2392.94 L1711.86 2393.22 L1712.82 2393.5 L1713.78 2393.77 L1714.74 2394.05 L1715.7 2394.33 L1716.66 2394.6 L1717.62 2394.88 L1718.58 2395.16 L1719.54 2395.43 L1720.5 2395.71 L1721.46 2395.98 L1722.42 2396.26 L1723.38 2396.54 L1724.35 2396.81 L1725.31 2397.09 L1726.27 2397.36 L1727.23 2397.64 L1728.19 2397.91 L1729.15 2398.18 L1730.11 2398.46 L1731.07 2398.73 L1732.03 2399.01 L1732.99 2399.28 L1733.96 2399.55 L1734.92 2399.83 L1735.88 2400.1 L1736.84 2400.37 L1737.8 2400.65 L1738.76 2400.92 L1739.72 2401.19 L1740.69 2401.47 L1741.65 2401.74 L1742.61 2402.01 L1743.57 2402.28 L1744.53 2402.55 L1745.5 2402.82 L1746.46 2403.1 L1747.42 2403.37 L1748.38 2403.64 L1749.34 2403.91 L1750.31 2404.18 L1751.27 2404.45 L1752.23 2404.72 L1753.19 2404.99 L1753.72 2405.14" stroke="#D95319" stroke-width="7" stroke-dasharray="25 23" stroke-dashoffset="36.5"/>
<path d="M1753.72 2405.14 L1754.15 2405.26 L1755.12 2405.53 L1756.08 2405.8 L1757.04 2406.07 L1758 2406.34 L1758.97 2406.61 L1759.93 2406.87 L1760.89 2407.14 L1761.86 2407.41 L1762.82 2407.68 L1763.78 2407.95 L1764.74 2408.21 L1765.71 2408.48 L1766.67 2408.75 L1767.63 2409.02 L1768.6 2409.28 L1769.56 2409.55 L1770.52 2409.82 L1771.49 2410.08 L1772.45 2410.35 L1773.41 2410.61 L1774.38 2410.88 L1775.34 2411.14 L1776.3 2411.41 L1777.27 2411.67 L1778.23 2411.94 L1779.19 2412.2 L1780.16 2412.47 L1781.12 2412.73 L1782.09 2412.99 L1783.05 2413.26 L1784.01 2413.52 L1784.98 2413.78 L1785.94 2414.05 L1786.91 2414.31 L1787.87 2414.57 L1788.84 2414.83 L1789.8 2415.09 L1790.77 2415.35 L1791.73 2415.62 L1792.69 2415.88 L1793.66 2416.14 L1794.62 2416.4 L1795.59 2416.66 L1796.55 2416.92 L1797.52 2417.18 L1798.48 2417.44 L1799.45 2417.7 L1799.49 2417.71" stroke="#D95319" stroke-width="7" stroke-dasharray="25 23" stroke-dashoffset="36.5"/>
<path d="M1799.49 2417.71 L1800.41 2417.96 L1801.38 2418.21 L1802.35 2418.47 L1803.31 2418.73 L1804.28 2418.99 L1805.24 2419.25 L1806.21 2419.5 L1807.17 2419.76 L1808.14 2420.02 L1809.11 2420.27 L1810.07 2420.53 L1811.04 2420.79 L1812 2421.04 L1812.97 2421.3 L1813.94 2421.55 L1814.9 2421.81 L1815.87 2422.06 L1816.83 2422.32 L1817.8 2422.57 L1818.77 2422.83 L1819.73 2423.08 L1820.7 2423.33 L1821.67 2423.59 L1822.64 2423.84 L1823.6 2424.09 L1824.57 2424.34 L1825.54 2424.59 L1826.5 2424.85 L1827.47 2425.1 L1828.44 2425.35 L1829.41 2425.6 L1830.37 2425.85 L1831.34 2426.1 L1832.31 2426.35 L1833.28 2426.6 L1834.24 2426.85 L1835.21 2427.1 L1836.18 2427.35 L1837.15 2427.6 L1838.12 2427.84 L1839.08 2428.09 L1840.05 2428.34 L1841.02 2428.59 L1841.99 2428.83 L1842.96 2429.08 L1843.93 2429.33 L1844.75 2429.54" stroke="#D95319" stroke-width="7" stroke-dasharray="25 23" stroke-dashoffset="36.5"/>
<path d="M1844.75 2429.54 L1844.9 2429.57 L1845.86 2429.82 L1846.83 2430.06 L1847.8 2430.31 L1848.77 2430.56 L1849.74 2430.8 L1850.71 2431.04 L1851.68 2431.29 L1852.65 2431.53 L1853.62 2431.78 L1854.59 2432.02 L1855.56 2432.26 L1856.53 2432.51 L1857.49 2432.75 L1858.46 2432.99 L1859.43 2433.23 L1860.4 2433.47 L1861.37 2433.72 L1862.34 2433.96 L1863.31 2434.2 L1864.28 2434.44 L1865.25 2434.68 L1866.22 2434.92 L1867.2 2435.16 L1868.17 2435.4 L1869.14 2435.64 L1870.11 2435.87 L1871.08 2436.11 L1872.05 2436.35 L1873.02 2436.59 L1873.99 2436.83 L1874.96 2437.06 L1875.93 2437.3 L1876.9 2437.54 L1877.87 2437.77 L1878.85 2438.01 L1879.82 2438.25 L1880.79 2438.48 L1881.76 2438.72 L1882.73 2438.95 L1883.7 2439.19 L1884.67 2439.42 L1885.65 2439.66 L1886.62 2439.89 L1887.59 2440.12 L1888.56 2440.36 L1889.53 2440.59 L1890.51 2440.82 L1890.51 2440.82" stroke="#D95319" stroke-width="7" stroke-dasharray="25 23" stroke-dashoffset="36.5"/>
<path d="M1890.51 2440.82 L1891.48 2441.06 L1892.45 2441.29 L1893.42 2441.52 L1894.39 2441.75 L1895.37 2441.98 L1896.34 2442.21 L1897.31 2442.44 L1898.28 2442.67 L1899.26 2442.9 L1900.23 2443.13 L1901.2 2443.36 L1902.18 2443.59 L1903.15 2443.82 L1904.12 2444.05 L1905.1 2444.28 L1906.07 2444.51 L1907.04 2444.74 L1908.01 2444.96 L1908.99 2445.19 L1909.96 2445.42 L1910.94 2445.64 L1911.91 2445.87 L1912.88 2446.1 L1913.86 2446.32 L1914.83 2446.55 L1915.8 2446.77 L1916.78 2447 L1917.75 2447.22 L1918.73 2447.45 L1919.7 2447.67 L1920.67 2447.89 L1921.65 2448.12 L1922.62 2448.34 L1923.6 2448.56 L1924.57 2448.79 L1925.55 2449.01 L1926.52 2449.23 L1927.5 2449.45 L1928.47 2449.67 L1929.45 2449.9 L1930.42 2450.12 L1931.4 2450.34 L1932.37 2450.56 L1933.35 2450.78 L1934.32 2451 L1935.3 2451.22 L1936.27 2451.43 L1936.37 2451.46" stroke="#D95319" stroke-width="7" stroke-dasharray="25 23" stroke-dashoffset="36.5"/>
<path d="M1936.37 2451.46 L1937.25 2451.65 L1938.22 2451.87 L1939.2 2452.09 L1940.17 2452.31 L1941.15 2452.53 L1942.13 2452.74 L1943.1 2452.96 L1944.08 2453.18 L1945.05 2453.39 L1946.03 2453.61 L1947 2453.83 L1947.98 2454.04 L1948.96 2454.26 L1949.93 2454.47 L1950.91 2454.69 L1951.89 2454.9 L1952.86 2455.11 L1953.84 2455.33 L1954.82 2455.54 L1955.79 2455.75 L1956.77 2455.97 L1957.75 2456.18 L1958.72 2456.39 L1959.7 2456.6 L1960.68 2456.82 L1961.65 2457.03 L1962.63 2457.24 L1963.61 2457.45 L1964.58 2457.66 L1965.56 2457.87 L1966.54 2458.08 L1967.52 2458.29 L1968.49 2458.5 L1969.47 2458.71 L1970.45 2458.92 L1971.43 2459.13 L1972.4 2459.33 L1973.38 2459.54 L1974.36 2459.75 L1975.34 2459.96 L1976.32 2460.16 L1977.29 2460.37 L1978.27 2460.58 L1979.25 2460.78 L1980.23 2460.99 L1981.21 2461.19 L1982.19 2461.4 L1982.54 2461.47" stroke="#D95319" stroke-width="7" stroke-dasharray="25 23" stroke-dashoffset="36.5"/>
<path d="M1982.54 2461.47 L1983.16 2461.61 L1984.14 2461.81 L1985.12 2462.01 L1986.1 2462.22 L1987.08 2462.42 L1988.06 2462.63 L1989.04 2462.83 L1990.01 2463.03 L1990.99 2463.23 L1991.97 2463.44 L1992.95 2463.64 L1993.93 2463.84 L1994.91 2464.04 L1995.89 2464.24 L1996.87 2464.44 L1997.85 2464.64 L1998.83 2464.84 L1999.81 2465.04 L2000.79 2465.24 L2001.77 2465.44 L2002.75 2465.64 L2003.73 2465.84 L2004.71 2466.04 L2005.69 2466.24 L2006.67 2466.43 L2007.65 2466.63 L2008.63 2466.83 L2009.61 2467.03 L2010.59 2467.22 L2011.57 2467.42 L2012.55 2467.62 L2013.53 2467.81 L2014.51 2468.01 L2015.49 2468.2 L2016.47 2468.4 L2017.45 2468.59 L2018.43 2468.78 L2019.41 2468.98 L2020.39 2469.17 L2021.37 2469.37 L2022.35 2469.56 L2023.33 2469.75 L2024.31 2469.94 L2025.29 2470.14 L2026.28 2470.33 L2027.26 2470.52 L2028.24 2470.71 L2029.22 2470.9 L2029.31 2470.92" stroke="#D95319" stroke-width="7" stroke-dasharray="25 23" stroke-dashoffset="36.5"/>
<path d="M2029.31 2470.92 L2030.2 2471.09 L2031.18 2471.28 L2032.16 2471.47 L2033.15 2471.66 L2034.13 2471.85 L2035.11 2472.04 L2036.09 2472.23 L2037.07 2472.42 L2038.05 2472.61 L2039.04 2472.79 L2040.02 2472.98 L2041 2473.17 L2041.98 2473.36 L2042.96 2473.54 L2043.95 2473.73 L2044.93 2473.92 L2045.91 2474.1 L2046.89 2474.29 L2047.88 2474.47 L2048.86 2474.66 L2049.84 2474.84 L2050.82 2475.03 L2051.81 2475.21 L2052.79 2475.39 L2053.77 2475.58 L2054.75 2475.76 L2055.74 2475.94 L2056.72 2476.12 L2057.7 2476.31 L2058.69 2476.49 L2059.67 2476.67 L2060.65 2476.85 L2061.63 2477.03 L2062.62 2477.21 L2063.6 2477.39 L2064.58 2477.57 L2065.57 2477.75 L2066.55 2477.93 L2067.54 2478.11 L2068.52 2478.29 L2069.5 2478.47 L2070.49 2478.65 L2071.47 2478.83 L2072.45 2479 L2073.44 2479.18 L2074.42 2479.36 L2075.41 2479.53 L2075.78 2479.6" stroke="#D95319" stroke-width="7" stroke-dasharray="25 23" stroke-dashoffset="36.5"/>
<path d="M2075.78 2479.6 L2076.39 2479.71 L2077.37 2479.89 L2078.36 2480.06 L2079.34 2480.24 L2080.33 2480.41 L2081.31 2480.59 L2082.29 2480.76 L2083.28 2480.94 L2084.26 2481.11 L2085.25 2481.28 L2086.23 2481.46 L2087.22 2481.63 L2088.2 2481.8 L2089.19 2481.98 L2090.17 2482.15 L2091.16 2482.32 L2092.14 2482.49 L2093.13 2482.66 L2094.11 2482.83 L2095.1 2483 L2096.08 2483.17 L2097.07 2483.34 L2098.05 2483.51 L2099.04 2483.68 L2100.02 2483.85 L2101.01 2484.02 L2101.99 2484.19 L2102.98 2484.36 L2103.96 2484.53 L2104.95 2484.69 L2105.94 2484.86 L2106.92 2485.03 L2107.91 2485.19 L2108.89 2485.36 L2109.88 2485.53 L2110.86 2485.69 L2111.85 2485.86 L2112.84 2486.02 L2113.82 2486.19 L2114.81 2486.35 L2115.79 2486.52 L2116.78 2486.68 L2117.77 2486.84 L2118.75 2487.01 L2119.74 2487.17 L2120.73 2487.33 L2121.71 2487.49 L2121.95 2487.53" stroke="#D95319" stroke-width="7" stroke-dasharray="25 23" stroke-dashoffset="36.5"/>
<path d="M2121.95 2487.53 L2122.7 2487.66 L2123.69 2487.82 L2124.67 2487.98 L2125.66 2488.14 L2126.65 2488.3 L2127.63 2488.46 L2128.62 2488.62 L2129.61 2488.78 L2130.59 2488.94 L2131.58 2489.1 L2132.57 2489.26 L2133.55 2489.42 L2134.54 2489.58 L2135.53 2489.73 L2136.52 2489.89 L2137.5 2490.05 L2138.49 2490.21 L2139.48 2490.36 L2140.47 2490.52 L2141.45 2490.68 L2142.44 2490.83 L2143.43 2490.99 L2144.42 2491.14 L2145.4 2491.3 L2146.39 2491.45 L2147.38 2491.61 L2148.37 2491.76 L2149.35 2491.91 L2150.34 2492.07 L2151.33 2492.22 L2152.32 2492.37 L2153.31 2492.52 L2154.29 2492.68 L2155.28 2492.83 L2156.27 2492.98 L2157.26 2493.13 L2158.25 2493.28 L2159.24 2493.43 L2160.22 2493.58 L2161.21 2493.73 L2162.2 2493.88 L2163.19 2494.03 L2164.18 2494.18 L2165.17 2494.33 L2166.16 2494.48 L2167.14 2494.63 L2168.13 2494.77 L2168.62 2494.85" stroke="#D95319" stroke-width="7" stroke-dasharray="25 23" stroke-dashoffset="36.5"/>
<path d="M2168.62 2494.85 L2169.12 2494.92 L2170.11 2495.07 L2171.1 2495.21 L2172.09 2495.36 L2173.08 2495.51 L2174.07 2495.65 L2175.06 2495.8 L2176.04 2495.94 L2177.03 2496.09 L2178.02 2496.23 L2179.01 2496.38 L2180 2496.52 L2180.99 2496.67 L2181.98 2496.81 L2182.97 2496.95 L2183.96 2497.09 L2184.95 2497.24 L2185.94 2497.38 L2186.93 2497.52 L2187.92 2497.66 L2188.91 2497.8 L2189.9 2497.94 L2190.89 2498.09 L2191.88 2498.23 L2192.87 2498.37 L2193.86 2498.5 L2194.85 2498.64 L2195.84 2498.78 L2196.83 2498.92 L2197.82 2499.06 L2198.81 2499.2 L2199.8 2499.34 L2200.79 2499.47 L2201.78 2499.61 L2202.77 2499.75 L2203.76 2499.88 L2204.75 2500.02 L2205.74 2500.16 L2206.73 2500.29 L2207.72 2500.43 L2208.71 2500.56 L2209.7 2500.7 L2210.69 2500.83 L2211.68 2500.96 L2212.68 2501.1 L2213.67 2501.23 L2214.66 2501.36 L2215.4 2501.46" stroke="#D95319" stroke-width="7" stroke-dasharray="25 23" stroke-dashoffset="36.5"/>
<path d="M2215.4 2501.46 L2215.65 2501.5 L2216.64 2501.63 L2217.63 2501.76 L2218.62 2501.89 L2219.61 2502.02 L2220.6 2502.15 L2221.59 2502.29 L2222.59 2502.42 L2223.58 2502.55 L2224.57 2502.68 L2225.56 2502.81 L2226.55 2502.93 L2227.54 2503.06 L2228.53 2503.19 L2229.53 2503.32 L2230.52 2503.45 L2231.51 2503.58 L2232.5 2503.7 L2233.49 2503.83 L2234.48 2503.96 L2235.48 2504.08 L2236.47 2504.21 L2237.46 2504.33 L2238.45 2504.46 L2239.44 2504.58 L2240.44 2504.71 L2241.43 2504.83 L2242.42 2504.96 L2243.41 2505.08 L2244.4 2505.21 L2245.4 2505.33 L2246.39 2505.45 L2247.38 2505.57 L2248.37 2505.7 L2249.37 2505.82 L2250.36 2505.94 L2251.35 2506.06 L2252.34 2506.18 L2253.33 2506.3 L2254.33 2506.42 L2255.32 2506.54 L2256.31 2506.66 L2257.31 2506.78 L2258.3 2506.9 L2259.29 2507.02 L2260.28 2507.14 L2261.28 2507.26 L2262.27 2507.37 L2262.48 2507.4" stroke="#D95319" stroke-width="7" stroke-dasharray="25 23" stroke-dashoffset="36.5"/>
<path d="M2262.48 2507.4 L2263.26 2507.49 L2264.26 2507.61 L2265.25 2507.72 L2266.24 2507.84 L2267.23 2507.96 L2268.23 2508.07 L2269.22 2508.19 L2270.21 2508.3 L2271.21 2508.42 L2272.2 2508.53 L2273.19 2508.65 L2274.19 2508.76 L2275.18 2508.87 L2276.17 2508.99 L2277.17 2509.1 L2278.16 2509.21 L2279.15 2509.32 L2280.15 2509.44 L2281.14 2509.55 L2282.14 2509.66 L2283.13 2509.77 L2284.12 2509.88 L2285.12 2509.99 L2286.11 2510.1 L2287.1 2510.21 L2288.1 2510.32 L2289.09 2510.43 L2290.09 2510.54 L2291.08 2510.65 L2292.07 2510.76 L2293.07 2510.86 L2294.06 2510.97 L2295.06 2511.08 L2296.05 2511.18 L2297.04 2511.29 L2298.04 2511.4 L2299.03 2511.5 L2300.03 2511.61 L2301.02 2511.71 L2302.02 2511.82 L2303.01 2511.92 L2304 2512.03 L2305 2512.13 L2305.99 2512.23 L2306.99 2512.34 L2307.98 2512.44 L2308.98 2512.54 L2309.56 2512.6" stroke="#D95319" stroke-width="7" stroke-dasharray="25 23" stroke-dashoffset="36.5"/>
<path d="M2309.56 2512.6 L2309.97 2512.65 L2310.97 2512.75 L2311.96 2512.85 L2312.96 2512.95 L2313.95 2513.05 L2314.95 2513.15 L2315.94 2513.25 L2316.94 2513.35 L2317.93 2513.45 L2318.93 2513.55 L2319.92 2513.65 L2320.92 2513.75 L2321.91 2513.85 L2322.91 2513.95 L2323.9 2514.04 L2324.9 2514.14 L2325.89 2514.24 L2326.89 2514.33 L2327.88 2514.43 L2328.88 2514.53 L2329.87 2514.62 L2330.87 2514.72 L2331.86 2514.81 L2332.86 2514.91 L2333.85 2515 L2334.85 2515.1 L2335.85 2515.19 L2336.84 2515.28 L2337.84 2515.38 L2338.83 2515.47 L2339.83 2515.56 L2340.82 2515.65 L2341.82 2515.75 L2342.82 2515.84 L2343.81 2515.93 L2344.81 2516.02 L2345.8 2516.11 L2346.8 2516.2 L2347.8 2516.29 L2348.79 2516.38 L2349.79 2516.47 L2350.78 2516.56 L2351.78 2516.65 L2352.78 2516.73 L2353.77 2516.82 L2354.77 2516.91 L2355.76 2517 L2356.24 2517.04" stroke="#D95319" stroke-width="7" stroke-dasharray="25 23" stroke-dashoffset="36.5"/>
<path d="M2356.24 2517.04 L2356.76 2517.08 L2357.76 2517.17 L2358.75 2517.26 L2359.75 2517.34 L2360.75 2517.43 L2361.74 2517.51 L2362.74 2517.6 L2363.73 2517.68 L2364.73 2517.77 L2365.73 2517.85 L2366.72 2517.94 L2367.72 2518.02 L2368.72 2518.1 L2369.71 2518.18 L2370.71 2518.27 L2371.71 2518.35 L2372.7 2518.43 L2373.7 2518.51 L2374.7 2518.59 L2375.69 2518.67 L2376.69 2518.75 L2377.69 2518.83 L2378.69 2518.91 L2379.68 2518.99 L2380.68 2519.07 L2381.68 2519.15 L2382.67 2519.23 L2383.67 2519.31 L2384.67 2519.39 L2385.66 2519.46 L2386.66 2519.54 L2387.66 2519.62 L2388.66 2519.69 L2389.65 2519.77 L2390.65 2519.85 L2391.65 2519.92 L2392.64 2520 L2393.64 2520.07 L2394.64 2520.14 L2395.64 2520.22 L2396.63 2520.29 L2397.63 2520.37 L2398.63 2520.44 L2399.63 2520.51 L2400.62 2520.58 L2401.62 2520.66 L2402.62 2520.73 L2403.62 2520.8 L2404.61 2520.87 L2405.61 2520.94 L2406.61 2521.01 L2407.61 2521.08 L2408.61 2521.15 L2409.6 2521.22 L2410.6 2521.29 L2411.6 2521.36 L2412.6 2521.43 L2413.59 2521.5 L2414.59 2521.56" stroke="#D95319" stroke-width="7" stroke-dasharray="25 23" stroke-dashoffset="36.5"/>
</g>
<text transform="translate(1315.5 2791.5) scale(1 1.06)" text-anchor="middle" class="lab">Frequency (rad/s)</text>
<text transform="translate(82 630) rotate(-90) scale(1 1.06)" text-anchor="middle" class="lab">Magnitude (db)</text>
<text transform="translate(82 2060.5) rotate(-90) scale(1 1.06)" text-anchor="middle" class="lab">Phase (deg)</text>
<rect x="2199.5" y="71.5" width="191" height="245.0" fill="#fff" stroke="#262626" stroke-width="1"/>
<line x1="2208" y1="114.5" x2="2298" y2="114.5" stroke="#0072BD" stroke-width="7"/>
<text transform="translate(2305 139) scale(1 1.05)" class="lg">(1)</text>
<line x1="2208" y1="193.5" x2="2298" y2="193.5" stroke="#D95319" stroke-width="7" stroke-dasharray="25 23"/>
<text transform="translate(2305 218) scale(1 1.05)" class="lg">(2)</text>
<line x1="2208" y1="272.5" x2="2298" y2="272.5" stroke="#EDB120" stroke-width="5" stroke-dasharray="4 2"/>
<text transform="translate(2305 297) scale(1 1.05)" class="lg">(3)</text>
<rect x="2199.5" y="1508.5" width="191" height="167.0" fill="#fff" stroke="#262626" stroke-width="1"/>
<line x1="2208" y1="1552.5" x2="2298" y2="1552.5" stroke="#0072BD" stroke-width="7"/>
<text transform="translate(2305 1577) scale(1 1.05)" class="lg">(1)</text>
<line x1="2208" y1="1631.5" x2="2298" y2="1631.5" stroke="#D95319" stroke-width="7" stroke-dasharray="25 23"/>
<text transform="translate(2305 1656) scale(1 1.05)" class="lg">(2)</text>
</svg>
</body></html>
